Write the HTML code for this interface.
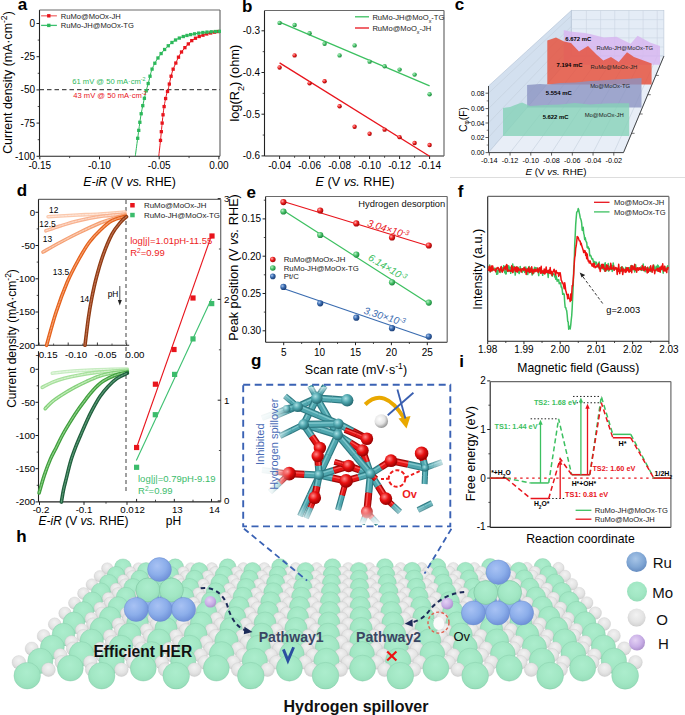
<!DOCTYPE html>
<html><head><meta charset="utf-8"><style>
html,body{margin:0;padding:0;background:#fff;}
svg{display:block;font-family:"Liberation Sans", sans-serif;}
</style></head><body>
<svg width="685" height="715" viewBox="0 0 685 715">
<defs>
<radialGradient id="gG" cx="35%" cy="35%" r="65%"><stop offset="0" stop-color="#b8f0c8"/><stop offset="0.5" stop-color="#4cc46c"/><stop offset="1" stop-color="#1f8a40"/></radialGradient>
<radialGradient id="gR" cx="35%" cy="35%" r="65%"><stop offset="0" stop-color="#ffb0b0"/><stop offset="0.5" stop-color="#ee2020"/><stop offset="1" stop-color="#a00808"/></radialGradient>
<radialGradient id="gB" cx="35%" cy="35%" r="65%"><stop offset="0" stop-color="#a8c4ee"/><stop offset="0.5" stop-color="#3a6cb0"/><stop offset="1" stop-color="#1c3f78"/></radialGradient>
<radialGradient id="sG" cx="50%" cy="42%" r="62%" fx="48%" fy="36%"><stop offset="0" stop-color="#acedcd"/><stop offset="0.6" stop-color="#a2e7c4"/><stop offset="0.88" stop-color="#98dfbb"/><stop offset="1" stop-color="#86d2ab"/></radialGradient>
<radialGradient id="sW" cx="50%" cy="40%" r="62%" fx="48%" fy="34%"><stop offset="0" stop-color="#f2f2f2"/><stop offset="0.6" stop-color="#e4e4e4"/><stop offset="0.88" stop-color="#d6d6d6"/><stop offset="1" stop-color="#c0c0c0"/></radialGradient>
<radialGradient id="sRu" cx="40%" cy="35%" r="70%"><stop offset="0" stop-color="#a8c2f4"/><stop offset="0.55" stop-color="#8caeea"/><stop offset="1" stop-color="#6b8dd6"/></radialGradient>
<radialGradient id="sH" cx="40%" cy="35%" r="70%"><stop offset="0" stop-color="#e4d2f4"/><stop offset="0.6" stop-color="#c8aee6"/><stop offset="1" stop-color="#a88cc8"/></radialGradient>
<radialGradient id="mR" cx="38%" cy="35%" r="65%"><stop offset="0" stop-color="#ff8a8a"/><stop offset="0.5" stop-color="#e81010"/><stop offset="1" stop-color="#980000"/></radialGradient>
<radialGradient id="mT" cx="38%" cy="35%" r="65%"><stop offset="0" stop-color="#a8e0e4"/><stop offset="0.5" stop-color="#4fa6ae"/><stop offset="1" stop-color="#256a72"/></radialGradient>
<radialGradient id="mW" cx="38%" cy="35%" r="65%"><stop offset="0" stop-color="#ffffff"/><stop offset="0.6" stop-color="#e4e4e4"/><stop offset="1" stop-color="#9a9a9a"/></radialGradient>
<linearGradient id="fadeL" x1="0" y1="0" x2="1" y2="0"><stop offset="0" stop-color="#fff" stop-opacity="1"/><stop offset="0.13" stop-color="#fff" stop-opacity="0.9"/><stop offset="0.22" stop-color="#fff" stop-opacity="0"/><stop offset="0.9" stop-color="#fff" stop-opacity="0"/><stop offset="1" stop-color="#fff" stop-opacity="0.9"/></linearGradient>
<linearGradient id="fadeB" x1="0" y1="0" x2="0" y2="1"><stop offset="0" stop-color="#fff" stop-opacity="0.6"/><stop offset="0.05" stop-color="#fff" stop-opacity="0"/><stop offset="0.86" stop-color="#fff" stop-opacity="0"/><stop offset="1" stop-color="#fff" stop-opacity="0.95"/></linearGradient>
<radialGradient id="sRuL" cx="45%" cy="35%" r="70%"><stop offset="0" stop-color="#a8c6e8"/><stop offset="0.6" stop-color="#80a6d4"/><stop offset="1" stop-color="#5f86bc"/></radialGradient>
</defs>
<text x="17.8" y="10.3" font-size="17" fill="#000" font-weight="bold" >a</text>
<line x1="39.5" y1="156.3" x2="220" y2="156.3" stroke="#222" stroke-width="1.1" />
<line x1="39.5" y1="10" x2="39.5" y2="156.3" stroke="#222" stroke-width="1.1" />
<line x1="39.5" y1="10" x2="220" y2="10" stroke="#6a6a6a" stroke-width="1.2" />
<line x1="220" y1="10" x2="220" y2="156.3" stroke="#6a6a6a" stroke-width="1.2" />
<line x1="36.5" y1="23.5" x2="39.5" y2="23.5" stroke="#222" stroke-width="1" />
<text x="35" y="27" font-size="10" fill="#000" text-anchor="end" >0</text>
<line x1="36.5" y1="56.7" x2="39.5" y2="56.7" stroke="#222" stroke-width="1" />
<text x="35" y="60.2" font-size="10" fill="#000" text-anchor="end" >-25</text>
<line x1="36.5" y1="89.9" x2="39.5" y2="89.9" stroke="#222" stroke-width="1" />
<text x="35" y="93.4" font-size="10" fill="#000" text-anchor="end" >-50</text>
<line x1="36.5" y1="123.1" x2="39.5" y2="123.1" stroke="#222" stroke-width="1" />
<text x="35" y="126.6" font-size="10" fill="#000" text-anchor="end" >-75</text>
<line x1="36.5" y1="156.3" x2="39.5" y2="156.3" stroke="#222" stroke-width="1" />
<text x="35" y="159.8" font-size="10" fill="#000" text-anchor="end" >-100</text>
<line x1="37.7" y1="40.1" x2="39.5" y2="40.1" stroke="#222" stroke-width="0.8" />
<line x1="37.7" y1="73.3" x2="39.5" y2="73.3" stroke="#222" stroke-width="0.8" />
<line x1="37.7" y1="106.5" x2="39.5" y2="106.5" stroke="#222" stroke-width="0.8" />
<line x1="37.7" y1="139.7" x2="39.5" y2="139.7" stroke="#222" stroke-width="0.8" />
<line x1="39.8" y1="156.3" x2="39.8" y2="159.3" stroke="#222" stroke-width="1" />
<text x="39.8" y="169.2" font-size="10" fill="#000" text-anchor="middle" >-0.15</text>
<line x1="99.5" y1="156.3" x2="99.5" y2="159.3" stroke="#222" stroke-width="1" />
<text x="99.5" y="169.2" font-size="10" fill="#000" text-anchor="middle" >-0.10</text>
<line x1="159.2" y1="156.3" x2="159.2" y2="159.3" stroke="#222" stroke-width="1" />
<text x="159.2" y="169.2" font-size="10" fill="#000" text-anchor="middle" >-0.05</text>
<line x1="218.9" y1="156.3" x2="218.9" y2="159.3" stroke="#222" stroke-width="1" />
<text x="218.9" y="169.2" font-size="10" fill="#000" text-anchor="middle" >0.00</text>
<line x1="69.65" y1="156.3" x2="69.65" y2="158.1" stroke="#222" stroke-width="0.8" />
<line x1="129.35" y1="156.3" x2="129.35" y2="158.1" stroke="#222" stroke-width="0.8" />
<line x1="189.05" y1="156.3" x2="189.05" y2="158.1" stroke="#222" stroke-width="0.8" />
<text x="129.6" y="186.3" font-size="12.35" fill="#000" text-anchor="middle" ><tspan font-style="italic">E-iR</tspan> (V <tspan font-style="italic">vs.</tspan> RHE)</text>
<text x="11.8" y="82.5" font-size="12.4" fill="#000" text-anchor="middle" transform="rotate(-90 11.8 82.5)">Current density (mA·cm<tspan baseline-shift="super" font-size="70%">-2</tspan>)</text>
<line x1="39.5" y1="89.7" x2="220" y2="89.7" stroke="#222" stroke-width="1" stroke-dasharray="4.5,3"/>
<path d="M158.8,156 C159.08,153.4 159.72,147.93 160.5,140.4 C161.28,132.87 162.52,118.37 163.5,110.8 C164.48,103.23 165.63,98.52 166.4,95 C167.17,91.48 167.47,92.2 168.1,89.7 C168.73,87.2 169.47,83.12 170.2,80 C170.93,76.88 171.67,73.58 172.5,71 C173.33,68.42 174.35,66.5 175.2,64.5 C176.05,62.5 176.77,60.75 177.6,59 C178.43,57.25 179.3,55.5 180.2,54 C181.1,52.5 181.85,51.47 183,50 C184.15,48.53 185.55,46.83 187.1,45.2 C188.65,43.57 190.55,41.53 192.3,40.2 C194.05,38.87 195.82,38.03 197.6,37.2 C199.38,36.37 201.25,35.8 203,35.2 C204.75,34.6 206.27,34.08 208.1,33.6 C209.93,33.12 212.02,32.68 214,32.3 C215.98,31.92 219,31.47 220,31.3" fill="none" stroke="#e8141c" stroke-width="1" />
<rect x="158.85" y="138.75" width="3.3" height="3.3" fill="#e8141c" stroke="none" stroke-width="1" />
<rect x="159.68" y="130.03" width="3.3" height="3.3" fill="#e8141c" stroke="none" stroke-width="1" />
<rect x="160.51" y="121.42" width="3.3" height="3.3" fill="#e8141c" stroke="none" stroke-width="1" />
<rect x="161.38" y="113.13" width="3.3" height="3.3" fill="#e8141c" stroke="none" stroke-width="1" />
<rect x="162.46" y="104.94" width="3.3" height="3.3" fill="#e8141c" stroke="none" stroke-width="1" />
<rect x="163.97" y="96.88" width="3.3" height="3.3" fill="#e8141c" stroke="none" stroke-width="1" />
<rect x="165.87" y="89.81" width="3.3" height="3.3" fill="#e8141c" stroke="none" stroke-width="1" />
<rect x="167.68" y="82.39" width="3.3" height="3.3" fill="#e8141c" stroke="none" stroke-width="1" />
<rect x="169.44" y="74.58" width="3.3" height="3.3" fill="#e8141c" stroke="none" stroke-width="1" />
<rect x="171.5" y="67.53" width="3.3" height="3.3" fill="#e8141c" stroke="none" stroke-width="1" />
<rect x="174.17" y="61.39" width="3.3" height="3.3" fill="#e8141c" stroke="none" stroke-width="1" />
<rect x="176.84" y="55.52" width="3.3" height="3.3" fill="#e8141c" stroke="none" stroke-width="1" />
<rect x="179.86" y="50.34" width="3.3" height="3.3" fill="#e8141c" stroke="none" stroke-width="1" />
<rect x="183.25" y="46.01" width="3.3" height="3.3" fill="#e8141c" stroke="none" stroke-width="1" />
<rect x="186.67" y="42.27" width="3.3" height="3.3" fill="#e8141c" stroke="none" stroke-width="1" />
<rect x="190.12" y="38.97" width="3.3" height="3.3" fill="#e8141c" stroke="none" stroke-width="1" />
<rect x="193.82" y="36.58" width="3.3" height="3.3" fill="#e8141c" stroke="none" stroke-width="1" />
<rect x="197.57" y="34.86" width="3.3" height="3.3" fill="#e8141c" stroke="none" stroke-width="1" />
<rect x="201.35" y="33.55" width="3.3" height="3.3" fill="#e8141c" stroke="none" stroke-width="1" />
<rect x="205.13" y="32.32" width="3.3" height="3.3" fill="#e8141c" stroke="none" stroke-width="1" />
<rect x="209.04" y="31.33" width="3.3" height="3.3" fill="#e8141c" stroke="none" stroke-width="1" />
<rect x="212.97" y="30.53" width="3.3" height="3.3" fill="#e8141c" stroke="none" stroke-width="1" />
<rect x="216.69" y="29.91" width="3.3" height="3.3" fill="#e8141c" stroke="none" stroke-width="1" />
<path d="M135.3,156 C135.7,153.05 136.75,145.17 137.7,138.3 C138.65,131.43 139.78,121.9 141,114.8 C142.22,107.7 143.68,101.35 145,95.7 C146.32,90.05 147.78,85.17 148.9,80.9 C150.02,76.63 150.53,73.37 151.7,70.1 C152.87,66.83 154.58,63.7 155.9,61.3 C157.22,58.9 158.35,57.45 159.6,55.7 C160.85,53.95 161.6,52.78 163.4,50.8 C165.2,48.82 168.2,45.7 170.4,43.8 C172.6,41.9 174.12,40.72 176.6,39.4 C179.08,38.08 181.8,36.92 185.3,35.9 C188.8,34.88 193.8,33.95 197.6,33.3 C201.4,32.65 204.37,32.33 208.1,32 C211.83,31.67 218.02,31.42 220,31.3" fill="none" stroke="#2cb85a" stroke-width="1" />
<rect x="136.05" y="136.65" width="3.3" height="3.3" fill="#2cb85a" stroke="none" stroke-width="1" />
<rect x="137.1" y="128.73" width="3.3" height="3.3" fill="#2cb85a" stroke="none" stroke-width="1" />
<rect x="138.2" y="120.62" width="3.3" height="3.3" fill="#2cb85a" stroke="none" stroke-width="1" />
<rect x="139.53" y="112.09" width="3.3" height="3.3" fill="#2cb85a" stroke="none" stroke-width="1" />
<rect x="141.11" y="104.02" width="3.3" height="3.3" fill="#2cb85a" stroke="none" stroke-width="1" />
<rect x="142.75" y="96.64" width="3.3" height="3.3" fill="#2cb85a" stroke="none" stroke-width="1" />
<rect x="144.56" y="89.17" width="3.3" height="3.3" fill="#2cb85a" stroke="none" stroke-width="1" />
<rect x="146.54" y="81.89" width="3.3" height="3.3" fill="#2cb85a" stroke="none" stroke-width="1" />
<rect x="148.38" y="74.55" width="3.3" height="3.3" fill="#2cb85a" stroke="none" stroke-width="1" />
<rect x="150.42" y="67.47" width="3.3" height="3.3" fill="#2cb85a" stroke="none" stroke-width="1" />
<rect x="153.2" y="61.58" width="3.3" height="3.3" fill="#2cb85a" stroke="none" stroke-width="1" />
<rect x="156.31" y="56.34" width="3.3" height="3.3" fill="#2cb85a" stroke="none" stroke-width="1" />
<rect x="159.47" y="51.91" width="3.3" height="3.3" fill="#2cb85a" stroke="none" stroke-width="1" />
<rect x="162.96" y="47.84" width="3.3" height="3.3" fill="#2cb85a" stroke="none" stroke-width="1" />
<rect x="166.61" y="44.13" width="3.3" height="3.3" fill="#2cb85a" stroke="none" stroke-width="1" />
<rect x="170.3" y="40.85" width="3.3" height="3.3" fill="#2cb85a" stroke="none" stroke-width="1" />
<rect x="173.89" y="38.34" width="3.3" height="3.3" fill="#2cb85a" stroke="none" stroke-width="1" />
<rect x="177.67" y="36.42" width="3.3" height="3.3" fill="#2cb85a" stroke="none" stroke-width="1" />
<rect x="181.64" y="34.88" width="3.3" height="3.3" fill="#2cb85a" stroke="none" stroke-width="1" />
<rect x="185.32" y="33.8" width="3.3" height="3.3" fill="#2cb85a" stroke="none" stroke-width="1" />
<rect x="189.04" y="32.95" width="3.3" height="3.3" fill="#2cb85a" stroke="none" stroke-width="1" />
<rect x="192.92" y="32.19" width="3.3" height="3.3" fill="#2cb85a" stroke="none" stroke-width="1" />
<rect x="197.07" y="31.46" width="3.3" height="3.3" fill="#2cb85a" stroke="none" stroke-width="1" />
<rect x="201.22" y="30.88" width="3.3" height="3.3" fill="#2cb85a" stroke="none" stroke-width="1" />
<rect x="205.35" y="30.45" width="3.3" height="3.3" fill="#2cb85a" stroke="none" stroke-width="1" />
<rect x="209.61" y="30.12" width="3.3" height="3.3" fill="#2cb85a" stroke="none" stroke-width="1" />
<rect x="213.73" y="29.88" width="3.3" height="3.3" fill="#2cb85a" stroke="none" stroke-width="1" />
<rect x="217.64" y="29.69" width="3.3" height="3.3" fill="#2cb85a" stroke="none" stroke-width="1" />
<line x1="41.1" y1="15.8" x2="56.9" y2="15.8" stroke="#f07070" stroke-width="1.3" />
<rect x="47.1" y="14.1" width="3.4" height="3.4" fill="#e8141c" stroke="none" stroke-width="1" />
<line x1="41.1" y1="25.4" x2="56.9" y2="25.4" stroke="#3cc070" stroke-width="1.3" />
<rect x="47.1" y="23.7" width="3.4" height="3.4" fill="#2cb85a" stroke="none" stroke-width="1" />
<text x="60.7" y="18.5" font-size="7.6" fill="#222" >RuMo@MoOx-JH</text>
<text x="60.7" y="28.1" font-size="7.6" fill="#222" >RuMo-JH@MoOx-TG</text>
<text x="145.5" y="84.2" font-size="7.6" fill="#2cb85a" text-anchor="end" >61 mV @ 50 mA·cm<tspan baseline-shift="super" font-size="70%">-2</tspan></text>
<text x="146.5" y="97.6" font-size="7.6" fill="#e8141c" text-anchor="end" >43 mV @ 50 mA·cm<tspan baseline-shift="super" font-size="70%">-2</tspan></text>
<text x="242.1" y="12" font-size="17" fill="#000" font-weight="bold" >b</text>
<line x1="264.5" y1="156" x2="444" y2="156" stroke="#222" stroke-width="1.1" />
<line x1="264.5" y1="10.5" x2="264.5" y2="156" stroke="#222" stroke-width="1.1" />
<line x1="264.5" y1="10.5" x2="444" y2="10.5" stroke="#6a6a6a" stroke-width="1.2" />
<line x1="444" y1="10.5" x2="444" y2="156" stroke="#6a6a6a" stroke-width="1.2" />
<line x1="261.5" y1="30.8" x2="264.5" y2="30.8" stroke="#222" stroke-width="1" />
<text x="260" y="34.3" font-size="10" fill="#000" text-anchor="end" >-0.3</text>
<line x1="261.5" y1="72.5" x2="264.5" y2="72.5" stroke="#222" stroke-width="1" />
<text x="260" y="76" font-size="10" fill="#000" text-anchor="end" >-0.4</text>
<line x1="261.5" y1="114.2" x2="264.5" y2="114.2" stroke="#222" stroke-width="1" />
<text x="260" y="117.7" font-size="10" fill="#000" text-anchor="end" >-0.5</text>
<line x1="261.5" y1="155.9" x2="264.5" y2="155.9" stroke="#222" stroke-width="1" />
<text x="260" y="159.4" font-size="10" fill="#000" text-anchor="end" >-0.6</text>
<line x1="262.7" y1="51.65" x2="264.5" y2="51.65" stroke="#222" stroke-width="0.8" />
<line x1="262.7" y1="93.35" x2="264.5" y2="93.35" stroke="#222" stroke-width="0.8" />
<line x1="262.7" y1="135.05" x2="264.5" y2="135.05" stroke="#222" stroke-width="0.8" />
<line x1="279.6" y1="156" x2="279.6" y2="159" stroke="#222" stroke-width="1" />
<text x="279.6" y="169.2" font-size="10" fill="#000" text-anchor="middle" >-0.04</text>
<line x1="309.6" y1="156" x2="309.6" y2="159" stroke="#222" stroke-width="1" />
<text x="309.6" y="169.2" font-size="10" fill="#000" text-anchor="middle" >-0.06</text>
<line x1="339.6" y1="156" x2="339.6" y2="159" stroke="#222" stroke-width="1" />
<text x="339.6" y="169.2" font-size="10" fill="#000" text-anchor="middle" >-0.08</text>
<line x1="369.6" y1="156" x2="369.6" y2="159" stroke="#222" stroke-width="1" />
<text x="369.6" y="169.2" font-size="10" fill="#000" text-anchor="middle" >-0.10</text>
<line x1="399.6" y1="156" x2="399.6" y2="159" stroke="#222" stroke-width="1" />
<text x="399.6" y="169.2" font-size="10" fill="#000" text-anchor="middle" >-0.12</text>
<line x1="429.6" y1="156" x2="429.6" y2="159" stroke="#222" stroke-width="1" />
<text x="429.6" y="169.2" font-size="10" fill="#000" text-anchor="middle" >-0.14</text>
<line x1="294.6" y1="156" x2="294.6" y2="157.8" stroke="#222" stroke-width="0.8" />
<line x1="324.6" y1="156" x2="324.6" y2="157.8" stroke="#222" stroke-width="0.8" />
<line x1="354.6" y1="156" x2="354.6" y2="157.8" stroke="#222" stroke-width="0.8" />
<line x1="384.6" y1="156" x2="384.6" y2="157.8" stroke="#222" stroke-width="0.8" />
<line x1="414.6" y1="156" x2="414.6" y2="157.8" stroke="#222" stroke-width="0.8" />
<text x="354.9" y="186.3" font-size="12.7" fill="#000" text-anchor="middle" ><tspan font-style="italic">E</tspan> (V <tspan font-style="italic">vs.</tspan> RHE)</text>
<text x="238.6" y="83.2" font-size="12.8" fill="#000" text-anchor="middle" transform="rotate(-90 238.6 83.2)">log(R<tspan baseline-shift="sub" font-size="70%">2</tspan>) (ohm)</text>
<line x1="279.6" y1="22.04" x2="429.6" y2="85.84" stroke="#3cc060" stroke-width="1.3" />
<line x1="279.6" y1="62.91" x2="429.6" y2="156.32" stroke="#e8141c" stroke-width="1.3" />
<circle cx="279.6" cy="22.88" r="2.2" fill="url(#gG)" />
<circle cx="279.6" cy="67.5" r="2.2" fill="url(#gR)" />
<circle cx="294.6" cy="24.96" r="2.2" fill="url(#gG)" />
<circle cx="294.6" cy="55.4" r="2.2" fill="url(#gR)" />
<circle cx="309.6" cy="33.3" r="2.2" fill="url(#gG)" />
<circle cx="309.6" cy="83.34" r="2.2" fill="url(#gR)" />
<circle cx="324.6" cy="43.73" r="2.2" fill="url(#gG)" />
<circle cx="324.6" cy="81.26" r="2.2" fill="url(#gR)" />
<circle cx="339.6" cy="55.4" r="2.2" fill="url(#gG)" />
<circle cx="339.6" cy="106.28" r="2.2" fill="url(#gR)" />
<circle cx="354.6" cy="45.4" r="2.2" fill="url(#gG)" />
<circle cx="354.6" cy="126.71" r="2.2" fill="url(#gR)" />
<circle cx="369.6" cy="61.66" r="2.2" fill="url(#gG)" />
<circle cx="369.6" cy="133.8" r="2.2" fill="url(#gR)" />
<circle cx="384.6" cy="66.25" r="2.2" fill="url(#gG)" />
<circle cx="384.6" cy="129.63" r="2.2" fill="url(#gR)" />
<circle cx="399.6" cy="69.58" r="2.2" fill="url(#gG)" />
<circle cx="399.6" cy="137.14" r="2.2" fill="url(#gR)" />
<circle cx="414.6" cy="74.59" r="2.2" fill="url(#gG)" />
<circle cx="414.6" cy="142.97" r="2.2" fill="url(#gR)" />
<circle cx="429.6" cy="94.18" r="2.2" fill="url(#gG)" />
<circle cx="429.6" cy="145.06" r="2.2" fill="url(#gR)" />
<line x1="355" y1="16.8" x2="369" y2="16.8" stroke="#3cc060" stroke-width="1.3" />
<line x1="355" y1="28" x2="369" y2="28" stroke="#e8141c" stroke-width="1.3" />
<text x="372.4" y="19.5" font-size="7.6" fill="#222" >RuMo-JH@MoO<tspan baseline-shift="sub" font-size="70%">x</tspan>-TG</text>
<text x="372.4" y="30.7" font-size="7.6" fill="#222" >RuMo@MoO<tspan baseline-shift="sub" font-size="70%">x</tspan>-JH</text>
<text x="16.3" y="542.2" font-size="17" fill="#000" font-weight="bold" >h</text>
<circle cx="107.22" cy="568.39" r="5.68" fill="url(#sW)" stroke="#bcbcbc" stroke-width="0.4" stroke-opacity="0.6"/>
<circle cx="138.6" cy="568.37" r="5.69" fill="url(#sW)" stroke="#bcbcbc" stroke-width="0.4" stroke-opacity="0.6"/>
<circle cx="159.53" cy="568.35" r="5.69" fill="url(#sW)" stroke="#bcbcbc" stroke-width="0.4" stroke-opacity="0.6"/>
<circle cx="190.94" cy="568.33" r="5.69" fill="url(#sW)" stroke="#bcbcbc" stroke-width="0.4" stroke-opacity="0.6"/>
<circle cx="211.88" cy="568.31" r="5.69" fill="url(#sW)" stroke="#bcbcbc" stroke-width="0.4" stroke-opacity="0.6"/>
<circle cx="243.31" cy="568.28" r="5.69" fill="url(#sW)" stroke="#bcbcbc" stroke-width="0.4" stroke-opacity="0.6"/>
<circle cx="264.28" cy="568.27" r="5.69" fill="url(#sW)" stroke="#bcbcbc" stroke-width="0.4" stroke-opacity="0.6"/>
<circle cx="295.73" cy="568.24" r="5.69" fill="url(#sW)" stroke="#bcbcbc" stroke-width="0.4" stroke-opacity="0.6"/>
<circle cx="316.71" cy="568.22" r="5.69" fill="url(#sW)" stroke="#bcbcbc" stroke-width="0.4" stroke-opacity="0.6"/>
<circle cx="348.19" cy="568.2" r="5.7" fill="url(#sW)" stroke="#bcbcbc" stroke-width="0.4" stroke-opacity="0.6"/>
<circle cx="369.19" cy="568.18" r="5.7" fill="url(#sW)" stroke="#bcbcbc" stroke-width="0.4" stroke-opacity="0.6"/>
<circle cx="400.7" cy="568.16" r="5.7" fill="url(#sW)" stroke="#bcbcbc" stroke-width="0.4" stroke-opacity="0.6"/>
<circle cx="421.71" cy="568.14" r="5.7" fill="url(#sW)" stroke="#bcbcbc" stroke-width="0.4" stroke-opacity="0.6"/>
<circle cx="453.24" cy="568.11" r="5.7" fill="url(#sW)" stroke="#bcbcbc" stroke-width="0.4" stroke-opacity="0.6"/>
<circle cx="474.27" cy="568.1" r="5.7" fill="url(#sW)" stroke="#bcbcbc" stroke-width="0.4" stroke-opacity="0.6"/>
<circle cx="505.82" cy="568.07" r="5.7" fill="url(#sW)" stroke="#bcbcbc" stroke-width="0.4" stroke-opacity="0.6"/>
<circle cx="526.87" cy="568.05" r="5.71" fill="url(#sW)" stroke="#bcbcbc" stroke-width="0.4" stroke-opacity="0.6"/>
<circle cx="558.45" cy="568.03" r="5.71" fill="url(#sW)" stroke="#bcbcbc" stroke-width="0.4" stroke-opacity="0.6"/>
<circle cx="122.91" cy="567.32" r="8.41" fill="url(#sG)" stroke="#7fc7a2" stroke-width="0.5" stroke-opacity="0.7"/>
<circle cx="175.23" cy="567.28" r="8.42" fill="url(#sG)" stroke="#7fc7a2" stroke-width="0.5" stroke-opacity="0.7"/>
<circle cx="227.6" cy="567.23" r="8.42" fill="url(#sG)" stroke="#7fc7a2" stroke-width="0.5" stroke-opacity="0.7"/>
<circle cx="280" cy="567.19" r="8.43" fill="url(#sG)" stroke="#7fc7a2" stroke-width="0.5" stroke-opacity="0.7"/>
<circle cx="332.45" cy="567.15" r="8.44" fill="url(#sG)" stroke="#7fc7a2" stroke-width="0.5" stroke-opacity="0.7"/>
<circle cx="384.94" cy="567.1" r="8.45" fill="url(#sG)" stroke="#7fc7a2" stroke-width="0.5" stroke-opacity="0.7"/>
<circle cx="437.47" cy="567.06" r="8.46" fill="url(#sG)" stroke="#7fc7a2" stroke-width="0.5" stroke-opacity="0.7"/>
<circle cx="490.04" cy="567.02" r="8.47" fill="url(#sG)" stroke="#7fc7a2" stroke-width="0.5" stroke-opacity="0.7"/>
<circle cx="542.66" cy="566.97" r="8.48" fill="url(#sG)" stroke="#7fc7a2" stroke-width="0.5" stroke-opacity="0.7"/>
<circle cx="130.11" cy="572.25" r="5.74" fill="url(#sW)" stroke="#bcbcbc" stroke-width="0.4" stroke-opacity="0.6"/>
<circle cx="161.98" cy="572.23" r="5.74" fill="url(#sW)" stroke="#bcbcbc" stroke-width="0.4" stroke-opacity="0.6"/>
<circle cx="183.24" cy="572.21" r="5.74" fill="url(#sW)" stroke="#bcbcbc" stroke-width="0.4" stroke-opacity="0.6"/>
<circle cx="215.13" cy="572.19" r="5.74" fill="url(#sW)" stroke="#bcbcbc" stroke-width="0.4" stroke-opacity="0.6"/>
<circle cx="236.4" cy="572.17" r="5.74" fill="url(#sW)" stroke="#bcbcbc" stroke-width="0.4" stroke-opacity="0.6"/>
<circle cx="268.32" cy="572.14" r="5.74" fill="url(#sW)" stroke="#bcbcbc" stroke-width="0.4" stroke-opacity="0.6"/>
<circle cx="289.61" cy="572.13" r="5.74" fill="url(#sW)" stroke="#bcbcbc" stroke-width="0.4" stroke-opacity="0.6"/>
<circle cx="321.55" cy="572.1" r="5.75" fill="url(#sW)" stroke="#bcbcbc" stroke-width="0.4" stroke-opacity="0.6"/>
<circle cx="342.86" cy="572.09" r="5.75" fill="url(#sW)" stroke="#bcbcbc" stroke-width="0.4" stroke-opacity="0.6"/>
<circle cx="374.83" cy="572.06" r="5.75" fill="url(#sW)" stroke="#bcbcbc" stroke-width="0.4" stroke-opacity="0.6"/>
<circle cx="396.15" cy="572.05" r="5.75" fill="url(#sW)" stroke="#bcbcbc" stroke-width="0.4" stroke-opacity="0.6"/>
<circle cx="428.15" cy="572.02" r="5.75" fill="url(#sW)" stroke="#bcbcbc" stroke-width="0.4" stroke-opacity="0.6"/>
<circle cx="449.48" cy="572" r="5.75" fill="url(#sW)" stroke="#bcbcbc" stroke-width="0.4" stroke-opacity="0.6"/>
<circle cx="481.51" cy="571.98" r="5.75" fill="url(#sW)" stroke="#bcbcbc" stroke-width="0.4" stroke-opacity="0.6"/>
<circle cx="502.86" cy="571.96" r="5.76" fill="url(#sW)" stroke="#bcbcbc" stroke-width="0.4" stroke-opacity="0.6"/>
<circle cx="534.91" cy="571.94" r="5.76" fill="url(#sW)" stroke="#bcbcbc" stroke-width="0.4" stroke-opacity="0.6"/>
<circle cx="146.05" cy="571.16" r="8.58" fill="url(#sG)" stroke="#7fc7a2" stroke-width="0.5" stroke-opacity="0.7"/>
<circle cx="199.18" cy="571.12" r="8.59" fill="url(#sG)" stroke="#7fc7a2" stroke-width="0.5" stroke-opacity="0.7"/>
<circle cx="252.36" cy="571.08" r="8.59" fill="url(#sG)" stroke="#7fc7a2" stroke-width="0.5" stroke-opacity="0.7"/>
<circle cx="305.58" cy="571.04" r="8.6" fill="url(#sG)" stroke="#7fc7a2" stroke-width="0.5" stroke-opacity="0.7"/>
<circle cx="358.84" cy="570.99" r="8.61" fill="url(#sG)" stroke="#7fc7a2" stroke-width="0.5" stroke-opacity="0.7"/>
<circle cx="412.15" cy="570.95" r="8.62" fill="url(#sG)" stroke="#7fc7a2" stroke-width="0.5" stroke-opacity="0.7"/>
<circle cx="465.49" cy="570.91" r="8.63" fill="url(#sG)" stroke="#7fc7a2" stroke-width="0.5" stroke-opacity="0.7"/>
<circle cx="518.88" cy="570.87" r="8.64" fill="url(#sG)" stroke="#7fc7a2" stroke-width="0.5" stroke-opacity="0.7"/>
<circle cx="99.81" cy="576.27" r="5.79" fill="url(#sW)" stroke="#bcbcbc" stroke-width="0.4" stroke-opacity="0.6"/>
<circle cx="132.15" cy="576.25" r="5.79" fill="url(#sW)" stroke="#bcbcbc" stroke-width="0.4" stroke-opacity="0.6"/>
<circle cx="153.72" cy="576.23" r="5.79" fill="url(#sW)" stroke="#bcbcbc" stroke-width="0.4" stroke-opacity="0.6"/>
<circle cx="186.09" cy="576.21" r="5.79" fill="url(#sW)" stroke="#bcbcbc" stroke-width="0.4" stroke-opacity="0.6"/>
<circle cx="207.68" cy="576.19" r="5.79" fill="url(#sW)" stroke="#bcbcbc" stroke-width="0.4" stroke-opacity="0.6"/>
<circle cx="240.08" cy="576.17" r="5.79" fill="url(#sW)" stroke="#bcbcbc" stroke-width="0.4" stroke-opacity="0.6"/>
<circle cx="261.68" cy="576.15" r="5.8" fill="url(#sW)" stroke="#bcbcbc" stroke-width="0.4" stroke-opacity="0.6"/>
<circle cx="294.1" cy="576.13" r="5.8" fill="url(#sW)" stroke="#bcbcbc" stroke-width="0.4" stroke-opacity="0.6"/>
<circle cx="315.73" cy="576.11" r="5.8" fill="url(#sW)" stroke="#bcbcbc" stroke-width="0.4" stroke-opacity="0.6"/>
<circle cx="348.17" cy="576.09" r="5.8" fill="url(#sW)" stroke="#bcbcbc" stroke-width="0.4" stroke-opacity="0.6"/>
<circle cx="369.82" cy="576.07" r="5.8" fill="url(#sW)" stroke="#bcbcbc" stroke-width="0.4" stroke-opacity="0.6"/>
<circle cx="402.29" cy="576.05" r="5.8" fill="url(#sW)" stroke="#bcbcbc" stroke-width="0.4" stroke-opacity="0.6"/>
<circle cx="423.95" cy="576.03" r="5.8" fill="url(#sW)" stroke="#bcbcbc" stroke-width="0.4" stroke-opacity="0.6"/>
<circle cx="456.45" cy="576.01" r="5.81" fill="url(#sW)" stroke="#bcbcbc" stroke-width="0.4" stroke-opacity="0.6"/>
<circle cx="478.13" cy="575.99" r="5.81" fill="url(#sW)" stroke="#bcbcbc" stroke-width="0.4" stroke-opacity="0.6"/>
<circle cx="510.65" cy="575.97" r="5.81" fill="url(#sW)" stroke="#bcbcbc" stroke-width="0.4" stroke-opacity="0.6"/>
<circle cx="532.35" cy="575.95" r="5.81" fill="url(#sW)" stroke="#bcbcbc" stroke-width="0.4" stroke-opacity="0.6"/>
<circle cx="564.9" cy="575.92" r="5.81" fill="url(#sW)" stroke="#bcbcbc" stroke-width="0.4" stroke-opacity="0.6"/>
<circle cx="115.98" cy="575.17" r="8.74" fill="url(#sG)" stroke="#7fc7a2" stroke-width="0.5" stroke-opacity="0.7"/>
<circle cx="169.91" cy="575.13" r="8.75" fill="url(#sG)" stroke="#7fc7a2" stroke-width="0.5" stroke-opacity="0.7"/>
<circle cx="223.88" cy="575.08" r="8.76" fill="url(#sG)" stroke="#7fc7a2" stroke-width="0.5" stroke-opacity="0.7"/>
<circle cx="277.89" cy="575.04" r="8.77" fill="url(#sG)" stroke="#7fc7a2" stroke-width="0.5" stroke-opacity="0.7"/>
<circle cx="331.95" cy="575" r="8.78" fill="url(#sG)" stroke="#7fc7a2" stroke-width="0.5" stroke-opacity="0.7"/>
<circle cx="386.05" cy="574.96" r="8.79" fill="url(#sG)" stroke="#7fc7a2" stroke-width="0.5" stroke-opacity="0.7"/>
<circle cx="440.2" cy="574.92" r="8.8" fill="url(#sG)" stroke="#7fc7a2" stroke-width="0.5" stroke-opacity="0.7"/>
<circle cx="494.39" cy="574.88" r="8.81" fill="url(#sG)" stroke="#7fc7a2" stroke-width="0.5" stroke-opacity="0.7"/>
<circle cx="548.62" cy="574.84" r="8.82" fill="url(#sG)" stroke="#7fc7a2" stroke-width="0.5" stroke-opacity="0.7"/>
<circle cx="123.3" cy="580.38" r="5.84" fill="url(#sW)" stroke="#bcbcbc" stroke-width="0.4" stroke-opacity="0.6"/>
<circle cx="156.16" cy="580.35" r="5.84" fill="url(#sW)" stroke="#bcbcbc" stroke-width="0.4" stroke-opacity="0.6"/>
<circle cx="178.08" cy="580.34" r="5.85" fill="url(#sW)" stroke="#bcbcbc" stroke-width="0.4" stroke-opacity="0.6"/>
<circle cx="210.96" cy="580.31" r="5.85" fill="url(#sW)" stroke="#bcbcbc" stroke-width="0.4" stroke-opacity="0.6"/>
<circle cx="232.9" cy="580.3" r="5.85" fill="url(#sW)" stroke="#bcbcbc" stroke-width="0.4" stroke-opacity="0.6"/>
<circle cx="265.81" cy="580.27" r="5.85" fill="url(#sW)" stroke="#bcbcbc" stroke-width="0.4" stroke-opacity="0.6"/>
<circle cx="287.76" cy="580.26" r="5.85" fill="url(#sW)" stroke="#bcbcbc" stroke-width="0.4" stroke-opacity="0.6"/>
<circle cx="320.7" cy="580.23" r="5.85" fill="url(#sW)" stroke="#bcbcbc" stroke-width="0.4" stroke-opacity="0.6"/>
<circle cx="342.67" cy="580.22" r="5.85" fill="url(#sW)" stroke="#bcbcbc" stroke-width="0.4" stroke-opacity="0.6"/>
<circle cx="375.64" cy="580.2" r="5.86" fill="url(#sW)" stroke="#bcbcbc" stroke-width="0.4" stroke-opacity="0.6"/>
<circle cx="397.63" cy="580.18" r="5.86" fill="url(#sW)" stroke="#bcbcbc" stroke-width="0.4" stroke-opacity="0.6"/>
<circle cx="430.62" cy="580.16" r="5.86" fill="url(#sW)" stroke="#bcbcbc" stroke-width="0.4" stroke-opacity="0.6"/>
<circle cx="452.63" cy="580.14" r="5.86" fill="url(#sW)" stroke="#bcbcbc" stroke-width="0.4" stroke-opacity="0.6"/>
<circle cx="485.65" cy="580.12" r="5.86" fill="url(#sW)" stroke="#bcbcbc" stroke-width="0.4" stroke-opacity="0.6"/>
<circle cx="507.67" cy="580.1" r="5.86" fill="url(#sW)" stroke="#bcbcbc" stroke-width="0.4" stroke-opacity="0.6"/>
<circle cx="540.72" cy="580.08" r="5.86" fill="url(#sW)" stroke="#bcbcbc" stroke-width="0.4" stroke-opacity="0.6"/>
<circle cx="139.73" cy="579.25" r="8.93" fill="url(#sG)" stroke="#7fc7a2" stroke-width="0.5" stroke-opacity="0.7"/>
<circle cx="194.52" cy="579.21" r="8.93" fill="url(#sG)" stroke="#7fc7a2" stroke-width="0.5" stroke-opacity="0.7"/>
<circle cx="249.35" cy="579.17" r="8.94" fill="url(#sG)" stroke="#7fc7a2" stroke-width="0.5" stroke-opacity="0.7"/>
<circle cx="304.23" cy="579.13" r="8.95" fill="url(#sG)" stroke="#7fc7a2" stroke-width="0.5" stroke-opacity="0.7"/>
<circle cx="359.15" cy="579.09" r="8.96" fill="url(#sG)" stroke="#7fc7a2" stroke-width="0.5" stroke-opacity="0.7"/>
<circle cx="414.12" cy="579.05" r="8.97" fill="url(#sG)" stroke="#7fc7a2" stroke-width="0.5" stroke-opacity="0.7"/>
<circle cx="469.14" cy="579.01" r="8.98" fill="url(#sG)" stroke="#7fc7a2" stroke-width="0.5" stroke-opacity="0.7"/>
<circle cx="524.2" cy="578.97" r="8.99" fill="url(#sG)" stroke="#7fc7a2" stroke-width="0.5" stroke-opacity="0.7"/>
<circle cx="91.93" cy="584.65" r="5.9" fill="url(#sW)" stroke="#bcbcbc" stroke-width="0.4" stroke-opacity="0.6"/>
<circle cx="125.3" cy="584.63" r="5.9" fill="url(#sW)" stroke="#bcbcbc" stroke-width="0.4" stroke-opacity="0.6"/>
<circle cx="147.55" cy="584.61" r="5.9" fill="url(#sW)" stroke="#bcbcbc" stroke-width="0.4" stroke-opacity="0.6"/>
<circle cx="180.94" cy="584.59" r="5.9" fill="url(#sW)" stroke="#bcbcbc" stroke-width="0.4" stroke-opacity="0.6"/>
<circle cx="203.21" cy="584.57" r="5.9" fill="url(#sW)" stroke="#bcbcbc" stroke-width="0.4" stroke-opacity="0.6"/>
<circle cx="236.63" cy="584.55" r="5.9" fill="url(#sW)" stroke="#bcbcbc" stroke-width="0.4" stroke-opacity="0.6"/>
<circle cx="258.92" cy="584.54" r="5.91" fill="url(#sW)" stroke="#bcbcbc" stroke-width="0.4" stroke-opacity="0.6"/>
<circle cx="292.37" cy="584.51" r="5.91" fill="url(#sW)" stroke="#bcbcbc" stroke-width="0.4" stroke-opacity="0.6"/>
<circle cx="314.68" cy="584.5" r="5.91" fill="url(#sW)" stroke="#bcbcbc" stroke-width="0.4" stroke-opacity="0.6"/>
<circle cx="348.15" cy="584.47" r="5.91" fill="url(#sW)" stroke="#bcbcbc" stroke-width="0.4" stroke-opacity="0.6"/>
<circle cx="370.48" cy="584.46" r="5.91" fill="url(#sW)" stroke="#bcbcbc" stroke-width="0.4" stroke-opacity="0.6"/>
<circle cx="403.99" cy="584.44" r="5.91" fill="url(#sW)" stroke="#bcbcbc" stroke-width="0.4" stroke-opacity="0.6"/>
<circle cx="426.33" cy="584.42" r="5.91" fill="url(#sW)" stroke="#bcbcbc" stroke-width="0.4" stroke-opacity="0.6"/>
<circle cx="459.86" cy="584.4" r="5.92" fill="url(#sW)" stroke="#bcbcbc" stroke-width="0.4" stroke-opacity="0.6"/>
<circle cx="482.23" cy="584.38" r="5.92" fill="url(#sW)" stroke="#bcbcbc" stroke-width="0.4" stroke-opacity="0.6"/>
<circle cx="515.79" cy="584.36" r="5.92" fill="url(#sW)" stroke="#bcbcbc" stroke-width="0.4" stroke-opacity="0.6"/>
<circle cx="538.17" cy="584.35" r="5.92" fill="url(#sW)" stroke="#bcbcbc" stroke-width="0.4" stroke-opacity="0.6"/>
<circle cx="571.76" cy="584.32" r="5.92" fill="url(#sW)" stroke="#bcbcbc" stroke-width="0.4" stroke-opacity="0.6"/>
<circle cx="108.61" cy="583.51" r="9.1" fill="url(#sG)" stroke="#7fc7a2" stroke-width="0.5" stroke-opacity="0.7"/>
<circle cx="164.24" cy="583.47" r="9.11" fill="url(#sG)" stroke="#7fc7a2" stroke-width="0.5" stroke-opacity="0.7"/>
<circle cx="219.92" cy="583.43" r="9.12" fill="url(#sG)" stroke="#7fc7a2" stroke-width="0.5" stroke-opacity="0.7"/>
<circle cx="275.64" cy="583.39" r="9.13" fill="url(#sG)" stroke="#7fc7a2" stroke-width="0.5" stroke-opacity="0.7"/>
<circle cx="331.41" cy="583.36" r="9.14" fill="url(#sG)" stroke="#7fc7a2" stroke-width="0.5" stroke-opacity="0.7"/>
<circle cx="387.23" cy="583.32" r="9.15" fill="url(#sG)" stroke="#7fc7a2" stroke-width="0.5" stroke-opacity="0.7"/>
<circle cx="443.1" cy="583.28" r="9.16" fill="url(#sG)" stroke="#7fc7a2" stroke-width="0.5" stroke-opacity="0.7"/>
<circle cx="499.01" cy="583.24" r="9.17" fill="url(#sG)" stroke="#7fc7a2" stroke-width="0.5" stroke-opacity="0.7"/>
<circle cx="554.97" cy="583.2" r="9.18" fill="url(#sG)" stroke="#7fc7a2" stroke-width="0.5" stroke-opacity="0.7"/>
<circle cx="116.05" cy="589.02" r="5.95" fill="url(#sW)" stroke="#bcbcbc" stroke-width="0.4" stroke-opacity="0.6"/>
<circle cx="149.97" cy="589" r="5.96" fill="url(#sW)" stroke="#bcbcbc" stroke-width="0.4" stroke-opacity="0.6"/>
<circle cx="172.59" cy="588.99" r="5.96" fill="url(#sW)" stroke="#bcbcbc" stroke-width="0.4" stroke-opacity="0.6"/>
<circle cx="206.53" cy="588.96" r="5.96" fill="url(#sW)" stroke="#bcbcbc" stroke-width="0.4" stroke-opacity="0.6"/>
<circle cx="229.17" cy="588.95" r="5.96" fill="url(#sW)" stroke="#bcbcbc" stroke-width="0.4" stroke-opacity="0.6"/>
<circle cx="263.14" cy="588.93" r="5.96" fill="url(#sW)" stroke="#bcbcbc" stroke-width="0.4" stroke-opacity="0.6"/>
<circle cx="285.8" cy="588.91" r="5.96" fill="url(#sW)" stroke="#bcbcbc" stroke-width="0.4" stroke-opacity="0.6"/>
<circle cx="319.8" cy="588.89" r="5.97" fill="url(#sW)" stroke="#bcbcbc" stroke-width="0.4" stroke-opacity="0.6"/>
<circle cx="342.47" cy="588.88" r="5.97" fill="url(#sW)" stroke="#bcbcbc" stroke-width="0.4" stroke-opacity="0.6"/>
<circle cx="376.5" cy="588.85" r="5.97" fill="url(#sW)" stroke="#bcbcbc" stroke-width="0.4" stroke-opacity="0.6"/>
<circle cx="399.2" cy="588.84" r="5.97" fill="url(#sW)" stroke="#bcbcbc" stroke-width="0.4" stroke-opacity="0.6"/>
<circle cx="433.26" cy="588.82" r="5.97" fill="url(#sW)" stroke="#bcbcbc" stroke-width="0.4" stroke-opacity="0.6"/>
<circle cx="455.97" cy="588.8" r="5.97" fill="url(#sW)" stroke="#bcbcbc" stroke-width="0.4" stroke-opacity="0.6"/>
<circle cx="490.06" cy="588.78" r="5.97" fill="url(#sW)" stroke="#bcbcbc" stroke-width="0.4" stroke-opacity="0.6"/>
<circle cx="512.8" cy="588.76" r="5.98" fill="url(#sW)" stroke="#bcbcbc" stroke-width="0.4" stroke-opacity="0.6"/>
<circle cx="546.91" cy="588.74" r="5.98" fill="url(#sW)" stroke="#bcbcbc" stroke-width="0.4" stroke-opacity="0.6"/>
<circle cx="133.01" cy="587.87" r="9.3" fill="url(#sG)" stroke="#7fc7a2" stroke-width="0.5" stroke-opacity="0.7"/>
<circle cx="189.55" cy="587.83" r="9.31" fill="url(#sG)" stroke="#7fc7a2" stroke-width="0.5" stroke-opacity="0.7"/>
<circle cx="246.15" cy="587.79" r="9.32" fill="url(#sG)" stroke="#7fc7a2" stroke-width="0.5" stroke-opacity="0.7"/>
<circle cx="302.79" cy="587.75" r="9.33" fill="url(#sG)" stroke="#7fc7a2" stroke-width="0.5" stroke-opacity="0.7"/>
<circle cx="359.49" cy="587.71" r="9.34" fill="url(#sG)" stroke="#7fc7a2" stroke-width="0.5" stroke-opacity="0.7"/>
<circle cx="416.23" cy="587.68" r="9.35" fill="url(#sG)" stroke="#7fc7a2" stroke-width="0.5" stroke-opacity="0.7"/>
<circle cx="473.02" cy="587.64" r="9.36" fill="url(#sG)" stroke="#7fc7a2" stroke-width="0.5" stroke-opacity="0.7"/>
<circle cx="529.85" cy="587.6" r="9.37" fill="url(#sG)" stroke="#7fc7a2" stroke-width="0.5" stroke-opacity="0.7"/>
<circle cx="83.54" cy="593.58" r="6.01" fill="url(#sW)" stroke="#bcbcbc" stroke-width="0.4" stroke-opacity="0.6"/>
<circle cx="117.99" cy="593.55" r="6.01" fill="url(#sW)" stroke="#bcbcbc" stroke-width="0.4" stroke-opacity="0.6"/>
<circle cx="140.97" cy="593.54" r="6.01" fill="url(#sW)" stroke="#bcbcbc" stroke-width="0.4" stroke-opacity="0.6"/>
<circle cx="175.45" cy="593.52" r="6.02" fill="url(#sW)" stroke="#bcbcbc" stroke-width="0.4" stroke-opacity="0.6"/>
<circle cx="198.45" cy="593.5" r="6.02" fill="url(#sW)" stroke="#bcbcbc" stroke-width="0.4" stroke-opacity="0.6"/>
<circle cx="232.96" cy="593.48" r="6.02" fill="url(#sW)" stroke="#bcbcbc" stroke-width="0.4" stroke-opacity="0.6"/>
<circle cx="255.98" cy="593.47" r="6.02" fill="url(#sW)" stroke="#bcbcbc" stroke-width="0.4" stroke-opacity="0.6"/>
<circle cx="290.52" cy="593.45" r="6.02" fill="url(#sW)" stroke="#bcbcbc" stroke-width="0.4" stroke-opacity="0.6"/>
<circle cx="313.56" cy="593.43" r="6.02" fill="url(#sW)" stroke="#bcbcbc" stroke-width="0.4" stroke-opacity="0.6"/>
<circle cx="348.13" cy="593.41" r="6.03" fill="url(#sW)" stroke="#bcbcbc" stroke-width="0.4" stroke-opacity="0.6"/>
<circle cx="371.19" cy="593.4" r="6.03" fill="url(#sW)" stroke="#bcbcbc" stroke-width="0.4" stroke-opacity="0.6"/>
<circle cx="405.79" cy="593.38" r="6.03" fill="url(#sW)" stroke="#bcbcbc" stroke-width="0.4" stroke-opacity="0.6"/>
<circle cx="428.87" cy="593.36" r="6.03" fill="url(#sW)" stroke="#bcbcbc" stroke-width="0.4" stroke-opacity="0.6"/>
<circle cx="463.5" cy="593.34" r="6.03" fill="url(#sW)" stroke="#bcbcbc" stroke-width="0.4" stroke-opacity="0.6"/>
<circle cx="486.6" cy="593.33" r="6.03" fill="url(#sW)" stroke="#bcbcbc" stroke-width="0.4" stroke-opacity="0.6"/>
<circle cx="521.26" cy="593.31" r="6.03" fill="url(#sW)" stroke="#bcbcbc" stroke-width="0.4" stroke-opacity="0.6"/>
<circle cx="544.38" cy="593.29" r="6.04" fill="url(#sW)" stroke="#bcbcbc" stroke-width="0.4" stroke-opacity="0.6"/>
<circle cx="579.07" cy="593.27" r="6.04" fill="url(#sW)" stroke="#bcbcbc" stroke-width="0.4" stroke-opacity="0.6"/>
<circle cx="100.77" cy="592.4" r="9.49" fill="url(#sG)" stroke="#7fc7a2" stroke-width="0.5" stroke-opacity="0.7"/>
<circle cx="158.21" cy="592.36" r="9.5" fill="url(#sG)" stroke="#7fc7a2" stroke-width="0.5" stroke-opacity="0.7"/>
<circle cx="215.71" cy="592.33" r="9.51" fill="url(#sG)" stroke="#7fc7a2" stroke-width="0.5" stroke-opacity="0.7"/>
<circle cx="273.25" cy="592.29" r="9.52" fill="url(#sG)" stroke="#7fc7a2" stroke-width="0.5" stroke-opacity="0.7"/>
<circle cx="330.84" cy="592.25" r="9.53" fill="url(#sG)" stroke="#7fc7a2" stroke-width="0.5" stroke-opacity="0.7"/>
<circle cx="388.49" cy="592.22" r="9.55" fill="url(#sG)" stroke="#7fc7a2" stroke-width="0.5" stroke-opacity="0.7"/>
<circle cx="446.18" cy="592.18" r="9.56" fill="url(#sG)" stroke="#7fc7a2" stroke-width="0.5" stroke-opacity="0.7"/>
<circle cx="503.93" cy="592.15" r="9.57" fill="url(#sG)" stroke="#7fc7a2" stroke-width="0.5" stroke-opacity="0.7"/>
<circle cx="561.72" cy="592.11" r="9.58" fill="url(#sG)" stroke="#7fc7a2" stroke-width="0.5" stroke-opacity="0.7"/>
<circle cx="108.32" cy="598.24" r="6.07" fill="url(#sW)" stroke="#bcbcbc" stroke-width="0.4" stroke-opacity="0.6"/>
<circle cx="143.36" cy="598.22" r="6.07" fill="url(#sW)" stroke="#bcbcbc" stroke-width="0.4" stroke-opacity="0.6"/>
<circle cx="166.73" cy="598.21" r="6.08" fill="url(#sW)" stroke="#bcbcbc" stroke-width="0.4" stroke-opacity="0.6"/>
<circle cx="201.8" cy="598.19" r="6.08" fill="url(#sW)" stroke="#bcbcbc" stroke-width="0.4" stroke-opacity="0.6"/>
<circle cx="225.19" cy="598.18" r="6.08" fill="url(#sW)" stroke="#bcbcbc" stroke-width="0.4" stroke-opacity="0.6"/>
<circle cx="260.29" cy="598.15" r="6.08" fill="url(#sW)" stroke="#bcbcbc" stroke-width="0.4" stroke-opacity="0.6"/>
<circle cx="283.7" cy="598.14" r="6.08" fill="url(#sW)" stroke="#bcbcbc" stroke-width="0.4" stroke-opacity="0.6"/>
<circle cx="318.83" cy="598.12" r="6.08" fill="url(#sW)" stroke="#bcbcbc" stroke-width="0.4" stroke-opacity="0.6"/>
<circle cx="342.26" cy="598.11" r="6.08" fill="url(#sW)" stroke="#bcbcbc" stroke-width="0.4" stroke-opacity="0.6"/>
<circle cx="377.42" cy="598.09" r="6.09" fill="url(#sW)" stroke="#bcbcbc" stroke-width="0.4" stroke-opacity="0.6"/>
<circle cx="400.88" cy="598.07" r="6.09" fill="url(#sW)" stroke="#bcbcbc" stroke-width="0.4" stroke-opacity="0.6"/>
<circle cx="436.07" cy="598.05" r="6.09" fill="url(#sW)" stroke="#bcbcbc" stroke-width="0.4" stroke-opacity="0.6"/>
<circle cx="459.54" cy="598.04" r="6.09" fill="url(#sW)" stroke="#bcbcbc" stroke-width="0.4" stroke-opacity="0.6"/>
<circle cx="494.77" cy="598.02" r="6.09" fill="url(#sW)" stroke="#bcbcbc" stroke-width="0.4" stroke-opacity="0.6"/>
<circle cx="518.26" cy="598" r="6.09" fill="url(#sW)" stroke="#bcbcbc" stroke-width="0.4" stroke-opacity="0.6"/>
<circle cx="553.52" cy="597.98" r="6.1" fill="url(#sW)" stroke="#bcbcbc" stroke-width="0.4" stroke-opacity="0.6"/>
<circle cx="125.84" cy="597.05" r="9.7" fill="url(#sG)" stroke="#7fc7a2" stroke-width="0.5" stroke-opacity="0.7"/>
<circle cx="184.26" cy="597.01" r="9.71" fill="url(#sG)" stroke="#7fc7a2" stroke-width="0.5" stroke-opacity="0.7"/>
<circle cx="242.74" cy="596.98" r="9.72" fill="url(#sG)" stroke="#7fc7a2" stroke-width="0.5" stroke-opacity="0.7"/>
<circle cx="301.26" cy="596.94" r="9.74" fill="url(#sG)" stroke="#7fc7a2" stroke-width="0.5" stroke-opacity="0.7"/>
<circle cx="359.84" cy="596.91" r="9.75" fill="url(#sG)" stroke="#7fc7a2" stroke-width="0.5" stroke-opacity="0.7"/>
<circle cx="418.47" cy="596.87" r="9.76" fill="url(#sG)" stroke="#7fc7a2" stroke-width="0.5" stroke-opacity="0.7"/>
<circle cx="477.15" cy="596.84" r="9.77" fill="url(#sG)" stroke="#7fc7a2" stroke-width="0.5" stroke-opacity="0.7"/>
<circle cx="535.89" cy="596.8" r="9.78" fill="url(#sG)" stroke="#7fc7a2" stroke-width="0.5" stroke-opacity="0.7"/>
<circle cx="74.58" cy="603.1" r="6.13" fill="url(#sW)" stroke="#bcbcbc" stroke-width="0.4" stroke-opacity="0.6"/>
<circle cx="110.2" cy="603.08" r="6.13" fill="url(#sW)" stroke="#bcbcbc" stroke-width="0.4" stroke-opacity="0.6"/>
<circle cx="133.95" cy="603.07" r="6.13" fill="url(#sW)" stroke="#bcbcbc" stroke-width="0.4" stroke-opacity="0.6"/>
<circle cx="169.6" cy="603.05" r="6.14" fill="url(#sW)" stroke="#bcbcbc" stroke-width="0.4" stroke-opacity="0.6"/>
<circle cx="193.37" cy="603.04" r="6.14" fill="url(#sW)" stroke="#bcbcbc" stroke-width="0.4" stroke-opacity="0.6"/>
<circle cx="229.05" cy="603.02" r="6.14" fill="url(#sW)" stroke="#bcbcbc" stroke-width="0.4" stroke-opacity="0.6"/>
<circle cx="252.84" cy="603.01" r="6.14" fill="url(#sW)" stroke="#bcbcbc" stroke-width="0.4" stroke-opacity="0.6"/>
<circle cx="288.55" cy="602.99" r="6.14" fill="url(#sW)" stroke="#bcbcbc" stroke-width="0.4" stroke-opacity="0.6"/>
<circle cx="312.37" cy="602.97" r="6.14" fill="url(#sW)" stroke="#bcbcbc" stroke-width="0.4" stroke-opacity="0.6"/>
<circle cx="348.11" cy="602.95" r="6.15" fill="url(#sW)" stroke="#bcbcbc" stroke-width="0.4" stroke-opacity="0.6"/>
<circle cx="371.95" cy="602.94" r="6.15" fill="url(#sW)" stroke="#bcbcbc" stroke-width="0.4" stroke-opacity="0.6"/>
<circle cx="407.72" cy="602.92" r="6.15" fill="url(#sW)" stroke="#bcbcbc" stroke-width="0.4" stroke-opacity="0.6"/>
<circle cx="431.58" cy="602.91" r="6.15" fill="url(#sW)" stroke="#bcbcbc" stroke-width="0.4" stroke-opacity="0.6"/>
<circle cx="467.39" cy="602.89" r="6.15" fill="url(#sW)" stroke="#bcbcbc" stroke-width="0.4" stroke-opacity="0.6"/>
<circle cx="491.27" cy="602.88" r="6.15" fill="url(#sW)" stroke="#bcbcbc" stroke-width="0.4" stroke-opacity="0.6"/>
<circle cx="527.11" cy="602.86" r="6.16" fill="url(#sW)" stroke="#bcbcbc" stroke-width="0.4" stroke-opacity="0.6"/>
<circle cx="551.01" cy="602.84" r="6.16" fill="url(#sW)" stroke="#bcbcbc" stroke-width="0.4" stroke-opacity="0.6"/>
<circle cx="586.88" cy="602.82" r="6.16" fill="url(#sW)" stroke="#bcbcbc" stroke-width="0.4" stroke-opacity="0.6"/>
<circle cx="92.39" cy="601.89" r="9.91" fill="url(#sG)" stroke="#7fc7a2" stroke-width="0.5" stroke-opacity="0.7"/>
<circle cx="151.77" cy="601.86" r="9.92" fill="url(#sG)" stroke="#7fc7a2" stroke-width="0.5" stroke-opacity="0.7"/>
<circle cx="211.21" cy="601.82" r="9.93" fill="url(#sG)" stroke="#7fc7a2" stroke-width="0.5" stroke-opacity="0.7"/>
<circle cx="270.69" cy="601.79" r="9.94" fill="url(#sG)" stroke="#7fc7a2" stroke-width="0.5" stroke-opacity="0.7"/>
<circle cx="330.24" cy="601.76" r="9.96" fill="url(#sG)" stroke="#7fc7a2" stroke-width="0.5" stroke-opacity="0.7"/>
<circle cx="389.83" cy="601.72" r="9.97" fill="url(#sG)" stroke="#7fc7a2" stroke-width="0.5" stroke-opacity="0.7"/>
<circle cx="449.48" cy="601.69" r="9.98" fill="url(#sG)" stroke="#7fc7a2" stroke-width="0.5" stroke-opacity="0.7"/>
<circle cx="509.18" cy="601.66" r="9.99" fill="url(#sG)" stroke="#7fc7a2" stroke-width="0.5" stroke-opacity="0.7"/>
<circle cx="568.94" cy="601.62" r="10" fill="url(#sG)" stroke="#7fc7a2" stroke-width="0.5" stroke-opacity="0.7"/>
<circle cx="100.06" cy="608.1" r="6.2" fill="url(#sW)" stroke="#bcbcbc" stroke-width="0.4" stroke-opacity="0.6"/>
<circle cx="136.3" cy="608.08" r="6.2" fill="url(#sW)" stroke="#bcbcbc" stroke-width="0.4" stroke-opacity="0.6"/>
<circle cx="160.47" cy="608.07" r="6.2" fill="url(#sW)" stroke="#bcbcbc" stroke-width="0.4" stroke-opacity="0.6"/>
<circle cx="196.74" cy="608.05" r="6.2" fill="url(#sW)" stroke="#bcbcbc" stroke-width="0.4" stroke-opacity="0.6"/>
<circle cx="220.94" cy="608.04" r="6.2" fill="url(#sW)" stroke="#bcbcbc" stroke-width="0.4" stroke-opacity="0.6"/>
<circle cx="257.24" cy="608.02" r="6.2" fill="url(#sW)" stroke="#bcbcbc" stroke-width="0.4" stroke-opacity="0.6"/>
<circle cx="281.46" cy="608.01" r="6.21" fill="url(#sW)" stroke="#bcbcbc" stroke-width="0.4" stroke-opacity="0.6"/>
<circle cx="317.8" cy="607.99" r="6.21" fill="url(#sW)" stroke="#bcbcbc" stroke-width="0.4" stroke-opacity="0.6"/>
<circle cx="342.04" cy="607.97" r="6.21" fill="url(#sW)" stroke="#bcbcbc" stroke-width="0.4" stroke-opacity="0.6"/>
<circle cx="378.41" cy="607.96" r="6.21" fill="url(#sW)" stroke="#bcbcbc" stroke-width="0.4" stroke-opacity="0.6"/>
<circle cx="402.67" cy="607.94" r="6.21" fill="url(#sW)" stroke="#bcbcbc" stroke-width="0.4" stroke-opacity="0.6"/>
<circle cx="439.08" cy="607.93" r="6.22" fill="url(#sW)" stroke="#bcbcbc" stroke-width="0.4" stroke-opacity="0.6"/>
<circle cx="463.36" cy="607.91" r="6.22" fill="url(#sW)" stroke="#bcbcbc" stroke-width="0.4" stroke-opacity="0.6"/>
<circle cx="499.8" cy="607.89" r="6.22" fill="url(#sW)" stroke="#bcbcbc" stroke-width="0.4" stroke-opacity="0.6"/>
<circle cx="524.1" cy="607.88" r="6.22" fill="url(#sW)" stroke="#bcbcbc" stroke-width="0.4" stroke-opacity="0.6"/>
<circle cx="560.57" cy="607.86" r="6.22" fill="url(#sW)" stroke="#bcbcbc" stroke-width="0.4" stroke-opacity="0.6"/>
<circle cx="118.18" cy="606.86" r="10.14" fill="url(#sG)" stroke="#7fc7a2" stroke-width="0.5" stroke-opacity="0.7"/>
<circle cx="178.6" cy="606.83" r="10.15" fill="url(#sG)" stroke="#7fc7a2" stroke-width="0.5" stroke-opacity="0.7"/>
<circle cx="239.09" cy="606.8" r="10.16" fill="url(#sG)" stroke="#7fc7a2" stroke-width="0.5" stroke-opacity="0.7"/>
<circle cx="299.63" cy="606.77" r="10.17" fill="url(#sG)" stroke="#7fc7a2" stroke-width="0.5" stroke-opacity="0.7"/>
<circle cx="360.22" cy="606.74" r="10.19" fill="url(#sG)" stroke="#7fc7a2" stroke-width="0.5" stroke-opacity="0.7"/>
<circle cx="420.87" cy="606.7" r="10.2" fill="url(#sG)" stroke="#7fc7a2" stroke-width="0.5" stroke-opacity="0.7"/>
<circle cx="481.58" cy="606.67" r="10.21" fill="url(#sG)" stroke="#7fc7a2" stroke-width="0.5" stroke-opacity="0.7"/>
<circle cx="542.34" cy="606.64" r="10.22" fill="url(#sG)" stroke="#7fc7a2" stroke-width="0.5" stroke-opacity="0.7"/>
<circle cx="65" cy="613.3" r="6.26" fill="url(#sW)" stroke="#bcbcbc" stroke-width="0.4" stroke-opacity="0.6"/>
<circle cx="101.85" cy="613.28" r="6.26" fill="url(#sW)" stroke="#bcbcbc" stroke-width="0.4" stroke-opacity="0.6"/>
<circle cx="126.44" cy="613.27" r="6.26" fill="url(#sW)" stroke="#bcbcbc" stroke-width="0.4" stroke-opacity="0.6"/>
<circle cx="163.33" cy="613.25" r="6.26" fill="url(#sW)" stroke="#bcbcbc" stroke-width="0.4" stroke-opacity="0.6"/>
<circle cx="187.93" cy="613.24" r="6.27" fill="url(#sW)" stroke="#bcbcbc" stroke-width="0.4" stroke-opacity="0.6"/>
<circle cx="224.86" cy="613.22" r="6.27" fill="url(#sW)" stroke="#bcbcbc" stroke-width="0.4" stroke-opacity="0.6"/>
<circle cx="249.48" cy="613.21" r="6.27" fill="url(#sW)" stroke="#bcbcbc" stroke-width="0.4" stroke-opacity="0.6"/>
<circle cx="286.44" cy="613.19" r="6.27" fill="url(#sW)" stroke="#bcbcbc" stroke-width="0.4" stroke-opacity="0.6"/>
<circle cx="311.09" cy="613.18" r="6.27" fill="url(#sW)" stroke="#bcbcbc" stroke-width="0.4" stroke-opacity="0.6"/>
<circle cx="348.09" cy="613.16" r="6.27" fill="url(#sW)" stroke="#bcbcbc" stroke-width="0.4" stroke-opacity="0.6"/>
<circle cx="372.76" cy="613.15" r="6.28" fill="url(#sW)" stroke="#bcbcbc" stroke-width="0.4" stroke-opacity="0.6"/>
<circle cx="409.79" cy="613.14" r="6.28" fill="url(#sW)" stroke="#bcbcbc" stroke-width="0.4" stroke-opacity="0.6"/>
<circle cx="434.48" cy="613.12" r="6.28" fill="url(#sW)" stroke="#bcbcbc" stroke-width="0.4" stroke-opacity="0.6"/>
<circle cx="471.54" cy="613.11" r="6.28" fill="url(#sW)" stroke="#bcbcbc" stroke-width="0.4" stroke-opacity="0.6"/>
<circle cx="496.26" cy="613.1" r="6.28" fill="url(#sW)" stroke="#bcbcbc" stroke-width="0.4" stroke-opacity="0.6"/>
<circle cx="533.36" cy="613.08" r="6.29" fill="url(#sW)" stroke="#bcbcbc" stroke-width="0.4" stroke-opacity="0.6"/>
<circle cx="558.1" cy="613.07" r="6.29" fill="url(#sW)" stroke="#bcbcbc" stroke-width="0.4" stroke-opacity="0.6"/>
<circle cx="595.23" cy="613.05" r="6.29" fill="url(#sW)" stroke="#bcbcbc" stroke-width="0.4" stroke-opacity="0.6"/>
<circle cx="83.42" cy="612.04" r="10.36" fill="url(#sG)" stroke="#7fc7a2" stroke-width="0.5" stroke-opacity="0.7"/>
<circle cx="144.88" cy="612.01" r="10.37" fill="url(#sG)" stroke="#7fc7a2" stroke-width="0.5" stroke-opacity="0.7"/>
<circle cx="206.39" cy="611.98" r="10.39" fill="url(#sG)" stroke="#7fc7a2" stroke-width="0.5" stroke-opacity="0.7"/>
<circle cx="267.96" cy="611.95" r="10.4" fill="url(#sG)" stroke="#7fc7a2" stroke-width="0.5" stroke-opacity="0.7"/>
<circle cx="329.59" cy="611.92" r="10.41" fill="url(#sG)" stroke="#7fc7a2" stroke-width="0.5" stroke-opacity="0.7"/>
<circle cx="391.27" cy="611.89" r="10.42" fill="url(#sG)" stroke="#7fc7a2" stroke-width="0.5" stroke-opacity="0.7"/>
<circle cx="453.01" cy="611.86" r="10.44" fill="url(#sG)" stroke="#7fc7a2" stroke-width="0.5" stroke-opacity="0.7"/>
<circle cx="514.81" cy="611.83" r="10.45" fill="url(#sG)" stroke="#7fc7a2" stroke-width="0.5" stroke-opacity="0.7"/>
<circle cx="576.66" cy="611.8" r="10.46" fill="url(#sG)" stroke="#7fc7a2" stroke-width="0.5" stroke-opacity="0.7"/>
<circle cx="91.21" cy="618.65" r="6.33" fill="url(#sW)" stroke="#bcbcbc" stroke-width="0.4" stroke-opacity="0.6"/>
<circle cx="128.74" cy="618.64" r="6.33" fill="url(#sW)" stroke="#bcbcbc" stroke-width="0.4" stroke-opacity="0.6"/>
<circle cx="153.77" cy="618.63" r="6.33" fill="url(#sW)" stroke="#bcbcbc" stroke-width="0.4" stroke-opacity="0.6"/>
<circle cx="191.33" cy="618.61" r="6.33" fill="url(#sW)" stroke="#bcbcbc" stroke-width="0.4" stroke-opacity="0.6"/>
<circle cx="216.38" cy="618.6" r="6.33" fill="url(#sW)" stroke="#bcbcbc" stroke-width="0.4" stroke-opacity="0.6"/>
<circle cx="253.98" cy="618.58" r="6.34" fill="url(#sW)" stroke="#bcbcbc" stroke-width="0.4" stroke-opacity="0.6"/>
<circle cx="279.06" cy="618.57" r="6.34" fill="url(#sW)" stroke="#bcbcbc" stroke-width="0.4" stroke-opacity="0.6"/>
<circle cx="316.69" cy="618.56" r="6.34" fill="url(#sW)" stroke="#bcbcbc" stroke-width="0.4" stroke-opacity="0.6"/>
<circle cx="341.8" cy="618.55" r="6.34" fill="url(#sW)" stroke="#bcbcbc" stroke-width="0.4" stroke-opacity="0.6"/>
<circle cx="379.47" cy="618.53" r="6.34" fill="url(#sW)" stroke="#bcbcbc" stroke-width="0.4" stroke-opacity="0.6"/>
<circle cx="404.59" cy="618.52" r="6.35" fill="url(#sW)" stroke="#bcbcbc" stroke-width="0.4" stroke-opacity="0.6"/>
<circle cx="442.3" cy="618.5" r="6.35" fill="url(#sW)" stroke="#bcbcbc" stroke-width="0.4" stroke-opacity="0.6"/>
<circle cx="467.44" cy="618.49" r="6.35" fill="url(#sW)" stroke="#bcbcbc" stroke-width="0.4" stroke-opacity="0.6"/>
<circle cx="505.19" cy="618.48" r="6.35" fill="url(#sW)" stroke="#bcbcbc" stroke-width="0.4" stroke-opacity="0.6"/>
<circle cx="530.36" cy="618.47" r="6.35" fill="url(#sW)" stroke="#bcbcbc" stroke-width="0.4" stroke-opacity="0.6"/>
<circle cx="568.14" cy="618.45" r="6.35" fill="url(#sW)" stroke="#bcbcbc" stroke-width="0.4" stroke-opacity="0.6"/>
<circle cx="109.97" cy="617.38" r="10.61" fill="url(#sG)" stroke="#7fc7a2" stroke-width="0.5" stroke-opacity="0.7"/>
<circle cx="172.55" cy="617.35" r="10.62" fill="url(#sG)" stroke="#7fc7a2" stroke-width="0.5" stroke-opacity="0.7"/>
<circle cx="235.18" cy="617.32" r="10.63" fill="url(#sG)" stroke="#7fc7a2" stroke-width="0.5" stroke-opacity="0.7"/>
<circle cx="297.87" cy="617.29" r="10.65" fill="url(#sG)" stroke="#7fc7a2" stroke-width="0.5" stroke-opacity="0.7"/>
<circle cx="360.63" cy="617.27" r="10.66" fill="url(#sG)" stroke="#7fc7a2" stroke-width="0.5" stroke-opacity="0.7"/>
<circle cx="423.44" cy="617.24" r="10.67" fill="url(#sG)" stroke="#7fc7a2" stroke-width="0.5" stroke-opacity="0.7"/>
<circle cx="486.31" cy="617.21" r="10.69" fill="url(#sG)" stroke="#7fc7a2" stroke-width="0.5" stroke-opacity="0.7"/>
<circle cx="549.24" cy="617.18" r="10.7" fill="url(#sG)" stroke="#7fc7a2" stroke-width="0.5" stroke-opacity="0.7"/>
<circle cx="54.72" cy="624.23" r="6.39" fill="url(#sW)" stroke="#bcbcbc" stroke-width="0.4" stroke-opacity="0.6"/>
<circle cx="92.91" cy="624.22" r="6.4" fill="url(#sW)" stroke="#bcbcbc" stroke-width="0.4" stroke-opacity="0.6"/>
<circle cx="118.38" cy="624.21" r="6.4" fill="url(#sW)" stroke="#bcbcbc" stroke-width="0.4" stroke-opacity="0.6"/>
<circle cx="156.6" cy="624.19" r="6.4" fill="url(#sW)" stroke="#bcbcbc" stroke-width="0.4" stroke-opacity="0.6"/>
<circle cx="182.1" cy="624.18" r="6.4" fill="url(#sW)" stroke="#bcbcbc" stroke-width="0.4" stroke-opacity="0.6"/>
<circle cx="220.36" cy="624.17" r="6.4" fill="url(#sW)" stroke="#bcbcbc" stroke-width="0.4" stroke-opacity="0.6"/>
<circle cx="245.88" cy="624.16" r="6.4" fill="url(#sW)" stroke="#bcbcbc" stroke-width="0.4" stroke-opacity="0.6"/>
<circle cx="284.18" cy="624.14" r="6.41" fill="url(#sW)" stroke="#bcbcbc" stroke-width="0.4" stroke-opacity="0.6"/>
<circle cx="309.72" cy="624.13" r="6.41" fill="url(#sW)" stroke="#bcbcbc" stroke-width="0.4" stroke-opacity="0.6"/>
<circle cx="348.06" cy="624.12" r="6.41" fill="url(#sW)" stroke="#bcbcbc" stroke-width="0.4" stroke-opacity="0.6"/>
<circle cx="373.63" cy="624.11" r="6.41" fill="url(#sW)" stroke="#bcbcbc" stroke-width="0.4" stroke-opacity="0.6"/>
<circle cx="412" cy="624.09" r="6.41" fill="url(#sW)" stroke="#bcbcbc" stroke-width="0.4" stroke-opacity="0.6"/>
<circle cx="437.59" cy="624.08" r="6.42" fill="url(#sW)" stroke="#bcbcbc" stroke-width="0.4" stroke-opacity="0.6"/>
<circle cx="476" cy="624.07" r="6.42" fill="url(#sW)" stroke="#bcbcbc" stroke-width="0.4" stroke-opacity="0.6"/>
<circle cx="501.62" cy="624.06" r="6.42" fill="url(#sW)" stroke="#bcbcbc" stroke-width="0.4" stroke-opacity="0.6"/>
<circle cx="540.07" cy="624.04" r="6.42" fill="url(#sW)" stroke="#bcbcbc" stroke-width="0.4" stroke-opacity="0.6"/>
<circle cx="565.71" cy="624.03" r="6.42" fill="url(#sW)" stroke="#bcbcbc" stroke-width="0.4" stroke-opacity="0.6"/>
<circle cx="604.19" cy="624.02" r="6.43" fill="url(#sW)" stroke="#bcbcbc" stroke-width="0.4" stroke-opacity="0.6"/>
<circle cx="73.81" cy="622.93" r="10.85" fill="url(#sG)" stroke="#7fc7a2" stroke-width="0.5" stroke-opacity="0.7"/>
<circle cx="137.49" cy="622.91" r="10.86" fill="url(#sG)" stroke="#7fc7a2" stroke-width="0.5" stroke-opacity="0.7"/>
<circle cx="201.23" cy="622.88" r="10.88" fill="url(#sG)" stroke="#7fc7a2" stroke-width="0.5" stroke-opacity="0.7"/>
<circle cx="265.03" cy="622.85" r="10.89" fill="url(#sG)" stroke="#7fc7a2" stroke-width="0.5" stroke-opacity="0.7"/>
<circle cx="328.89" cy="622.83" r="10.91" fill="url(#sG)" stroke="#7fc7a2" stroke-width="0.5" stroke-opacity="0.7"/>
<circle cx="392.81" cy="622.8" r="10.92" fill="url(#sG)" stroke="#7fc7a2" stroke-width="0.5" stroke-opacity="0.7"/>
<circle cx="456.8" cy="622.78" r="10.93" fill="url(#sG)" stroke="#7fc7a2" stroke-width="0.5" stroke-opacity="0.7"/>
<circle cx="520.84" cy="622.75" r="10.95" fill="url(#sG)" stroke="#7fc7a2" stroke-width="0.5" stroke-opacity="0.7"/>
<circle cx="584.95" cy="622.73" r="10.96" fill="url(#sG)" stroke="#7fc7a2" stroke-width="0.5" stroke-opacity="0.7"/>
<circle cx="81.7" cy="629.99" r="6.47" fill="url(#sW)" stroke="#bcbcbc" stroke-width="0.4" stroke-opacity="0.6"/>
<circle cx="120.61" cy="629.97" r="6.47" fill="url(#sW)" stroke="#bcbcbc" stroke-width="0.4" stroke-opacity="0.6"/>
<circle cx="146.57" cy="629.97" r="6.47" fill="url(#sW)" stroke="#bcbcbc" stroke-width="0.4" stroke-opacity="0.6"/>
<circle cx="185.51" cy="629.95" r="6.47" fill="url(#sW)" stroke="#bcbcbc" stroke-width="0.4" stroke-opacity="0.6"/>
<circle cx="211.49" cy="629.94" r="6.47" fill="url(#sW)" stroke="#bcbcbc" stroke-width="0.4" stroke-opacity="0.6"/>
<circle cx="250.48" cy="629.93" r="6.48" fill="url(#sW)" stroke="#bcbcbc" stroke-width="0.4" stroke-opacity="0.6"/>
<circle cx="276.48" cy="629.92" r="6.48" fill="url(#sW)" stroke="#bcbcbc" stroke-width="0.4" stroke-opacity="0.6"/>
<circle cx="315.51" cy="629.91" r="6.48" fill="url(#sW)" stroke="#bcbcbc" stroke-width="0.4" stroke-opacity="0.6"/>
<circle cx="341.54" cy="629.9" r="6.48" fill="url(#sW)" stroke="#bcbcbc" stroke-width="0.4" stroke-opacity="0.6"/>
<circle cx="380.6" cy="629.89" r="6.48" fill="url(#sW)" stroke="#bcbcbc" stroke-width="0.4" stroke-opacity="0.6"/>
<circle cx="406.65" cy="629.88" r="6.48" fill="url(#sW)" stroke="#bcbcbc" stroke-width="0.4" stroke-opacity="0.6"/>
<circle cx="445.75" cy="629.86" r="6.49" fill="url(#sW)" stroke="#bcbcbc" stroke-width="0.4" stroke-opacity="0.6"/>
<circle cx="471.83" cy="629.85" r="6.49" fill="url(#sW)" stroke="#bcbcbc" stroke-width="0.4" stroke-opacity="0.6"/>
<circle cx="510.97" cy="629.84" r="6.49" fill="url(#sW)" stroke="#bcbcbc" stroke-width="0.4" stroke-opacity="0.6"/>
<circle cx="537.08" cy="629.83" r="6.49" fill="url(#sW)" stroke="#bcbcbc" stroke-width="0.4" stroke-opacity="0.6"/>
<circle cx="576.26" cy="629.82" r="6.49" fill="url(#sW)" stroke="#bcbcbc" stroke-width="0.4" stroke-opacity="0.6"/>
<circle cx="101.16" cy="628.67" r="11.12" fill="url(#sG)" stroke="#7fc7a2" stroke-width="0.5" stroke-opacity="0.7"/>
<circle cx="166.04" cy="628.64" r="11.13" fill="url(#sG)" stroke="#7fc7a2" stroke-width="0.5" stroke-opacity="0.7"/>
<circle cx="230.98" cy="628.62" r="11.15" fill="url(#sG)" stroke="#7fc7a2" stroke-width="0.5" stroke-opacity="0.7"/>
<circle cx="295.99" cy="628.6" r="11.16" fill="url(#sG)" stroke="#7fc7a2" stroke-width="0.5" stroke-opacity="0.7"/>
<circle cx="361.06" cy="628.57" r="11.18" fill="url(#sG)" stroke="#7fc7a2" stroke-width="0.5" stroke-opacity="0.7"/>
<circle cx="426.2" cy="628.55" r="11.19" fill="url(#sG)" stroke="#7fc7a2" stroke-width="0.5" stroke-opacity="0.7"/>
<circle cx="491.4" cy="628.52" r="11.2" fill="url(#sG)" stroke="#7fc7a2" stroke-width="0.5" stroke-opacity="0.7"/>
<circle cx="556.67" cy="628.5" r="11.22" fill="url(#sG)" stroke="#7fc7a2" stroke-width="0.5" stroke-opacity="0.7"/>
<circle cx="43.67" cy="635.98" r="6.54" fill="url(#sW)" stroke="#bcbcbc" stroke-width="0.4" stroke-opacity="0.6"/>
<circle cx="83.29" cy="635.97" r="6.54" fill="url(#sW)" stroke="#bcbcbc" stroke-width="0.4" stroke-opacity="0.6"/>
<circle cx="109.72" cy="635.96" r="6.54" fill="url(#sW)" stroke="#bcbcbc" stroke-width="0.4" stroke-opacity="0.6"/>
<circle cx="149.38" cy="635.95" r="6.54" fill="url(#sW)" stroke="#bcbcbc" stroke-width="0.4" stroke-opacity="0.6"/>
<circle cx="175.83" cy="635.94" r="6.54" fill="url(#sW)" stroke="#bcbcbc" stroke-width="0.4" stroke-opacity="0.6"/>
<circle cx="215.53" cy="635.93" r="6.55" fill="url(#sW)" stroke="#bcbcbc" stroke-width="0.4" stroke-opacity="0.6"/>
<circle cx="242.01" cy="635.93" r="6.55" fill="url(#sW)" stroke="#bcbcbc" stroke-width="0.4" stroke-opacity="0.6"/>
<circle cx="281.75" cy="635.91" r="6.55" fill="url(#sW)" stroke="#bcbcbc" stroke-width="0.4" stroke-opacity="0.6"/>
<circle cx="308.25" cy="635.91" r="6.55" fill="url(#sW)" stroke="#bcbcbc" stroke-width="0.4" stroke-opacity="0.6"/>
<circle cx="348.03" cy="635.89" r="6.55" fill="url(#sW)" stroke="#bcbcbc" stroke-width="0.4" stroke-opacity="0.6"/>
<circle cx="374.56" cy="635.89" r="6.56" fill="url(#sW)" stroke="#bcbcbc" stroke-width="0.4" stroke-opacity="0.6"/>
<circle cx="414.38" cy="635.87" r="6.56" fill="url(#sW)" stroke="#bcbcbc" stroke-width="0.4" stroke-opacity="0.6"/>
<circle cx="440.94" cy="635.87" r="6.56" fill="url(#sW)" stroke="#bcbcbc" stroke-width="0.4" stroke-opacity="0.6"/>
<circle cx="480.8" cy="635.85" r="6.56" fill="url(#sW)" stroke="#bcbcbc" stroke-width="0.4" stroke-opacity="0.6"/>
<circle cx="507.38" cy="635.85" r="6.56" fill="url(#sW)" stroke="#bcbcbc" stroke-width="0.4" stroke-opacity="0.6"/>
<circle cx="547.28" cy="635.83" r="6.57" fill="url(#sW)" stroke="#bcbcbc" stroke-width="0.4" stroke-opacity="0.6"/>
<circle cx="573.89" cy="635.83" r="6.57" fill="url(#sW)" stroke="#bcbcbc" stroke-width="0.4" stroke-opacity="0.6"/>
<circle cx="613.83" cy="635.81" r="6.57" fill="url(#sW)" stroke="#bcbcbc" stroke-width="0.4" stroke-opacity="0.6"/>
<circle cx="63.48" cy="634.64" r="11.38" fill="url(#sG)" stroke="#7fc7a2" stroke-width="0.5" stroke-opacity="0.7"/>
<circle cx="129.54" cy="634.62" r="11.4" fill="url(#sG)" stroke="#7fc7a2" stroke-width="0.5" stroke-opacity="0.7"/>
<circle cx="195.68" cy="634.6" r="11.41" fill="url(#sG)" stroke="#7fc7a2" stroke-width="0.5" stroke-opacity="0.7"/>
<circle cx="261.87" cy="634.58" r="11.43" fill="url(#sG)" stroke="#7fc7a2" stroke-width="0.5" stroke-opacity="0.7"/>
<circle cx="328.14" cy="634.56" r="11.44" fill="url(#sG)" stroke="#7fc7a2" stroke-width="0.5" stroke-opacity="0.7"/>
<circle cx="394.47" cy="634.53" r="11.46" fill="url(#sG)" stroke="#7fc7a2" stroke-width="0.5" stroke-opacity="0.7"/>
<circle cx="460.87" cy="634.51" r="11.47" fill="url(#sG)" stroke="#7fc7a2" stroke-width="0.5" stroke-opacity="0.7"/>
<circle cx="527.33" cy="634.49" r="11.49" fill="url(#sG)" stroke="#7fc7a2" stroke-width="0.5" stroke-opacity="0.7"/>
<circle cx="593.86" cy="634.47" r="11.5" fill="url(#sG)" stroke="#7fc7a2" stroke-width="0.5" stroke-opacity="0.7"/>
<circle cx="71.47" cy="642.19" r="6.61" fill="url(#sW)" stroke="#bcbcbc" stroke-width="0.4" stroke-opacity="0.6"/>
<circle cx="111.87" cy="642.18" r="6.62" fill="url(#sW)" stroke="#bcbcbc" stroke-width="0.4" stroke-opacity="0.6"/>
<circle cx="138.82" cy="642.17" r="6.62" fill="url(#sW)" stroke="#bcbcbc" stroke-width="0.4" stroke-opacity="0.6"/>
<circle cx="179.25" cy="642.16" r="6.62" fill="url(#sW)" stroke="#bcbcbc" stroke-width="0.4" stroke-opacity="0.6"/>
<circle cx="206.23" cy="642.16" r="6.62" fill="url(#sW)" stroke="#bcbcbc" stroke-width="0.4" stroke-opacity="0.6"/>
<circle cx="246.71" cy="642.15" r="6.62" fill="url(#sW)" stroke="#bcbcbc" stroke-width="0.4" stroke-opacity="0.6"/>
<circle cx="273.71" cy="642.14" r="6.63" fill="url(#sW)" stroke="#bcbcbc" stroke-width="0.4" stroke-opacity="0.6"/>
<circle cx="314.23" cy="642.13" r="6.63" fill="url(#sW)" stroke="#bcbcbc" stroke-width="0.4" stroke-opacity="0.6"/>
<circle cx="341.26" cy="642.12" r="6.63" fill="url(#sW)" stroke="#bcbcbc" stroke-width="0.4" stroke-opacity="0.6"/>
<circle cx="381.82" cy="642.11" r="6.63" fill="url(#sW)" stroke="#bcbcbc" stroke-width="0.4" stroke-opacity="0.6"/>
<circle cx="408.87" cy="642.11" r="6.63" fill="url(#sW)" stroke="#bcbcbc" stroke-width="0.4" stroke-opacity="0.6"/>
<circle cx="449.48" cy="642.1" r="6.64" fill="url(#sW)" stroke="#bcbcbc" stroke-width="0.4" stroke-opacity="0.6"/>
<circle cx="476.56" cy="642.09" r="6.64" fill="url(#sW)" stroke="#bcbcbc" stroke-width="0.4" stroke-opacity="0.6"/>
<circle cx="517.21" cy="642.08" r="6.64" fill="url(#sW)" stroke="#bcbcbc" stroke-width="0.4" stroke-opacity="0.6"/>
<circle cx="544.32" cy="642.07" r="6.64" fill="url(#sW)" stroke="#bcbcbc" stroke-width="0.4" stroke-opacity="0.6"/>
<circle cx="585" cy="642.06" r="6.64" fill="url(#sW)" stroke="#bcbcbc" stroke-width="0.4" stroke-opacity="0.6"/>
<circle cx="91.67" cy="640.82" r="11.67" fill="url(#sG)" stroke="#7fc7a2" stroke-width="0.5" stroke-opacity="0.7"/>
<circle cx="159.03" cy="640.8" r="11.69" fill="url(#sG)" stroke="#7fc7a2" stroke-width="0.5" stroke-opacity="0.7"/>
<circle cx="226.46" cy="640.78" r="11.71" fill="url(#sG)" stroke="#7fc7a2" stroke-width="0.5" stroke-opacity="0.7"/>
<circle cx="293.97" cy="640.77" r="11.72" fill="url(#sG)" stroke="#7fc7a2" stroke-width="0.5" stroke-opacity="0.7"/>
<circle cx="361.53" cy="640.75" r="11.74" fill="url(#sG)" stroke="#7fc7a2" stroke-width="0.5" stroke-opacity="0.7"/>
<circle cx="429.17" cy="640.73" r="11.75" fill="url(#sG)" stroke="#7fc7a2" stroke-width="0.5" stroke-opacity="0.7"/>
<circle cx="496.88" cy="640.71" r="11.77" fill="url(#sG)" stroke="#7fc7a2" stroke-width="0.5" stroke-opacity="0.7"/>
<circle cx="564.66" cy="640.69" r="11.78" fill="url(#sG)" stroke="#7fc7a2" stroke-width="0.5" stroke-opacity="0.7"/>
<circle cx="31.76" cy="648.66" r="6.69" fill="url(#sW)" stroke="#bcbcbc" stroke-width="0.4" stroke-opacity="0.6"/>
<circle cx="72.92" cy="648.65" r="6.69" fill="url(#sW)" stroke="#bcbcbc" stroke-width="0.4" stroke-opacity="0.6"/>
<circle cx="100.38" cy="648.64" r="6.69" fill="url(#sW)" stroke="#bcbcbc" stroke-width="0.4" stroke-opacity="0.6"/>
<circle cx="141.58" cy="648.63" r="6.69" fill="url(#sW)" stroke="#bcbcbc" stroke-width="0.4" stroke-opacity="0.6"/>
<circle cx="169.07" cy="648.63" r="6.7" fill="url(#sW)" stroke="#bcbcbc" stroke-width="0.4" stroke-opacity="0.6"/>
<circle cx="210.32" cy="648.62" r="6.7" fill="url(#sW)" stroke="#bcbcbc" stroke-width="0.4" stroke-opacity="0.6"/>
<circle cx="237.83" cy="648.61" r="6.7" fill="url(#sW)" stroke="#bcbcbc" stroke-width="0.4" stroke-opacity="0.6"/>
<circle cx="279.12" cy="648.61" r="6.7" fill="url(#sW)" stroke="#bcbcbc" stroke-width="0.4" stroke-opacity="0.6"/>
<circle cx="306.66" cy="648.6" r="6.7" fill="url(#sW)" stroke="#bcbcbc" stroke-width="0.4" stroke-opacity="0.6"/>
<circle cx="348" cy="648.59" r="6.71" fill="url(#sW)" stroke="#bcbcbc" stroke-width="0.4" stroke-opacity="0.6"/>
<circle cx="375.57" cy="648.59" r="6.71" fill="url(#sW)" stroke="#bcbcbc" stroke-width="0.4" stroke-opacity="0.6"/>
<circle cx="416.95" cy="648.58" r="6.71" fill="url(#sW)" stroke="#bcbcbc" stroke-width="0.4" stroke-opacity="0.6"/>
<circle cx="444.55" cy="648.57" r="6.71" fill="url(#sW)" stroke="#bcbcbc" stroke-width="0.4" stroke-opacity="0.6"/>
<circle cx="485.97" cy="648.56" r="6.72" fill="url(#sW)" stroke="#bcbcbc" stroke-width="0.4" stroke-opacity="0.6"/>
<circle cx="513.6" cy="648.56" r="6.72" fill="url(#sW)" stroke="#bcbcbc" stroke-width="0.4" stroke-opacity="0.6"/>
<circle cx="555.06" cy="648.55" r="6.72" fill="url(#sW)" stroke="#bcbcbc" stroke-width="0.4" stroke-opacity="0.6"/>
<circle cx="582.72" cy="648.54" r="6.72" fill="url(#sW)" stroke="#bcbcbc" stroke-width="0.4" stroke-opacity="0.6"/>
<circle cx="624.23" cy="648.54" r="6.72" fill="url(#sW)" stroke="#bcbcbc" stroke-width="0.4" stroke-opacity="0.6"/>
<circle cx="52.33" cy="647.26" r="11.96" fill="url(#sG)" stroke="#7fc7a2" stroke-width="0.5" stroke-opacity="0.7"/>
<circle cx="120.98" cy="647.25" r="11.98" fill="url(#sG)" stroke="#7fc7a2" stroke-width="0.5" stroke-opacity="0.7"/>
<circle cx="189.69" cy="647.23" r="12" fill="url(#sG)" stroke="#7fc7a2" stroke-width="0.5" stroke-opacity="0.7"/>
<circle cx="258.47" cy="647.22" r="12.01" fill="url(#sG)" stroke="#7fc7a2" stroke-width="0.5" stroke-opacity="0.7"/>
<circle cx="327.33" cy="647.2" r="12.03" fill="url(#sG)" stroke="#7fc7a2" stroke-width="0.5" stroke-opacity="0.7"/>
<circle cx="396.26" cy="647.18" r="12.04" fill="url(#sG)" stroke="#7fc7a2" stroke-width="0.5" stroke-opacity="0.7"/>
<circle cx="465.26" cy="647.17" r="12.06" fill="url(#sG)" stroke="#7fc7a2" stroke-width="0.5" stroke-opacity="0.7"/>
<circle cx="534.33" cy="647.15" r="12.08" fill="url(#sG)" stroke="#7fc7a2" stroke-width="0.5" stroke-opacity="0.7"/>
<circle cx="603.47" cy="647.14" r="12.09" fill="url(#sG)" stroke="#7fc7a2" stroke-width="0.5" stroke-opacity="0.7"/>
<circle cx="60.43" cy="655.37" r="6.77" fill="url(#sW)" stroke="#bcbcbc" stroke-width="0.4" stroke-opacity="0.6"/>
<circle cx="102.43" cy="655.36" r="6.77" fill="url(#sW)" stroke="#bcbcbc" stroke-width="0.4" stroke-opacity="0.6"/>
<circle cx="130.45" cy="655.35" r="6.77" fill="url(#sW)" stroke="#bcbcbc" stroke-width="0.4" stroke-opacity="0.6"/>
<circle cx="172.5" cy="655.35" r="6.78" fill="url(#sW)" stroke="#bcbcbc" stroke-width="0.4" stroke-opacity="0.6"/>
<circle cx="200.54" cy="655.34" r="6.78" fill="url(#sW)" stroke="#bcbcbc" stroke-width="0.4" stroke-opacity="0.6"/>
<circle cx="242.63" cy="655.34" r="6.78" fill="url(#sW)" stroke="#bcbcbc" stroke-width="0.4" stroke-opacity="0.6"/>
<circle cx="270.71" cy="655.33" r="6.78" fill="url(#sW)" stroke="#bcbcbc" stroke-width="0.4" stroke-opacity="0.6"/>
<circle cx="312.85" cy="655.33" r="6.79" fill="url(#sW)" stroke="#bcbcbc" stroke-width="0.4" stroke-opacity="0.6"/>
<circle cx="340.96" cy="655.32" r="6.79" fill="url(#sW)" stroke="#bcbcbc" stroke-width="0.4" stroke-opacity="0.6"/>
<circle cx="383.14" cy="655.32" r="6.79" fill="url(#sW)" stroke="#bcbcbc" stroke-width="0.4" stroke-opacity="0.6"/>
<circle cx="411.27" cy="655.31" r="6.79" fill="url(#sW)" stroke="#bcbcbc" stroke-width="0.4" stroke-opacity="0.6"/>
<circle cx="453.5" cy="655.31" r="6.79" fill="url(#sW)" stroke="#bcbcbc" stroke-width="0.4" stroke-opacity="0.6"/>
<circle cx="481.67" cy="655.3" r="6.8" fill="url(#sW)" stroke="#bcbcbc" stroke-width="0.4" stroke-opacity="0.6"/>
<circle cx="523.94" cy="655.29" r="6.8" fill="url(#sW)" stroke="#bcbcbc" stroke-width="0.4" stroke-opacity="0.6"/>
<circle cx="552.13" cy="655.29" r="6.8" fill="url(#sW)" stroke="#bcbcbc" stroke-width="0.4" stroke-opacity="0.6"/>
<circle cx="594.45" cy="655.28" r="6.8" fill="url(#sW)" stroke="#bcbcbc" stroke-width="0.4" stroke-opacity="0.6"/>
<circle cx="81.42" cy="653.94" r="12.28" fill="url(#sG)" stroke="#7fc7a2" stroke-width="0.5" stroke-opacity="0.7"/>
<circle cx="151.47" cy="653.93" r="12.3" fill="url(#sG)" stroke="#7fc7a2" stroke-width="0.5" stroke-opacity="0.7"/>
<circle cx="221.59" cy="653.92" r="12.32" fill="url(#sG)" stroke="#7fc7a2" stroke-width="0.5" stroke-opacity="0.7"/>
<circle cx="291.78" cy="653.91" r="12.33" fill="url(#sG)" stroke="#7fc7a2" stroke-width="0.5" stroke-opacity="0.7"/>
<circle cx="362.04" cy="653.89" r="12.35" fill="url(#sG)" stroke="#7fc7a2" stroke-width="0.5" stroke-opacity="0.7"/>
<circle cx="432.38" cy="653.88" r="12.37" fill="url(#sG)" stroke="#7fc7a2" stroke-width="0.5" stroke-opacity="0.7"/>
<circle cx="502.8" cy="653.87" r="12.38" fill="url(#sG)" stroke="#7fc7a2" stroke-width="0.5" stroke-opacity="0.7"/>
<circle cx="573.29" cy="653.86" r="12.4" fill="url(#sG)" stroke="#7fc7a2" stroke-width="0.5" stroke-opacity="0.7"/>
<circle cx="18.87" cy="662.36" r="6.85" fill="url(#sW)" stroke="#bcbcbc" stroke-width="0.4" stroke-opacity="0.6"/>
<circle cx="61.71" cy="662.35" r="6.85" fill="url(#sW)" stroke="#bcbcbc" stroke-width="0.4" stroke-opacity="0.6"/>
<circle cx="90.28" cy="662.35" r="6.85" fill="url(#sW)" stroke="#bcbcbc" stroke-width="0.4" stroke-opacity="0.6"/>
<circle cx="133.16" cy="662.35" r="6.86" fill="url(#sW)" stroke="#bcbcbc" stroke-width="0.4" stroke-opacity="0.6"/>
<circle cx="161.76" cy="662.34" r="6.86" fill="url(#sW)" stroke="#bcbcbc" stroke-width="0.4" stroke-opacity="0.6"/>
<circle cx="204.68" cy="662.34" r="6.86" fill="url(#sW)" stroke="#bcbcbc" stroke-width="0.4" stroke-opacity="0.6"/>
<circle cx="233.31" cy="662.34" r="6.86" fill="url(#sW)" stroke="#bcbcbc" stroke-width="0.4" stroke-opacity="0.6"/>
<circle cx="276.29" cy="662.33" r="6.87" fill="url(#sW)" stroke="#bcbcbc" stroke-width="0.4" stroke-opacity="0.6"/>
<circle cx="304.95" cy="662.33" r="6.87" fill="url(#sW)" stroke="#bcbcbc" stroke-width="0.4" stroke-opacity="0.6"/>
<circle cx="347.97" cy="662.33" r="6.87" fill="url(#sW)" stroke="#bcbcbc" stroke-width="0.4" stroke-opacity="0.6"/>
<circle cx="376.66" cy="662.32" r="6.87" fill="url(#sW)" stroke="#bcbcbc" stroke-width="0.4" stroke-opacity="0.6"/>
<circle cx="419.73" cy="662.32" r="6.87" fill="url(#sW)" stroke="#bcbcbc" stroke-width="0.4" stroke-opacity="0.6"/>
<circle cx="448.45" cy="662.32" r="6.88" fill="url(#sW)" stroke="#bcbcbc" stroke-width="0.4" stroke-opacity="0.6"/>
<circle cx="491.56" cy="662.31" r="6.88" fill="url(#sW)" stroke="#bcbcbc" stroke-width="0.4" stroke-opacity="0.6"/>
<circle cx="520.32" cy="662.31" r="6.88" fill="url(#sW)" stroke="#bcbcbc" stroke-width="0.4" stroke-opacity="0.6"/>
<circle cx="563.48" cy="662.3" r="6.88" fill="url(#sW)" stroke="#bcbcbc" stroke-width="0.4" stroke-opacity="0.6"/>
<circle cx="592.26" cy="662.3" r="6.88" fill="url(#sW)" stroke="#bcbcbc" stroke-width="0.4" stroke-opacity="0.6"/>
<circle cx="635.47" cy="662.3" r="6.89" fill="url(#sW)" stroke="#bcbcbc" stroke-width="0.4" stroke-opacity="0.6"/>
<circle cx="40.29" cy="660.91" r="12.6" fill="url(#sG)" stroke="#7fc7a2" stroke-width="0.5" stroke-opacity="0.7"/>
<circle cx="111.71" cy="660.9" r="12.62" fill="url(#sG)" stroke="#7fc7a2" stroke-width="0.5" stroke-opacity="0.7"/>
<circle cx="183.22" cy="660.89" r="12.63" fill="url(#sG)" stroke="#7fc7a2" stroke-width="0.5" stroke-opacity="0.7"/>
<circle cx="254.8" cy="660.88" r="12.65" fill="url(#sG)" stroke="#7fc7a2" stroke-width="0.5" stroke-opacity="0.7"/>
<circle cx="326.45" cy="660.87" r="12.67" fill="url(#sG)" stroke="#7fc7a2" stroke-width="0.5" stroke-opacity="0.7"/>
<circle cx="398.19" cy="660.87" r="12.69" fill="url(#sG)" stroke="#7fc7a2" stroke-width="0.5" stroke-opacity="0.7"/>
<circle cx="470" cy="660.86" r="12.7" fill="url(#sG)" stroke="#7fc7a2" stroke-width="0.5" stroke-opacity="0.7"/>
<circle cx="541.89" cy="660.85" r="12.72" fill="url(#sG)" stroke="#7fc7a2" stroke-width="0.5" stroke-opacity="0.7"/>
<circle cx="613.86" cy="660.84" r="12.74" fill="url(#sG)" stroke="#7fc7a2" stroke-width="0.5" stroke-opacity="0.7"/>
<circle cx="48.46" cy="669.63" r="6.94" fill="url(#sW)" stroke="#bcbcbc" stroke-width="0.4" stroke-opacity="0.6"/>
<circle cx="92.21" cy="669.63" r="6.94" fill="url(#sW)" stroke="#bcbcbc" stroke-width="0.4" stroke-opacity="0.6"/>
<circle cx="121.38" cy="669.63" r="6.94" fill="url(#sW)" stroke="#bcbcbc" stroke-width="0.4" stroke-opacity="0.6"/>
<circle cx="165.17" cy="669.63" r="6.94" fill="url(#sW)" stroke="#bcbcbc" stroke-width="0.4" stroke-opacity="0.6"/>
<circle cx="194.38" cy="669.63" r="6.95" fill="url(#sW)" stroke="#bcbcbc" stroke-width="0.4" stroke-opacity="0.6"/>
<circle cx="238.22" cy="669.62" r="6.95" fill="url(#sW)" stroke="#bcbcbc" stroke-width="0.4" stroke-opacity="0.6"/>
<circle cx="267.47" cy="669.62" r="6.95" fill="url(#sW)" stroke="#bcbcbc" stroke-width="0.4" stroke-opacity="0.6"/>
<circle cx="311.35" cy="669.62" r="6.95" fill="url(#sW)" stroke="#bcbcbc" stroke-width="0.4" stroke-opacity="0.6"/>
<circle cx="340.63" cy="669.62" r="6.95" fill="url(#sW)" stroke="#bcbcbc" stroke-width="0.4" stroke-opacity="0.6"/>
<circle cx="384.56" cy="669.62" r="6.96" fill="url(#sW)" stroke="#bcbcbc" stroke-width="0.4" stroke-opacity="0.6"/>
<circle cx="413.87" cy="669.62" r="6.96" fill="url(#sW)" stroke="#bcbcbc" stroke-width="0.4" stroke-opacity="0.6"/>
<circle cx="457.86" cy="669.61" r="6.96" fill="url(#sW)" stroke="#bcbcbc" stroke-width="0.4" stroke-opacity="0.6"/>
<circle cx="487.2" cy="669.61" r="6.96" fill="url(#sW)" stroke="#bcbcbc" stroke-width="0.4" stroke-opacity="0.6"/>
<circle cx="531.23" cy="669.61" r="6.97" fill="url(#sW)" stroke="#bcbcbc" stroke-width="0.4" stroke-opacity="0.6"/>
<circle cx="560.6" cy="669.61" r="6.97" fill="url(#sW)" stroke="#bcbcbc" stroke-width="0.4" stroke-opacity="0.6"/>
<circle cx="604.68" cy="669.61" r="6.97" fill="url(#sW)" stroke="#bcbcbc" stroke-width="0.4" stroke-opacity="0.6"/>
<circle cx="70.33" cy="668.15" r="12.95" fill="url(#sG)" stroke="#7fc7a2" stroke-width="0.5" stroke-opacity="0.7"/>
<circle cx="143.28" cy="668.15" r="12.97" fill="url(#sG)" stroke="#7fc7a2" stroke-width="0.5" stroke-opacity="0.7"/>
<circle cx="216.3" cy="668.14" r="12.98" fill="url(#sG)" stroke="#7fc7a2" stroke-width="0.5" stroke-opacity="0.7"/>
<circle cx="289.41" cy="668.14" r="13" fill="url(#sG)" stroke="#7fc7a2" stroke-width="0.5" stroke-opacity="0.7"/>
<circle cx="362.59" cy="668.13" r="13.02" fill="url(#sG)" stroke="#7fc7a2" stroke-width="0.5" stroke-opacity="0.7"/>
<circle cx="435.86" cy="668.13" r="13.04" fill="url(#sG)" stroke="#7fc7a2" stroke-width="0.5" stroke-opacity="0.7"/>
<circle cx="509.21" cy="668.12" r="13.06" fill="url(#sG)" stroke="#7fc7a2" stroke-width="0.5" stroke-opacity="0.7"/>
<circle cx="582.64" cy="668.12" r="13.08" fill="url(#sG)" stroke="#7fc7a2" stroke-width="0.5" stroke-opacity="0.7"/>
<circle cx="27.22" cy="675.71" r="13.29" fill="url(#sG)" stroke="#7fc7a2" stroke-width="0.5" stroke-opacity="0.7"/>
<circle cx="101.66" cy="675.71" r="13.31" fill="url(#sG)" stroke="#7fc7a2" stroke-width="0.5" stroke-opacity="0.7"/>
<circle cx="176.19" cy="675.71" r="13.33" fill="url(#sG)" stroke="#7fc7a2" stroke-width="0.5" stroke-opacity="0.7"/>
<circle cx="250.81" cy="675.71" r="13.35" fill="url(#sG)" stroke="#7fc7a2" stroke-width="0.5" stroke-opacity="0.7"/>
<circle cx="325.51" cy="675.71" r="13.37" fill="url(#sG)" stroke="#7fc7a2" stroke-width="0.5" stroke-opacity="0.7"/>
<circle cx="400.29" cy="675.71" r="13.39" fill="url(#sG)" stroke="#7fc7a2" stroke-width="0.5" stroke-opacity="0.7"/>
<circle cx="475.15" cy="675.71" r="13.41" fill="url(#sG)" stroke="#7fc7a2" stroke-width="0.5" stroke-opacity="0.7"/>
<circle cx="550.1" cy="675.71" r="13.43" fill="url(#sG)" stroke="#7fc7a2" stroke-width="0.5" stroke-opacity="0.7"/>
<circle cx="625.14" cy="675.71" r="13.45" fill="url(#sG)" stroke="#7fc7a2" stroke-width="0.5" stroke-opacity="0.7"/>
<circle cx="171" cy="600" r="11" fill="url(#sRu)" stroke="#6a8ccf" stroke-width="0.6" stroke-opacity="0.8"/>
<circle cx="148" cy="600" r="11" fill="url(#sRu)" stroke="#6a8ccf" stroke-width="0.6" stroke-opacity="0.8"/>
<circle cx="147.9" cy="590" r="12" fill="url(#sG)" stroke="#7cc4a0" stroke-width="0.6"/>
<circle cx="171.4" cy="590" r="12" fill="url(#sG)" stroke="#7cc4a0" stroke-width="0.6"/>
<circle cx="136.2" cy="609.4" r="12" fill="url(#sRu)" stroke="#6a8ccf" stroke-width="0.6" stroke-opacity="0.8"/>
<circle cx="160.1" cy="609.4" r="12" fill="url(#sRu)" stroke="#6a8ccf" stroke-width="0.6" stroke-opacity="0.8"/>
<circle cx="183.6" cy="609.4" r="12" fill="url(#sRu)" stroke="#6a8ccf" stroke-width="0.6" stroke-opacity="0.8"/>
<circle cx="159.5" cy="569.5" r="11.9" fill="url(#sRu)" stroke="#6a8ccf" stroke-width="0.6" stroke-opacity="0.8"/>
<circle cx="509.6" cy="602.5" r="11" fill="url(#sRu)" stroke="#6a8ccf" stroke-width="0.6" stroke-opacity="0.8"/>
<circle cx="485.8" cy="602.5" r="11" fill="url(#sRu)" stroke="#6a8ccf" stroke-width="0.6" stroke-opacity="0.8"/>
<circle cx="485.8" cy="592.5" r="12" fill="url(#sG)" stroke="#7cc4a0" stroke-width="0.6"/>
<circle cx="509.6" cy="592.5" r="12" fill="url(#sG)" stroke="#7cc4a0" stroke-width="0.6"/>
<circle cx="473.4" cy="612.9" r="12" fill="url(#sRu)" stroke="#6a8ccf" stroke-width="0.6" stroke-opacity="0.8"/>
<circle cx="497.6" cy="612.9" r="12" fill="url(#sRu)" stroke="#6a8ccf" stroke-width="0.6" stroke-opacity="0.8"/>
<circle cx="521.6" cy="612.9" r="12" fill="url(#sRu)" stroke="#6a8ccf" stroke-width="0.6" stroke-opacity="0.8"/>
<circle cx="498.3" cy="572.2" r="12.2" fill="url(#sRu)" stroke="#6a8ccf" stroke-width="0.6" stroke-opacity="0.8"/>
<circle cx="210.4" cy="601.8" r="5.8" fill="url(#sH)" />
<circle cx="447.2" cy="603.4" r="6" fill="url(#sH)" />
<ellipse cx="438.8" cy="623.5" rx="5.5" ry="6.5" fill="#fafafa"/>
<circle cx="438.5" cy="622.6" r="10.5" fill="none" stroke="#e06050" stroke-width="1.4" stroke-dasharray="3,2.2"/>
<path d="M200.7,588.3 C214,586 224,595 227.5,606 C230.5,617 236,627 246,630.5" fill="none" stroke="#1c2a58" stroke-width="2" stroke-dasharray="4.5,3.5"/>
<polygon points="252.5,632 244.5,626.8 243.8,634.2" fill="#1c2a58" stroke="none" stroke-width="1" />
<path d="M464.2,592 C450,593 437,600 429,611 C424,618 418,621 411,622.6" fill="none" stroke="#1c2a58" stroke-width="2" stroke-dasharray="4.5,3.5"/>
<polygon points="404.8,623.8 412.5,619.2 412.8,626.8" fill="#1c2a58" stroke="none" stroke-width="1" />
<line x1="244" y1="528.7" x2="307.1" y2="580.6" stroke="#3a62b4" stroke-width="1.8" stroke-dasharray="6,4"/>
<line x1="451.4" y1="528.7" x2="424.5" y2="573.6" stroke="#3a62b4" stroke-width="1.8" stroke-dasharray="6,4"/>
<text x="93.4" y="656.5" font-size="15.6" fill="#111" font-weight="bold" >Efficient HER</text>
<text x="258.7" y="641.6" font-size="14.1" fill="#3a4663" font-weight="bold" >Pathway1</text>
<text x="356.1" y="641.6" font-size="14.1" fill="#3a4663" font-weight="bold" >Pathway2</text>
<polyline points="283.4,649.4 287.9,660.6 293.6,647.2" fill="none" stroke="#2a4ea0" stroke-width="2.9" stroke-linejoin="miter" stroke-linecap="butt"/>
<line x1="387.2" y1="651.6" x2="396.4" y2="660.6" stroke="#ee1111" stroke-width="2.1" />
<line x1="396.4" y1="651.6" x2="387.2" y2="660.6" stroke="#ee1111" stroke-width="2.1" />
<text x="453.5" y="641.2" font-size="13" fill="#111" >Ov</text>
<text x="356" y="711.8" font-size="16" fill="#111" text-anchor="middle" font-weight="bold" >Hydrogen spillover</text>
<circle cx="636.6" cy="561.9" r="10.2" fill="url(#sRuL)" />
<text x="652.7" y="567.7" font-size="15" fill="#111" >Ru</text>
<circle cx="637" cy="591.5" r="10" fill="url(#sG)" />
<text x="652.2" y="598" font-size="15" fill="#111" >Mo</text>
<circle cx="636.6" cy="617.6" r="9" fill="url(#sW)" />
<text x="662.2" y="625.4" font-size="15" fill="#111" text-anchor="middle" >O</text>
<circle cx="637" cy="642.6" r="8" fill="url(#sH)" />
<text x="663.5" y="649.1" font-size="15" fill="#111" text-anchor="middle" >H</text>
<text x="454.8" y="10.3" font-size="17" fill="#000" font-weight="bold" >c</text>
<line x1="450" y1="177.5" x2="685" y2="177.5" stroke="#d4d4d4" stroke-width="0.8" />
<rect x="571.3" y="10.5" width="92.6" height="45.6" fill="#e4ecf6" stroke="#b9c6d6" stroke-width="0.6" />
<polygon points="488.5,152.6 488.5,86 571.3,10.5 571.3,56.1" fill="#d3e0ef" stroke="#b0c0d4" stroke-width="0.6" />
<polygon points="488.5,152.6 623.5,152.6 663.9,56.1 571.3,56.1" fill="#e8eef7" stroke="#b0c0d4" stroke-width="0.5" />
<line x1="510.05" y1="152.6" x2="586.42" y2="56.1" stroke="#c3cedc" stroke-width="0.6" />
<line x1="586.42" y1="56.1" x2="586.42" y2="10.5" stroke="#cbd5e2" stroke-width="0.6" />
<line x1="530.8" y1="152.6" x2="600.59" y2="56.1" stroke="#c3cedc" stroke-width="0.6" />
<line x1="600.59" y1="56.1" x2="600.59" y2="10.5" stroke="#cbd5e2" stroke-width="0.6" />
<line x1="551.55" y1="152.6" x2="614.76" y2="56.1" stroke="#c3cedc" stroke-width="0.6" />
<line x1="614.76" y1="56.1" x2="614.76" y2="10.5" stroke="#cbd5e2" stroke-width="0.6" />
<line x1="572.3" y1="152.6" x2="628.92" y2="56.1" stroke="#c3cedc" stroke-width="0.6" />
<line x1="628.92" y1="56.1" x2="628.92" y2="10.5" stroke="#cbd5e2" stroke-width="0.6" />
<line x1="593.05" y1="152.6" x2="643.09" y2="56.1" stroke="#c3cedc" stroke-width="0.6" />
<line x1="643.09" y1="56.1" x2="643.09" y2="10.5" stroke="#cbd5e2" stroke-width="0.6" />
<line x1="613.8" y1="152.6" x2="657.26" y2="56.1" stroke="#c3cedc" stroke-width="0.6" />
<line x1="657.26" y1="56.1" x2="657.26" y2="10.5" stroke="#cbd5e2" stroke-width="0.6" />
<line x1="488.5" y1="137.5" x2="571.3" y2="46.24" stroke="#c3cedc" stroke-width="0.6" />
<line x1="488.5" y1="123" x2="571.3" y2="36.32" stroke="#c3cedc" stroke-width="0.6" />
<line x1="488.5" y1="108.6" x2="571.3" y2="26.46" stroke="#c3cedc" stroke-width="0.6" />
<line x1="488.5" y1="93.2" x2="571.3" y2="15.92" stroke="#c3cedc" stroke-width="0.6" />
<line x1="571.3" y1="46.98" x2="663.9" y2="46.98" stroke="#cbd5e2" stroke-width="0.6" />
<line x1="571.3" y1="37.86" x2="663.9" y2="37.86" stroke="#cbd5e2" stroke-width="0.6" />
<line x1="571.3" y1="28.74" x2="663.9" y2="28.74" stroke="#cbd5e2" stroke-width="0.6" />
<line x1="571.3" y1="19.62" x2="663.9" y2="19.62" stroke="#cbd5e2" stroke-width="0.6" />
<polygon points="563.8,64.8 563.8,30 569.8,31.4 584.8,32.9 590,34 604,37.5 616.5,36.8 630.6,43.8 637.6,35.7 650,42.4 660,45.9 660,64.8" fill="#d7b4f0" stroke="none" stroke-width="1" fill-opacity="0.8"/>
<polygon points="547.3,84.6 547.3,40.4 556,37.5 564,41.5 571,43 579,51.5 588,46 597,55 603.3,60.6 611,57.1 618.7,62 627,52.2 634,57 651.6,63.4 651.6,84.6" fill="#e5533f" stroke="none" stroke-width="1" fill-opacity="0.85"/>
<polygon points="527.1,107.4 527.1,85 540,84 548,84.6 560,83 575,82.5 590,81 600,80.5 615,79.5 630,78.8 641.5,78 641.5,107.4" fill="#8b94c2" stroke="none" stroke-width="1" fill-opacity="0.8"/>
<polygon points="503,135.9 503,108 510,107 515,105 522,102.5 530,106 545,105 560,104.5 575,103 590,104.5 605,103.5 620,103.3 629.2,103.3 629.2,135.9" fill="#86d2b8" stroke="none" stroke-width="1" fill-opacity="0.8"/>
<text x="578.3" y="41" font-size="5.9" fill="#000" text-anchor="middle" font-weight="bold" >6.672 mC</text>
<text x="624.8" y="50.2" font-size="5.9" fill="#222" text-anchor="middle" >RuMo-JH@MoOx-TG</text>
<text x="569.5" y="66.6" font-size="5.9" fill="#000" text-anchor="middle" font-weight="bold" >7.194 mC</text>
<text x="613.9" y="68.7" font-size="5.9" fill="#222" text-anchor="middle" >RuMo@MoOx-JH</text>
<text x="558.8" y="94.7" font-size="5.9" fill="#000" text-anchor="middle" font-weight="bold" >5.554 mC</text>
<text x="610.2" y="88" font-size="5.9" fill="#222" text-anchor="middle" >Mo@MoOx-TG</text>
<text x="555.6" y="118.7" font-size="5.9" fill="#000" text-anchor="middle" font-weight="bold" >5.622 mC</text>
<text x="604.2" y="116.6" font-size="5.9" fill="#222" text-anchor="middle" >Mo@MoOx-JH</text>
<line x1="488.5" y1="86" x2="488.5" y2="152.6" stroke="#333" stroke-width="0.9" />
<line x1="488.5" y1="152.6" x2="623.5" y2="152.6" stroke="#333" stroke-width="0.9" />
<line x1="623.5" y1="152.6" x2="663.9" y2="56.1" stroke="#333" stroke-width="0.9" />
<line x1="485.5" y1="152.6" x2="488.5" y2="152.6" stroke="#333" stroke-width="0.8" />
<text x="484.5" y="155.1" font-size="7" fill="#000" text-anchor="end" >0.00</text>
<line x1="485.5" y1="137.5" x2="488.5" y2="137.5" stroke="#333" stroke-width="0.8" />
<text x="484.5" y="140" font-size="7" fill="#000" text-anchor="end" >0.02</text>
<line x1="485.5" y1="123" x2="488.5" y2="123" stroke="#333" stroke-width="0.8" />
<text x="484.5" y="125.5" font-size="7" fill="#000" text-anchor="end" >0.04</text>
<line x1="485.5" y1="108.6" x2="488.5" y2="108.6" stroke="#333" stroke-width="0.8" />
<text x="484.5" y="111.1" font-size="7" fill="#000" text-anchor="end" >0.06</text>
<line x1="485.5" y1="93.2" x2="488.5" y2="93.2" stroke="#333" stroke-width="0.8" />
<text x="484.5" y="95.7" font-size="7" fill="#000" text-anchor="end" >0.08</text>
<line x1="486.7" y1="145.05" x2="488.5" y2="145.05" stroke="#333" stroke-width="0.6" />
<line x1="486.7" y1="130.25" x2="488.5" y2="130.25" stroke="#333" stroke-width="0.6" />
<line x1="486.7" y1="115.8" x2="488.5" y2="115.8" stroke="#333" stroke-width="0.6" />
<line x1="486.7" y1="100.9" x2="488.5" y2="100.9" stroke="#333" stroke-width="0.6" />
<line x1="489.3" y1="152.6" x2="489.3" y2="155.6" stroke="#333" stroke-width="0.8" />
<text x="489.3" y="162.8" font-size="7.3" fill="#000" text-anchor="middle" >-0.14</text>
<line x1="510.05" y1="152.6" x2="510.05" y2="155.6" stroke="#333" stroke-width="0.8" />
<text x="510.05" y="162.8" font-size="7.3" fill="#000" text-anchor="middle" >-0.12</text>
<line x1="530.8" y1="152.6" x2="530.8" y2="155.6" stroke="#333" stroke-width="0.8" />
<text x="530.8" y="162.8" font-size="7.3" fill="#000" text-anchor="middle" >-0.10</text>
<line x1="551.55" y1="152.6" x2="551.55" y2="155.6" stroke="#333" stroke-width="0.8" />
<text x="551.55" y="162.8" font-size="7.3" fill="#000" text-anchor="middle" >-0.08</text>
<line x1="572.3" y1="152.6" x2="572.3" y2="155.6" stroke="#333" stroke-width="0.8" />
<text x="572.3" y="162.8" font-size="7.3" fill="#000" text-anchor="middle" >-0.06</text>
<line x1="593.05" y1="152.6" x2="593.05" y2="155.6" stroke="#333" stroke-width="0.8" />
<text x="593.05" y="162.8" font-size="7.3" fill="#000" text-anchor="middle" >-0.04</text>
<line x1="613.8" y1="152.6" x2="613.8" y2="155.6" stroke="#333" stroke-width="0.8" />
<text x="613.8" y="162.8" font-size="7.3" fill="#000" text-anchor="middle" >-0.02</text>
<line x1="631.58" y1="133.3" x2="634.58" y2="133.3" stroke="#333" stroke-width="0.7" />
<line x1="639.66" y1="114" x2="642.66" y2="114" stroke="#333" stroke-width="0.7" />
<line x1="647.74" y1="94.7" x2="650.74" y2="94.7" stroke="#333" stroke-width="0.7" />
<line x1="655.82" y1="75.4" x2="658.82" y2="75.4" stroke="#333" stroke-width="0.7" />
<text x="525.5" y="174.5" font-size="9.8" fill="#000" ><tspan font-style="italic">E</tspan> (V <tspan font-style="italic">vs.</tspan> RHE)</text>
<text x="466.9" y="119.5" font-size="10.5" fill="#000" text-anchor="middle" transform="rotate(-90 466.9 119.5)">C<tspan font-size="6.5" dy="2.2">φ</tspan><tspan dy="-2.2">(F)</tspan></text>
<text x="16.7" y="196.4" font-size="17" fill="#000" font-weight="bold" >d</text>
<line x1="38.5" y1="199.3" x2="220.7" y2="199.3" stroke="#6a6a6a" stroke-width="1.2" />
<line x1="38.5" y1="199.3" x2="38.5" y2="345.3" stroke="#222" stroke-width="1.1" />
<line x1="38.5" y1="345.3" x2="129.2" y2="345.3" stroke="#222" stroke-width="1.1" />
<line x1="38.5" y1="351.2" x2="38.5" y2="501.9" stroke="#222" stroke-width="1.1" />
<line x1="38.5" y1="501.9" x2="220.7" y2="501.9" stroke="#222" stroke-width="1.1" />
<line x1="220.7" y1="199.3" x2="220.7" y2="501.9" stroke="#6a6a6a" stroke-width="1.2" />
<line x1="35.5" y1="212.3" x2="38.5" y2="212.3" stroke="#222" stroke-width="1" />
<text x="35.2" y="215.7" font-size="9.7" fill="#000" text-anchor="end" >0</text>
<line x1="35.5" y1="245.5" x2="38.5" y2="245.5" stroke="#222" stroke-width="1" />
<text x="35.2" y="248.9" font-size="9.7" fill="#000" text-anchor="end" >-50</text>
<line x1="35.5" y1="278.8" x2="38.5" y2="278.8" stroke="#222" stroke-width="1" />
<text x="35.2" y="282.2" font-size="9.7" fill="#000" text-anchor="end" >-100</text>
<line x1="35.5" y1="312" x2="38.5" y2="312" stroke="#222" stroke-width="1" />
<text x="35.2" y="315.4" font-size="9.7" fill="#000" text-anchor="end" >-150</text>
<line x1="35.5" y1="345.3" x2="38.5" y2="345.3" stroke="#222" stroke-width="1" />
<text x="35.2" y="348.7" font-size="9.7" fill="#000" text-anchor="end" >-200</text>
<line x1="36.7" y1="228.9" x2="38.5" y2="228.9" stroke="#222" stroke-width="0.8" />
<line x1="36.7" y1="262.1" x2="38.5" y2="262.1" stroke="#222" stroke-width="0.8" />
<line x1="36.7" y1="295.4" x2="38.5" y2="295.4" stroke="#222" stroke-width="0.8" />
<line x1="36.7" y1="328.6" x2="38.5" y2="328.6" stroke="#222" stroke-width="0.8" />
<line x1="39" y1="345.3" x2="39" y2="342.5" stroke="#222" stroke-width="0.9" />
<text x="46.5" y="358" font-size="9.7" fill="#000" text-anchor="middle" >-0.15</text>
<line x1="68.2" y1="345.3" x2="68.2" y2="342.5" stroke="#222" stroke-width="0.9" />
<text x="76" y="358" font-size="9.7" fill="#000" text-anchor="middle" >-0.10</text>
<line x1="97.4" y1="345.3" x2="97.4" y2="342.5" stroke="#222" stroke-width="0.9" />
<text x="105.5" y="358" font-size="9.7" fill="#000" text-anchor="middle" >-0.05</text>
<line x1="126.6" y1="345.3" x2="126.6" y2="342.5" stroke="#222" stroke-width="0.9" />
<text x="135" y="358" font-size="9.7" fill="#000" text-anchor="middle" >0.00</text>
<line x1="53.6" y1="345.3" x2="53.6" y2="343.5" stroke="#222" stroke-width="0.7" />
<line x1="82.8" y1="345.3" x2="82.8" y2="343.5" stroke="#222" stroke-width="0.7" />
<line x1="112" y1="345.3" x2="112" y2="343.5" stroke="#222" stroke-width="0.7" />
<line x1="35.5" y1="369.3" x2="38.5" y2="369.3" stroke="#222" stroke-width="1" />
<text x="35.2" y="372.7" font-size="9.7" fill="#000" text-anchor="end" >0</text>
<line x1="35.5" y1="402.3" x2="38.5" y2="402.3" stroke="#222" stroke-width="1" />
<text x="35.2" y="405.7" font-size="9.7" fill="#000" text-anchor="end" >-50</text>
<line x1="35.5" y1="435.5" x2="38.5" y2="435.5" stroke="#222" stroke-width="1" />
<text x="35.2" y="438.9" font-size="9.7" fill="#000" text-anchor="end" >-100</text>
<line x1="35.5" y1="468.7" x2="38.5" y2="468.7" stroke="#222" stroke-width="1" />
<text x="35.2" y="472.1" font-size="9.7" fill="#000" text-anchor="end" >-150</text>
<line x1="35.5" y1="501.9" x2="38.5" y2="501.9" stroke="#222" stroke-width="1" />
<text x="35.2" y="505.3" font-size="9.7" fill="#000" text-anchor="end" >-200</text>
<line x1="36.7" y1="385.8" x2="38.5" y2="385.8" stroke="#222" stroke-width="0.8" />
<line x1="36.7" y1="418.9" x2="38.5" y2="418.9" stroke="#222" stroke-width="0.8" />
<line x1="36.7" y1="452.1" x2="38.5" y2="452.1" stroke="#222" stroke-width="0.8" />
<line x1="36.7" y1="485.3" x2="38.5" y2="485.3" stroke="#222" stroke-width="0.8" />
<line x1="39.5" y1="501.9" x2="39.5" y2="504.9" stroke="#222" stroke-width="1" />
<line x1="84" y1="501.9" x2="84" y2="504.9" stroke="#222" stroke-width="1" />
<line x1="127" y1="501.9" x2="127" y2="504.9" stroke="#222" stroke-width="1" />
<text x="41" y="512.5" font-size="9.7" fill="#000" text-anchor="middle" >-0.2</text>
<text x="84" y="512.5" font-size="9.7" fill="#000" text-anchor="middle" >-0.1</text>
<text x="127" y="512.5" font-size="9.7" fill="#000" text-anchor="middle" >0.0</text>
<line x1="61.7" y1="501.9" x2="61.7" y2="503.7" stroke="#222" stroke-width="0.8" />
<line x1="106" y1="501.9" x2="106" y2="503.7" stroke="#222" stroke-width="0.8" />
<line x1="136.6" y1="501.9" x2="136.6" y2="498.9" stroke="#222" stroke-width="1" />
<text x="139.6" y="512.5" font-size="9.7" fill="#000" text-anchor="middle" >12</text>
<line x1="174.3" y1="501.9" x2="174.3" y2="498.9" stroke="#222" stroke-width="1" />
<text x="177.3" y="512.5" font-size="9.7" fill="#000" text-anchor="middle" >13</text>
<line x1="211.5" y1="501.9" x2="211.5" y2="498.9" stroke="#222" stroke-width="1" />
<text x="214.5" y="512.5" font-size="9.7" fill="#000" text-anchor="middle" >14</text>
<line x1="155.5" y1="501.9" x2="155.5" y2="499.7" stroke="#222" stroke-width="0.8" />
<line x1="193" y1="501.9" x2="193" y2="499.7" stroke="#222" stroke-width="0.8" />
<line x1="217.7" y1="500.9" x2="220.7" y2="500.9" stroke="#222" stroke-width="1" />
<text x="224" y="504.3" font-size="9.7" fill="#000" >0</text>
<line x1="217.7" y1="400.2" x2="220.7" y2="400.2" stroke="#222" stroke-width="1" />
<text x="224" y="403.6" font-size="9.7" fill="#000" >1</text>
<line x1="217.7" y1="299.4" x2="220.7" y2="299.4" stroke="#222" stroke-width="1" />
<text x="224" y="302.8" font-size="9.7" fill="#000" >2</text>
<line x1="217.7" y1="198.6" x2="220.7" y2="198.6" stroke="#222" stroke-width="1" />
<text x="224" y="202" font-size="9.7" fill="#000" >3</text>
<line x1="218.9" y1="450.5" x2="220.7" y2="450.5" stroke="#222" stroke-width="0.8" />
<line x1="218.9" y1="349.8" x2="220.7" y2="349.8" stroke="#222" stroke-width="0.8" />
<line x1="218.9" y1="249" x2="220.7" y2="249" stroke="#222" stroke-width="0.8" />
<text x="83.6" y="525.4" font-size="12" fill="#000" text-anchor="middle" ><tspan font-style="italic">E-iR</tspan> (V <tspan font-style="italic">vs.</tspan> RHE)</text>
<text x="173.4" y="525.4" font-size="12" fill="#000" text-anchor="middle" >pH</text>
<text x="15.6" y="338.5" font-size="12.05" fill="#000" text-anchor="middle" transform="rotate(-90 15.6 338.5)">Current density (mA·cm<tspan baseline-shift="super" font-size="70%">-2</tspan>)</text>
<line x1="126" y1="200" x2="126" y2="491" stroke="#777" stroke-width="1.4" stroke-dasharray="4,3"/>
<path d="M48.1,216.7 C50.08,216.58 55.02,216.28 60,216 C64.98,215.72 71.33,215.33 78,215 C84.67,214.67 92.17,214.5 100,214 C107.83,213.5 120.83,212.33 125,212" fill="none" stroke="#fbc9ad" stroke-width="3.6" stroke-linecap="round" stroke-linejoin="round"/>
<path d="M48.1,216.7 C50.08,216.58 55.02,216.28 60,216 C64.98,215.72 71.33,215.33 78,215 C84.67,214.67 92.17,214.5 100,214 C107.83,213.5 120.83,212.33 125,212" fill="none" stroke="#fde6da" stroke-width="1.2" stroke-linecap="round" stroke-linejoin="round" stroke-dasharray="2.2 1.2"/>
<path d="M45.9,230.8 C48.25,230 54.58,227.68 60,226 C65.42,224.32 71.73,222.28 78.4,220.7 C85.07,219.12 92.23,217.62 100,216.5 C107.77,215.38 120.83,214.42 125,214" fill="none" stroke="#f8b290" stroke-width="3.6" stroke-linecap="round" stroke-linejoin="round"/>
<path d="M45.9,230.8 C48.25,230 54.58,227.68 60,226 C65.42,224.32 71.73,222.28 78.4,220.7 C85.07,219.12 92.23,217.62 100,216.5 C107.77,215.38 120.83,214.42 125,214" fill="none" stroke="#fcd9c8" stroke-width="1.2" stroke-linecap="round" stroke-linejoin="round" stroke-dasharray="2.2 1.2"/>
<path d="M43,252 C45.83,250.42 54.1,245.67 60,242.5 C65.9,239.33 71.73,236.25 78.4,233 C85.07,229.75 93.9,225.5 100,223 C106.1,220.5 110.77,219.32 115,218 C119.23,216.68 123.67,215.58 125.4,215.1" fill="none" stroke="#f59f72" stroke-width="3.6" stroke-linecap="round" stroke-linejoin="round"/>
<path d="M43,252 C45.83,250.42 54.1,245.67 60,242.5 C65.9,239.33 71.73,236.25 78.4,233 C85.07,229.75 93.9,225.5 100,223 C106.1,220.5 110.77,219.32 115,218 C119.23,216.68 123.67,215.58 125.4,215.1" fill="none" stroke="#fbcdb5" stroke-width="1.2" stroke-linecap="round" stroke-linejoin="round" stroke-dasharray="2.2 1.2"/>
<path d="M46.6,345.3 C48.17,339.83 52.57,323 56,312.5 C59.43,302 63.47,291.05 67.2,282.3 C70.93,273.55 74.68,266.72 78.4,260 C82.12,253.28 85.78,247.05 89.5,242 C93.22,236.95 96.95,233.25 100.7,229.7 C104.45,226.15 107.88,222.93 112,220.7 C116.12,218.47 123.17,217.03 125.4,216.3" fill="none" stroke="#e4601a" stroke-width="3.6" stroke-linecap="round" stroke-linejoin="round"/>
<path d="M46.6,345.3 C48.17,339.83 52.57,323 56,312.5 C59.43,302 63.47,291.05 67.2,282.3 C70.93,273.55 74.68,266.72 78.4,260 C82.12,253.28 85.78,247.05 89.5,242 C93.22,236.95 96.95,233.25 100.7,229.7 C104.45,226.15 107.88,222.93 112,220.7 C116.12,218.47 123.17,217.03 125.4,216.3" fill="none" stroke="#f6a070" stroke-width="1.2" stroke-linecap="round" stroke-linejoin="round" stroke-dasharray="2.2 1.2"/>
<path d="M85,345.3 C85.57,340.75 87.27,325.88 88.4,318 C89.53,310.12 90.48,304.7 91.8,298 C93.12,291.3 94.43,284.9 96.3,277.8 C98.17,270.7 100.38,262.67 103,255.4 C105.62,248.13 109.02,239.78 112,234.2 C114.98,228.62 118.48,224.82 120.9,221.9 C123.32,218.98 125.57,217.57 126.5,216.7" fill="none" stroke="#8e3a12" stroke-width="3.6" stroke-linecap="round" stroke-linejoin="round"/>
<path d="M85,345.3 C85.57,340.75 87.27,325.88 88.4,318 C89.53,310.12 90.48,304.7 91.8,298 C93.12,291.3 94.43,284.9 96.3,277.8 C98.17,270.7 100.38,262.67 103,255.4 C105.62,248.13 109.02,239.78 112,234.2 C114.98,228.62 118.48,224.82 120.9,221.9 C123.32,218.98 125.57,217.57 126.5,216.7" fill="none" stroke="#c07050" stroke-width="1.2" stroke-linecap="round" stroke-linejoin="round" stroke-dasharray="2.2 1.2"/>
<text x="53.7" y="213.2" font-size="8.4" fill="#000" text-anchor="middle" >12</text>
<text x="47.5" y="226.7" font-size="8.4" fill="#000" text-anchor="middle" >12.5</text>
<text x="47.5" y="241.7" font-size="8.4" fill="#000" text-anchor="middle" >13</text>
<text x="60.9" y="275.2" font-size="8.4" fill="#000" text-anchor="middle" >13.5</text>
<text x="84.6" y="301.6" font-size="8.4" fill="#000" text-anchor="middle" >14</text>
<text x="113" y="296.5" font-size="8.4" fill="#000" text-anchor="middle" >pH</text>
<line x1="119.8" y1="286" x2="119.8" y2="301" stroke="#222" stroke-width="0.8" />
<polygon points="117.8,300 121.8,300 119.8,305.5" fill="#222" stroke="none" stroke-width="1" />
<path d="M52.3,373.2 C55.35,372.87 64.17,371.72 70.6,371.2 C77.03,370.68 84.15,370.42 90.9,370.1 C97.65,369.78 105.02,369.47 111.1,369.3 C117.18,369.13 124.68,369.13 127.4,369.1" fill="none" stroke="#c6ecc0" stroke-width="3.6" stroke-linecap="round" stroke-linejoin="round"/>
<path d="M52.3,373.2 C55.35,372.87 64.17,371.72 70.6,371.2 C77.03,370.68 84.15,370.42 90.9,370.1 C97.65,369.78 105.02,369.47 111.1,369.3 C117.18,369.13 124.68,369.13 127.4,369.1" fill="none" stroke="#e4f6e0" stroke-width="1.2" stroke-linecap="round" stroke-linejoin="round" stroke-dasharray="2.2 1.2"/>
<path d="M42.2,387.4 C43.88,386.55 48.58,383.82 52.3,382.3 C56.02,380.78 60.1,379.48 64.5,378.3 C68.9,377.12 73.63,376.15 78.7,375.2 C83.77,374.25 89.5,373.27 94.9,372.6 C100.3,371.93 105.68,371.62 111.1,371.2 C116.52,370.78 124.68,370.28 127.4,370.1" fill="none" stroke="#a6e09c" stroke-width="3.6" stroke-linecap="round" stroke-linejoin="round"/>
<path d="M42.2,387.4 C43.88,386.55 48.58,383.82 52.3,382.3 C56.02,380.78 60.1,379.48 64.5,378.3 C68.9,377.12 73.63,376.15 78.7,375.2 C83.77,374.25 89.5,373.27 94.9,372.6 C100.3,371.93 105.68,371.62 111.1,371.2 C116.52,370.78 124.68,370.28 127.4,370.1" fill="none" stroke="#d4f0cc" stroke-width="1.2" stroke-linecap="round" stroke-linejoin="round" stroke-dasharray="2.2 1.2"/>
<path d="M45.2,408.7 C46.38,407.52 49.42,403.97 52.3,401.6 C55.18,399.23 58.78,396.87 62.5,394.5 C66.22,392.13 70.55,389.6 74.6,387.4 C78.65,385.2 82.73,383.17 86.8,381.3 C90.87,379.43 94.95,377.55 99,376.2 C103.05,374.85 106.37,374.03 111.1,373.2 C115.83,372.37 124.68,371.53 127.4,371.2" fill="none" stroke="#84d07a" stroke-width="3.6" stroke-linecap="round" stroke-linejoin="round"/>
<path d="M45.2,408.7 C46.38,407.52 49.42,403.97 52.3,401.6 C55.18,399.23 58.78,396.87 62.5,394.5 C66.22,392.13 70.55,389.6 74.6,387.4 C78.65,385.2 82.73,383.17 86.8,381.3 C90.87,379.43 94.95,377.55 99,376.2 C103.05,374.85 106.37,374.03 111.1,373.2 C115.83,372.37 124.68,371.53 127.4,371.2" fill="none" stroke="#c4ecbc" stroke-width="1.2" stroke-linecap="round" stroke-linejoin="round" stroke-dasharray="2.2 1.2"/>
<path d="M39.1,492.9 C39.95,490.02 42.33,481.18 44.2,475.6 C46.07,470.02 48.27,464.13 50.3,459.4 C52.33,454.67 54.37,451.27 56.4,447.2 C58.43,443.13 60.3,439.05 62.5,435 C64.7,430.95 67.23,426.78 69.6,422.9 C71.97,419.02 74.17,415.42 76.7,411.7 C79.23,407.98 82.1,404.15 84.8,400.6 C87.5,397.05 89.87,393.62 92.9,390.4 C95.93,387.18 99.28,383.83 103,381.3 C106.72,378.77 111.13,376.72 115.2,375.2 C119.27,373.68 125.37,372.7 127.4,372.2" fill="none" stroke="#3f9e3c" stroke-width="3.6" stroke-linecap="round" stroke-linejoin="round"/>
<path d="M39.1,492.9 C39.95,490.02 42.33,481.18 44.2,475.6 C46.07,470.02 48.27,464.13 50.3,459.4 C52.33,454.67 54.37,451.27 56.4,447.2 C58.43,443.13 60.3,439.05 62.5,435 C64.7,430.95 67.23,426.78 69.6,422.9 C71.97,419.02 74.17,415.42 76.7,411.7 C79.23,407.98 82.1,404.15 84.8,400.6 C87.5,397.05 89.87,393.62 92.9,390.4 C95.93,387.18 99.28,383.83 103,381.3 C106.72,378.77 111.13,376.72 115.2,375.2 C119.27,373.68 125.37,372.7 127.4,372.2" fill="none" stroke="#8ed08a" stroke-width="1.2" stroke-linecap="round" stroke-linejoin="round" stroke-dasharray="2.2 1.2"/>
<path d="M61.4,502 C61.75,499.97 62.65,493.87 63.5,489.8 C64.35,485.73 65.32,482.33 66.5,477.6 C67.68,472.87 69.08,466.47 70.6,461.4 C72.12,456.33 73.92,451.6 75.6,447.2 C77.28,442.8 78.83,439.38 80.7,435 C82.57,430.62 84.77,425.28 86.8,420.9 C88.83,416.52 90.7,412.77 92.9,408.7 C95.1,404.63 97.47,400.22 100,396.5 C102.53,392.78 105.23,389.43 108.1,386.4 C110.97,383.37 113.98,380.5 117.2,378.3 C120.42,376.1 125.7,374.05 127.4,373.2" fill="none" stroke="#1f5e3c" stroke-width="3.6" stroke-linecap="round" stroke-linejoin="round"/>
<path d="M61.4,502 C61.75,499.97 62.65,493.87 63.5,489.8 C64.35,485.73 65.32,482.33 66.5,477.6 C67.68,472.87 69.08,466.47 70.6,461.4 C72.12,456.33 73.92,451.6 75.6,447.2 C77.28,442.8 78.83,439.38 80.7,435 C82.57,430.62 84.77,425.28 86.8,420.9 C88.83,416.52 90.7,412.77 92.9,408.7 C95.1,404.63 97.47,400.22 100,396.5 C102.53,392.78 105.23,389.43 108.1,386.4 C110.97,383.37 113.98,380.5 117.2,378.3 C120.42,376.1 125.7,374.05 127.4,373.2" fill="none" stroke="#5a9a76" stroke-width="1.2" stroke-linecap="round" stroke-linejoin="round" stroke-dasharray="2.2 1.2"/>
<line x1="136.6" y1="447.5" x2="212" y2="234" stroke="#e8141c" stroke-width="1.1" />
<line x1="136.3" y1="460.6" x2="211.5" y2="298.8" stroke="#3cc070" stroke-width="1.1" />
<rect x="134" y="444.9" width="5.2" height="5.2" fill="#e8141c" stroke="none" stroke-width="1" />
<rect x="152.8" y="381.6" width="5.2" height="5.2" fill="#e8141c" stroke="none" stroke-width="1" />
<rect x="171.4" y="346.9" width="5.2" height="5.2" fill="#e8141c" stroke="none" stroke-width="1" />
<rect x="190.4" y="295.4" width="5.2" height="5.2" fill="#e8141c" stroke="none" stroke-width="1" />
<rect x="209.4" y="233.4" width="5.2" height="5.2" fill="#e8141c" stroke="none" stroke-width="1" />
<rect x="134" y="464.7" width="5.2" height="5.2" fill="#3cbc6c" stroke="none" stroke-width="1" />
<rect x="152.7" y="412.1" width="5.2" height="5.2" fill="#3cbc6c" stroke="none" stroke-width="1" />
<rect x="172" y="371.8" width="5.2" height="5.2" fill="#3cbc6c" stroke="none" stroke-width="1" />
<rect x="190.4" y="336.3" width="5.2" height="5.2" fill="#3cbc6c" stroke="none" stroke-width="1" />
<rect x="209.1" y="301" width="5.2" height="5.2" fill="#3cbc6c" stroke="none" stroke-width="1" />
<rect x="130.2" y="203" width="4.5" height="4.5" fill="#e8141c" stroke="none" stroke-width="1" />
<text x="144" y="208.3" font-size="7.9" fill="#222" >RuMo@MoOx-JH</text>
<rect x="130.2" y="212.8" width="4.5" height="4.5" fill="#3cbc6c" stroke="none" stroke-width="1" />
<text x="144" y="218.1" font-size="7.9" fill="#222" >RuMo-JH@MoOx-TG</text>
<text x="130.2" y="244.2" font-size="9.5" fill="#ee1c24" >log|j|=1.01pH-11.55</text>
<text x="130.2" y="256" font-size="9.5" fill="#ee1c24" >R<tspan baseline-shift="super" font-size="70%">2</tspan>=0.99</text>
<text x="138" y="482.3" font-size="9.5" fill="#3cbc6c" >log|j|=0.79pH-9.19</text>
<text x="138" y="494.2" font-size="9.5" fill="#3cbc6c" >R<tspan baseline-shift="super" font-size="70%">2</tspan>=0.99</text>
<text x="246.5" y="198" font-size="17" fill="#000" font-weight="bold" >e</text>
<line x1="265.6" y1="342.2" x2="447.2" y2="342.2" stroke="#222" stroke-width="1.1" />
<line x1="265.6" y1="196.5" x2="265.6" y2="342.2" stroke="#222" stroke-width="1.1" />
<line x1="265.6" y1="196.5" x2="447.2" y2="196.5" stroke="#6a6a6a" stroke-width="1.2" />
<line x1="447.2" y1="196.5" x2="447.2" y2="342.2" stroke="#6a6a6a" stroke-width="1.2" />
<line x1="262.6" y1="218.9" x2="265.6" y2="218.9" stroke="#222" stroke-width="1" />
<text x="261.1" y="222.4" font-size="10" fill="#000" text-anchor="end" >0.15</text>
<line x1="262.6" y1="256.2" x2="265.6" y2="256.2" stroke="#222" stroke-width="1" />
<text x="261.1" y="259.7" font-size="10" fill="#000" text-anchor="end" >0.20</text>
<line x1="262.6" y1="293.5" x2="265.6" y2="293.5" stroke="#222" stroke-width="1" />
<text x="261.1" y="297" font-size="10" fill="#000" text-anchor="end" >0.25</text>
<line x1="262.6" y1="330.8" x2="265.6" y2="330.8" stroke="#222" stroke-width="1" />
<text x="261.1" y="334.3" font-size="10" fill="#000" text-anchor="end" >0.30</text>
<line x1="263.8" y1="200.2" x2="265.6" y2="200.2" stroke="#222" stroke-width="0.8" />
<line x1="263.8" y1="237.5" x2="265.6" y2="237.5" stroke="#222" stroke-width="0.8" />
<line x1="263.8" y1="274.8" x2="265.6" y2="274.8" stroke="#222" stroke-width="0.8" />
<line x1="263.8" y1="312.1" x2="265.6" y2="312.1" stroke="#222" stroke-width="0.8" />
<line x1="283.7" y1="342.2" x2="283.7" y2="345.2" stroke="#222" stroke-width="1" />
<text x="283.7" y="355.5" font-size="10" fill="#000" text-anchor="middle" >5</text>
<line x1="301.65" y1="342.2" x2="301.65" y2="344" stroke="#222" stroke-width="0.8" />
<line x1="319.6" y1="342.2" x2="319.6" y2="345.2" stroke="#222" stroke-width="1" />
<text x="319.6" y="355.5" font-size="10" fill="#000" text-anchor="middle" >10</text>
<line x1="337.55" y1="342.2" x2="337.55" y2="344" stroke="#222" stroke-width="0.8" />
<line x1="355.5" y1="342.2" x2="355.5" y2="345.2" stroke="#222" stroke-width="1" />
<text x="355.5" y="355.5" font-size="10" fill="#000" text-anchor="middle" >15</text>
<line x1="373.45" y1="342.2" x2="373.45" y2="344" stroke="#222" stroke-width="0.8" />
<line x1="391.4" y1="342.2" x2="391.4" y2="345.2" stroke="#222" stroke-width="1" />
<text x="391.4" y="355.5" font-size="10" fill="#000" text-anchor="middle" >20</text>
<line x1="409.35" y1="342.2" x2="409.35" y2="344" stroke="#222" stroke-width="0.8" />
<line x1="427.3" y1="342.2" x2="427.3" y2="345.2" stroke="#222" stroke-width="1" />
<text x="427.3" y="355.5" font-size="10" fill="#000" text-anchor="middle" >25</text>
<text x="356" y="374" font-size="12.5" fill="#000" text-anchor="middle" >Scan rate (mV·s<tspan baseline-shift="super" font-size="70%">-1</tspan>)</text>
<text x="238" y="267.5" font-size="12.7" fill="#000" text-anchor="middle" transform="rotate(-90 238 267.5)">Peak position (V <tspan font-style="italic">vs.</tspan> RHE)</text>
<text x="445.3" y="206.6" font-size="9.4" fill="#111" text-anchor="end" >Hydrogen desorption</text>
<line x1="283.4" y1="201.5" x2="428.8" y2="246" stroke="#e8141c" stroke-width="1.2" />
<line x1="283.4" y1="210.5" x2="428.8" y2="303.5" stroke="#3cc060" stroke-width="1.2" />
<line x1="283.4" y1="288.5" x2="428.8" y2="338.5" stroke="#3a6cb0" stroke-width="1.2" />
<circle cx="283.4" cy="202.1" r="3.1" fill="url(#gR)" />
<circle cx="320.2" cy="210.5" r="3.1" fill="url(#gR)" />
<circle cx="356.3" cy="223.4" r="3.1" fill="url(#gR)" />
<circle cx="392" cy="237.5" r="3.1" fill="url(#gR)" />
<circle cx="428.8" cy="245.5" r="3.1" fill="url(#gR)" />
<circle cx="283.4" cy="211.5" r="3.1" fill="url(#gG)" />
<circle cx="320.2" cy="235" r="3.1" fill="url(#gG)" />
<circle cx="356.3" cy="254.6" r="3.1" fill="url(#gG)" />
<circle cx="392" cy="282.3" r="3.1" fill="url(#gG)" />
<circle cx="428.8" cy="302.6" r="3.1" fill="url(#gG)" />
<circle cx="283.4" cy="286.9" r="3.1" fill="url(#gB)" />
<circle cx="320.2" cy="303.3" r="3.1" fill="url(#gB)" />
<circle cx="356.3" cy="317.7" r="3.1" fill="url(#gB)" />
<circle cx="392" cy="328.2" r="3.1" fill="url(#gB)" />
<circle cx="428.8" cy="336.6" r="3.1" fill="url(#gB)" />
<circle cx="272.8" cy="259.5" r="2.8" fill="url(#gR)" />
<text x="283.7" y="262.3" font-size="7.8" fill="#222" >RuMo@MoOx-JH</text>
<circle cx="272.8" cy="268" r="2.8" fill="url(#gG)" />
<text x="283.7" y="270.8" font-size="7.8" fill="#222" >RuMo-JH@MoOx-TG</text>
<circle cx="272.8" cy="276.4" r="2.8" fill="url(#gB)" />
<text x="283.7" y="279.2" font-size="7.8" fill="#222" >Pt/C</text>
<text x="388.2" y="232.5" font-size="10" fill="#e8141c" text-anchor="middle" font-style="italic" transform="rotate(17 388.2 229)">3.04×10<tspan baseline-shift="super" font-size="70%">-3</tspan></text>
<text x="387.5" y="271" font-size="10" fill="#3cc060" text-anchor="middle" font-style="italic" transform="rotate(31 387.5 267.6)">6.14×10<tspan baseline-shift="super" font-size="70%">-3</tspan></text>
<text x="384.7" y="320" font-size="10" fill="#3a6cb0" text-anchor="middle" font-style="italic" transform="rotate(17 384.7 316.6)">3.30×10<tspan baseline-shift="super" font-size="70%">-3</tspan></text>
<text x="457.7" y="196.9" font-size="17" fill="#000" font-weight="bold" >f</text>
<line x1="487.7" y1="341.2" x2="668.9" y2="341.2" stroke="#222" stroke-width="1.1" />
<line x1="487.7" y1="196.4" x2="487.7" y2="341.2" stroke="#222" stroke-width="1.1" />
<line x1="487.7" y1="196.4" x2="668.9" y2="196.4" stroke="#6a6a6a" stroke-width="1.2" />
<line x1="668.9" y1="196.4" x2="668.9" y2="341.2" stroke="#6a6a6a" stroke-width="1.2" />
<line x1="487.7" y1="341.2" x2="487.7" y2="344.2" stroke="#222" stroke-width="1" />
<text x="487.7" y="353" font-size="10" fill="#000" text-anchor="middle" >1.98</text>
<line x1="505.8" y1="341.2" x2="505.8" y2="343" stroke="#222" stroke-width="0.8" />
<line x1="523.94" y1="341.2" x2="523.94" y2="344.2" stroke="#222" stroke-width="1" />
<text x="523.94" y="353" font-size="10" fill="#000" text-anchor="middle" >1.99</text>
<line x1="542.04" y1="341.2" x2="542.04" y2="343" stroke="#222" stroke-width="0.8" />
<line x1="560.18" y1="341.2" x2="560.18" y2="344.2" stroke="#222" stroke-width="1" />
<text x="560.18" y="353" font-size="10" fill="#000" text-anchor="middle" >2.00</text>
<line x1="578.28" y1="341.2" x2="578.28" y2="343" stroke="#222" stroke-width="0.8" />
<line x1="596.42" y1="341.2" x2="596.42" y2="344.2" stroke="#222" stroke-width="1" />
<text x="596.42" y="353" font-size="10" fill="#000" text-anchor="middle" >2.01</text>
<line x1="614.52" y1="341.2" x2="614.52" y2="343" stroke="#222" stroke-width="0.8" />
<line x1="632.66" y1="341.2" x2="632.66" y2="344.2" stroke="#222" stroke-width="1" />
<text x="632.66" y="353" font-size="10" fill="#000" text-anchor="middle" >2.02</text>
<line x1="650.76" y1="341.2" x2="650.76" y2="343" stroke="#222" stroke-width="0.8" />
<line x1="668.9" y1="341.2" x2="668.9" y2="344.2" stroke="#222" stroke-width="1" />
<text x="668.9" y="353" font-size="10" fill="#000" text-anchor="middle" >2.03</text>
<text x="578.3" y="372" font-size="12.2" fill="#000" text-anchor="middle" >Magnetic field (Gauss)</text>
<text x="481.8" y="269.2" font-size="12.8" fill="#000" text-anchor="middle" transform="rotate(-90 481.8 269.2)">Intensity (a.u.)</text>
<polyline points="488.2,267.06 488.7,267.12 489.2,268.91 489.7,264.93 490.2,272.09 490.7,268.4 491.2,267.94 491.7,269.69 492.2,270.79 492.7,269.52 493.2,269.53 493.7,268.25 494.2,268.12 494.7,268.73 495.2,269.77 495.7,270.76 496.2,268.19 496.7,274.33 497.2,270.75 497.7,273.96 498.2,270.75 498.7,268.41 499.2,269.88 499.7,270.02 500.2,272.43 500.7,269.51 501.2,270.4 501.7,267.4 502.2,269.27 502.7,268.36 503.2,269.46 503.7,265.65 504.2,266.52 504.7,272.77 505.2,271.56 505.7,273.96 506.2,273.76 506.7,267.47 507.2,266.12 507.7,268.97 508.2,271.46 508.7,265.76 509.2,271.04 509.7,270.5 510.2,267.12 510.7,273.33 511.2,269.03 511.7,270.67 512.2,267.05 512.7,264.06 513.2,272 513.7,269.36 514.2,266.5 514.7,267.52 515.2,275.09 515.7,271.11 516.2,270.16 516.7,268.72 517.2,267.24 517.7,267.08 518.2,271.9 518.7,272.73 519.2,273.53 519.7,269.65 520.2,266.48 520.7,269.92 521.2,268.78 521.7,270.34 522.2,272.41 522.7,269.04 523.2,271.08 523.7,270.6 524.2,267.53 524.7,272.45 525.2,268.08 525.7,266.95 526.2,269.39 526.7,272.09 527.2,268.57 527.7,274.48 528.2,272.39 528.7,270.1 529.2,266.39 529.7,270.81 530.2,268.34 530.7,272.33 531.2,267.79 531.7,273.14 532.2,274.99 532.7,269.37 533.2,272.04 533.7,273.43 534.2,269.07 534.7,267.29 535.2,270.77 535.7,267.75 536.2,267.92 536.7,268 537.2,271.59 537.7,270.68 538.2,271.11 538.7,275.61 539.2,268.26 539.7,270.94 540.2,270.24 540.7,272.76 541.2,268.99 541.7,271.37 542.2,271.58 542.7,275.37 543.2,270.83 543.7,273.28 544.2,271 544.7,271.86 545.2,269.85 545.7,271.19 546.2,272.68 546.7,270.07 547.2,271.34 547.7,273.04 548.2,277.41 548.7,271.19 549.2,272.82 549.7,272.9 550.2,272.34 550.7,272.67 551.2,272.14 551.7,275.38 552.2,276.09 552.7,274.16 553.2,273.56 553.7,274.32 554.2,274.09 554.7,276.89 555.2,275.97 555.7,279.18 556.2,275.99 556.7,278.72 557.2,281.24 557.7,279.73 558.2,280.61 558.7,279.73 559.2,283.78 559.7,283.07 560.2,282.68 560.7,283.47 561.2,287.1 561.7,286.85 562.2,289.49 562.7,294.37 563.2,293.92 563.7,293.63 564.2,294.44 564.7,302.5 565.2,307.51 565.7,307.39 566.2,309.5 566.7,310.78 567.2,315.29 567.7,321.29 568.2,321.92 568.7,329.13 569.2,326.73 569.7,326.39 570.2,328.9 570.7,325.32 571.2,320.11 571.7,315.72 572.2,307.59 572.7,296.2 573.2,286.18 573.7,269.11 574.2,264.13 574.7,244.48 575.2,235.64 575.7,224.36 576.2,218.04 576.7,212.19 577.2,211.78 577.7,211.07 578.2,208.54 578.7,209.7 579.2,212.61 579.7,214.65 580.2,217.72 580.7,218.89 581.2,220.43 581.7,223.48 582.2,230.12 582.7,230.54 583.2,227.24 583.7,233.37 584.2,235.15 584.7,239.59 585.2,237.69 585.7,240.24 586.2,241.82 586.7,242.24 587.2,247.56 587.7,248.07 588.2,246.89 588.7,248.8 589.2,248.43 589.7,255.71 590.2,255.01 590.7,255.65 591.2,256.7 591.7,258.68 592.2,259.26 592.7,258.81 593.2,260.86 593.7,263.28 594.2,261.42 594.7,263.57 595.2,264.14 595.7,261.93 596.2,262.2 596.7,263.32 597.2,265.49 597.7,265.87 598.2,267.37 598.7,263.39 599.2,261.98 599.7,267.02 600.2,265.53 600.7,266.77 601.2,265.34 601.7,268.23 602.2,266.93 602.7,268.67 603.2,267.54 603.7,269.54 604.2,264.2 604.7,270.88 605.2,262.84 605.7,268.46 606.2,266.93 606.7,270.63 607.2,267.96 607.7,268.31 608.2,263.6 608.7,271.11 609.2,266.47 609.7,268.42 610.2,268.91 610.7,269.45 611.2,266.95 611.7,265.44 612.2,271.5 612.7,270.53 613.2,262.88 613.7,266.62 614.2,269.08 614.7,268.9 615.2,269.11 615.7,268.09 616.2,268 616.7,269 617.2,268.23 617.7,269.23 618.2,269.66 618.7,270.8 619.2,270.17 619.7,269.58 620.2,271.08 620.7,267.48 621.2,271.21 621.7,269.05 622.2,266.81 622.7,270.75 623.2,268.06 623.7,270.86 624.2,270.13 624.7,270 625.2,269.6 625.7,267.33 626.2,268.93 626.7,269.74 627.2,268.94 627.7,270.13 628.2,269.44 628.7,270.5 629.2,267.45 629.7,269.79 630.2,271.27 630.7,267.23 631.2,265.58 631.7,270.3 632.2,268.58 632.7,265.97 633.2,268.25 633.7,269.73 634.2,268.8 634.7,272 635.2,269.42 635.7,264.77 636.2,270.33 636.7,270.42 637.2,267.98 637.7,268.15 638.2,268.93 638.7,269.36 639.2,268.96 639.7,268.22 640.2,268.56 640.7,267.02 641.2,270.38 641.7,270.28 642.2,267.16 642.7,269.98 643.2,264 643.7,268.06 644.2,270.51 644.7,267.24 645.2,271.68 645.7,269.67 646.2,268.07 646.7,270.01 647.2,267.43 647.7,268.44 648.2,268.26 648.7,270.36 649.2,270.78 649.7,266.94 650.2,271.09 650.7,267.17 651.2,271.74 651.7,271.01 652.2,269.69 652.7,267.5 653.2,266.64 653.7,264.96 654.2,266.56 654.7,268.99 655.2,269 655.7,269.62 656.2,266.14 656.7,269.66 657.2,271 657.7,265.08 658.2,265.75 658.7,268.39 659.2,268.17 659.7,267.03 660.2,270.79 660.7,270.18 661.2,268.84 661.7,267.56 662.2,269.05 662.7,268.47 663.2,273.29 663.7,268.09 664.2,269.03 664.7,266.51 665.2,270.39 665.7,268.33 666.2,269.11 666.7,269.32 667.2,266.8 667.7,265.75 668.2,268.51" fill="none" stroke="#3cc060" stroke-width="1.5" stroke-linejoin="round"/>
<polyline points="488.2,268.84 488.7,270.36 489.2,266.22 489.7,268.93 490.2,271.41 490.7,269.85 491.2,266.06 491.7,271.05 492.2,266.01 492.7,265.91 493.2,269.96 493.7,269.27 494.2,269.97 494.7,270.14 495.2,270.47 495.7,271.74 496.2,268.21 496.7,269.16 497.2,268.48 497.7,267.48 498.2,267.77 498.7,269.86 499.2,269.47 499.7,271.96 500.2,269.17 500.7,267.76 501.2,266.48 501.7,271.02 502.2,272.24 502.7,270.1 503.2,270.61 503.7,268.18 504.2,267.48 504.7,268.34 505.2,266.51 505.7,269.87 506.2,265.64 506.7,264.42 507.2,265.64 507.7,271.34 508.2,270.24 508.7,270.27 509.2,270.44 509.7,270.5 510.2,271.31 510.7,270.47 511.2,271.09 511.7,265.84 512.2,266.84 512.7,272.62 513.2,270.08 513.7,270.73 514.2,267.22 514.7,268.63 515.2,267.71 515.7,271.33 516.2,266.73 516.7,269.01 517.2,272.25 517.7,267.44 518.2,267.92 518.7,270.73 519.2,270.17 519.7,269.77 520.2,268.91 520.7,270.05 521.2,272.08 521.7,270.64 522.2,268.67 522.7,268.79 523.2,268.87 523.7,270.31 524.2,267.32 524.7,270.04 525.2,268.71 525.7,270.87 526.2,274.39 526.7,270.29 527.2,269.15 527.7,269.48 528.2,271.61 528.7,267.31 529.2,271.33 529.7,272.6 530.2,268.99 530.7,270.91 531.2,271.84 531.7,266.83 532.2,270.06 532.7,273.75 533.2,271.32 533.7,270.04 534.2,271.85 534.7,269.21 535.2,271.63 535.7,269.31 536.2,270.3 536.7,271.14 537.2,271.12 537.7,268.02 538.2,272.46 538.7,271.45 539.2,270.01 539.7,267.78 540.2,268.3 540.7,273.19 541.2,266.23 541.7,272.96 542.2,271 542.7,271.06 543.2,272.55 543.7,273.29 544.2,268.92 544.7,273.88 545.2,273.32 545.7,270.04 546.2,266.96 546.7,272.32 547.2,270.75 547.7,272.5 548.2,270.81 548.7,273.08 549.2,269.79 549.7,272.97 550.2,267.45 550.7,273.57 551.2,271.21 551.7,271.67 552.2,275.42 552.7,272.13 553.2,271.82 553.7,269.91 554.2,269.36 554.7,271.66 555.2,273.1 555.7,274.95 556.2,270.55 556.7,272.7 557.2,272.53 557.7,273.17 558.2,272.78 558.7,276.29 559.2,274.8 559.7,272.78 560.2,272.81 560.7,276.16 561.2,280.17 561.7,280.92 562.2,282.96 562.7,282.6 563.2,284.14 563.7,286.12 564.2,288.64 564.7,282.69 565.2,285.81 565.7,290.59 566.2,292 566.7,294.39 567.2,294.92 567.7,298.82 568.2,294.2 568.7,298.26 569.2,298.29 569.7,298.79 570.2,301.51 570.7,294.03 571.2,300.37 571.7,294.62 572.2,285.5 572.7,285.9 573.2,280.15 573.7,274.27 574.2,264.25 574.7,257.42 575.2,255.34 575.7,248.26 576.2,245.77 576.7,241.68 577.2,236.39 577.7,237.94 578.2,237.36 578.7,239.12 579.2,240.62 579.7,241.06 580.2,241.04 580.7,244.66 581.2,243.26 581.7,245.84 582.2,247.11 582.7,248.65 583.2,250.24 583.7,252.52 584.2,252.28 584.7,250.4 585.2,251.34 585.7,255.5 586.2,252.8 586.7,258.81 587.2,253.93 587.7,258.34 588.2,261.06 588.7,260.31 589.2,262.98 589.7,262.39 590.2,260.9 590.7,263.35 591.2,263.75 591.7,264.98 592.2,266.21 592.7,263.86 593.2,263.6 593.7,266.92 594.2,263.26 594.7,266.28 595.2,267.75 595.7,266.51 596.2,267.1 596.7,267 597.2,264.98 597.7,265.98 598.2,266.5 598.7,263.51 599.2,268.71 599.7,267.58 600.2,271.4 600.7,268.88 601.2,267.57 601.7,264.4 602.2,264.31 602.7,268.03 603.2,264.57 603.7,266.13 604.2,268.35 604.7,268.82 605.2,271.35 605.7,270.72 606.2,266.35 606.7,264.86 607.2,269.49 607.7,265.41 608.2,268.19 608.7,268 609.2,270.03 609.7,269.37 610.2,268.35 610.7,263.33 611.2,265.76 611.7,269.15 612.2,268.28 612.7,268.18 613.2,268.74 613.7,265.97 614.2,270.3 614.7,269.45 615.2,268.14 615.7,267.43 616.2,267.94 616.7,269.13 617.2,274.43 617.7,268.31 618.2,271.17 618.7,264.26 619.2,270.17 619.7,273.61 620.2,270.52 620.7,270.88 621.2,270.02 621.7,266.89 622.2,269.53 622.7,274.54 623.2,271.35 623.7,269.11 624.2,270.22 624.7,270.48 625.2,272.38 625.7,269.12 626.2,271.89 626.7,267.7 627.2,267.73 627.7,270.53 628.2,267.77 628.7,271.85 629.2,272.14 629.7,271.37 630.2,269.14 630.7,270.69 631.2,265.67 631.7,272.68 632.2,266.17 632.7,265.94 633.2,269.03 633.7,268.54 634.2,269.21 634.7,264.32 635.2,270.09 635.7,268.71 636.2,268.21 636.7,272.28 637.2,268.25 637.7,267.79 638.2,269.77 638.7,270.21 639.2,267.79 639.7,269.22 640.2,268.16 640.7,269.53 641.2,268.73 641.7,269.93 642.2,265.46 642.7,267.45 643.2,267.14 643.7,270.45 644.2,270.69 644.7,269.82 645.2,266.42 645.7,269.16 646.2,269.02 646.7,270.7 647.2,272.91 647.7,267.36 648.2,272.27 648.7,269.85 649.2,269.2 649.7,269.21 650.2,271.01 650.7,265.77 651.2,270.12 651.7,269.96 652.2,272.19 652.7,268.1 653.2,265.13 653.7,269.9 654.2,269.73 654.7,273.66 655.2,270.29 655.7,270.33 656.2,269.82 656.7,269.74 657.2,268.17 657.7,270.8 658.2,268.55 658.7,271.34 659.2,270.93 659.7,267.75 660.2,272.25 660.7,267.96 661.2,266.29 661.7,269.29 662.2,267.02 662.7,263.76 663.2,268.17 663.7,271.02 664.2,270.2 664.7,266.15 665.2,270.94 665.7,268.94 666.2,269.86 666.7,272.55 667.2,267.99 667.7,269.3 668.2,266.81" fill="none" stroke="#ee1111" stroke-width="1.5" stroke-linejoin="round"/>
<line x1="594" y1="202.3" x2="609.5" y2="202.3" stroke="#e8141c" stroke-width="1.3" />
<text x="614" y="205" font-size="7.6" fill="#222" >Mo@MoOx-JH</text>
<line x1="594" y1="211.9" x2="609.5" y2="211.9" stroke="#3cc060" stroke-width="1.3" />
<text x="614" y="214.6" font-size="7.6" fill="#222" >Mo@MoOx-TG</text>
<line x1="602.7" y1="303.5" x2="582" y2="275.5" stroke="#222" stroke-width="0.9" stroke-dasharray="3,2"/>
<polygon points="579.7,272.6 585.2,274.9 581.6,277.6" fill="#222" stroke="none" stroke-width="1" />
<text x="623.2" y="313" font-size="9.3" fill="#000" text-anchor="middle" >g=2.003</text>
<text x="459.3" y="367.1" font-size="17" fill="#000" font-weight="bold" >i</text>
<line x1="490.2" y1="527.4" x2="670.9" y2="527.4" stroke="#222" stroke-width="1.1" />
<line x1="490.2" y1="381.6" x2="490.2" y2="527.4" stroke="#222" stroke-width="1.1" />
<line x1="490.2" y1="381.6" x2="670.9" y2="381.6" stroke="#6a6a6a" stroke-width="1.2" />
<line x1="670.9" y1="381.6" x2="670.9" y2="527.4" stroke="#6a6a6a" stroke-width="1.2" />
<line x1="487.2" y1="380.9" x2="490.2" y2="380.9" stroke="#222" stroke-width="1" />
<text x="485.7" y="384.4" font-size="10" fill="#000" text-anchor="end" >2</text>
<line x1="487.2" y1="429.5" x2="490.2" y2="429.5" stroke="#222" stroke-width="1" />
<text x="485.7" y="433" font-size="10" fill="#000" text-anchor="end" >1</text>
<line x1="487.2" y1="478.1" x2="490.2" y2="478.1" stroke="#222" stroke-width="1" />
<text x="485.7" y="481.6" font-size="10" fill="#000" text-anchor="end" >0</text>
<line x1="487.2" y1="526.7" x2="490.2" y2="526.7" stroke="#222" stroke-width="1" />
<text x="485.7" y="530.2" font-size="10" fill="#000" text-anchor="end" >-1</text>
<line x1="488.4" y1="405.2" x2="490.2" y2="405.2" stroke="#222" stroke-width="0.8" />
<line x1="488.4" y1="453.8" x2="490.2" y2="453.8" stroke="#222" stroke-width="0.8" />
<line x1="488.4" y1="502.4" x2="490.2" y2="502.4" stroke="#222" stroke-width="0.8" />
<text x="580.5" y="543.2" font-size="12.2" fill="#000" text-anchor="middle" >Reaction coordinate</text>
<text x="474.6" y="453.6" font-size="12.6" fill="#000" text-anchor="middle" transform="rotate(-90 474.6 453.6)">Free energy (eV)</text>
<line x1="490.2" y1="478.1" x2="670.9" y2="478.1" stroke="#e8141c" stroke-width="1.2" stroke-dasharray="2.4,3.6"/>
<line x1="530.6" y1="418.81" x2="558.6" y2="418.81" stroke="#222" stroke-width="1" stroke-dasharray="1.5,2"/>
<line x1="573" y1="396.45" x2="601.3" y2="396.45" stroke="#222" stroke-width="1" stroke-dasharray="1.5,2"/>
<line x1="573" y1="402.77" x2="601.3" y2="402.77" stroke="#222" stroke-width="1" stroke-dasharray="1.5,2"/>
<line x1="548.7" y1="498.51" x2="566" y2="498.51" stroke="#222" stroke-width="1" stroke-dasharray="1.5,2"/>
<line x1="490.2" y1="478.1" x2="506" y2="478.1" stroke="#3cc060" stroke-width="1.5" />
<line x1="530.6" y1="482.96" x2="548.7" y2="482.96" stroke="#3cc060" stroke-width="1.5" />
<line x1="571.7" y1="474.7" x2="589.8" y2="474.7" stroke="#3cc060" stroke-width="1.5" />
<line x1="612.8" y1="434.36" x2="630.8" y2="434.36" stroke="#3cc060" stroke-width="1.5" />
<line x1="653.8" y1="478.1" x2="670.9" y2="478.1" stroke="#3cc060" stroke-width="1.5" />
<polyline points="506,478.1 530.6,482.96" fill="none" stroke="#3cc060" stroke-width="1.5" stroke-dasharray="5,3"/>
<polyline points="548.7,482.96 558.6,418.81 571.7,474.7" fill="none" stroke="#3cc060" stroke-width="1.5" stroke-dasharray="5,3"/>
<polyline points="589.8,474.7 601.3,396.45 612.8,434.36" fill="none" stroke="#3cc060" stroke-width="1.5" stroke-dasharray="5,3"/>
<polyline points="630.8,434.36 653.8,478.1" fill="none" stroke="#3cc060" stroke-width="1.5" stroke-dasharray="5,3"/>
<line x1="490.2" y1="478.1" x2="506" y2="478.1" stroke="#e8141c" stroke-width="1.5" />
<line x1="530.6" y1="498.51" x2="548.7" y2="498.51" stroke="#e8141c" stroke-width="1.5" />
<line x1="571.7" y1="474.7" x2="589.8" y2="474.7" stroke="#e8141c" stroke-width="1.5" />
<line x1="612.8" y1="437.76" x2="630.8" y2="437.76" stroke="#e8141c" stroke-width="1.5" />
<line x1="653.8" y1="478.1" x2="670.9" y2="478.1" stroke="#e8141c" stroke-width="1.5" />
<polyline points="506,478.1 530.6,498.51" fill="none" stroke="#e8141c" stroke-width="1.5" stroke-dasharray="5,3"/>
<polyline points="548.7,498.51 560.2,458.66 571.7,474.7" fill="none" stroke="#e8141c" stroke-width="1.5" stroke-dasharray="5,3"/>
<polyline points="589.8,474.7 601.3,402.77 612.8,437.76" fill="none" stroke="#e8141c" stroke-width="1.5" stroke-dasharray="5,3"/>
<polyline points="630.8,437.76 653.8,478.1" fill="none" stroke="#e8141c" stroke-width="1.5" stroke-dasharray="5,3"/>
<line x1="540.5" y1="482.96" x2="540.5" y2="423.81" stroke="#3cc060" stroke-width="1.3" />
<polygon points="538.3,424.81 542.7,424.81 540.5,419.81" fill="#3cc060" stroke="none" stroke-width="1" />
<line x1="560.2" y1="498.51" x2="560.2" y2="463.66" stroke="#e8141c" stroke-width="1.3" />
<polygon points="558,464.66 562.4,464.66 560.2,459.66" fill="#e8141c" stroke="none" stroke-width="1" />
<line x1="580.9" y1="474.7" x2="580.9" y2="401.45" stroke="#3cc060" stroke-width="1.3" />
<polygon points="578.7,402.45 583.1,402.45 580.9,397.45" fill="#3cc060" stroke="none" stroke-width="1" />
<line x1="587.5" y1="474.7" x2="587.5" y2="407.77" stroke="#e8141c" stroke-width="1.3" />
<polygon points="585.3,408.77 589.7,408.77 587.5,403.77" fill="#e8141c" stroke="none" stroke-width="1" />
<text x="494.5" y="428.5" font-size="7.3" fill="#3cc060" font-weight="bold" >TS1: 1.44 eV</text>
<text x="533.9" y="404.5" font-size="7.3" fill="#3cc060" font-weight="bold" >TS2: 1.68 eV</text>
<text x="592.4" y="471.2" font-size="7.3" fill="#e8141c" font-weight="bold" >TS2: 1.60 eV</text>
<text x="565.1" y="496.8" font-size="7.3" fill="#e8141c" font-weight="bold" >TS1: 0.81 eV</text>
<text x="491.2" y="475.2" font-size="6.8" fill="#000" font-weight="bold" >*+H<tspan baseline-shift="sub" font-size="70%">2</tspan>O</text>
<text x="533.9" y="506" font-size="6.8" fill="#000" font-weight="bold" >H<tspan baseline-shift="sub" font-size="70%">2</tspan>O*</text>
<text x="571.7" y="486" font-size="6.8" fill="#000" font-weight="bold" >H*+OH*</text>
<text x="618.6" y="446.3" font-size="7.2" fill="#000" font-weight="bold" >H*</text>
<text x="654.6" y="475.8" font-size="7" fill="#000" font-weight="bold" >1/2H<tspan baseline-shift="sub" font-size="70%">2</tspan></text>
<line x1="575.6" y1="510.3" x2="591.4" y2="510.3" stroke="#3cc060" stroke-width="1.3" />
<text x="594.7" y="513.1" font-size="7.6" fill="#222" >RuMo-JH@MoOx-TG</text>
<line x1="575.6" y1="519.2" x2="591.4" y2="519.2" stroke="#e8141c" stroke-width="1.3" />
<text x="594.7" y="522" font-size="7.6" fill="#222" >RuMo@MoOx-JH</text>
<text x="251" y="366" font-size="17" fill="#000" font-weight="bold" >g</text>
<line x1="297.7" y1="406.7" x2="286.85" y2="411.35" stroke="#2d7880" stroke-width="6" />
<line x1="297.7" y1="406.7" x2="286.85" y2="411.35" stroke="#4fa6ae" stroke-width="4" />
<line x1="297.35" y1="405.87" x2="286.5" y2="410.52" stroke="#8fd0d4" stroke-width="1.1" stroke-opacity="0.75"/>
<line x1="286.85" y1="411.35" x2="276" y2="416" stroke="#2d7880" stroke-width="6" />
<line x1="286.85" y1="411.35" x2="276" y2="416" stroke="#4fa6ae" stroke-width="4" />
<line x1="286.5" y1="410.52" x2="275.65" y2="415.17" stroke="#8fd0d4" stroke-width="1.1" stroke-opacity="0.75"/>
<line x1="303.6" y1="424.4" x2="291.8" y2="430.2" stroke="#2d7880" stroke-width="6" />
<line x1="303.6" y1="424.4" x2="291.8" y2="430.2" stroke="#4fa6ae" stroke-width="4" />
<line x1="303.2" y1="423.59" x2="291.4" y2="429.39" stroke="#8fd0d4" stroke-width="1.1" stroke-opacity="0.75"/>
<line x1="291.8" y1="430.2" x2="280" y2="436" stroke="#2d7880" stroke-width="6" />
<line x1="291.8" y1="430.2" x2="280" y2="436" stroke="#4fa6ae" stroke-width="4" />
<line x1="291.4" y1="429.39" x2="279.6" y2="435.19" stroke="#8fd0d4" stroke-width="1.1" stroke-opacity="0.75"/>
<line x1="286.6" y1="408.9" x2="274.3" y2="413.45" stroke="#2d7880" stroke-width="6" />
<line x1="286.6" y1="408.9" x2="274.3" y2="413.45" stroke="#4fa6ae" stroke-width="4" />
<line x1="286.29" y1="408.06" x2="273.99" y2="412.61" stroke="#8fd0d4" stroke-width="1.1" stroke-opacity="0.75"/>
<line x1="274.3" y1="413.45" x2="262" y2="418" stroke="#2d7880" stroke-width="6" />
<line x1="274.3" y1="413.45" x2="262" y2="418" stroke="#4fa6ae" stroke-width="4" />
<line x1="273.99" y1="412.61" x2="261.69" y2="417.16" stroke="#8fd0d4" stroke-width="1.1" stroke-opacity="0.75"/>
<line x1="316.8" y1="398.1" x2="313.4" y2="392.05" stroke="#2d7880" stroke-width="6" />
<line x1="316.8" y1="398.1" x2="313.4" y2="392.05" stroke="#4fa6ae" stroke-width="4" />
<line x1="317.58" y1="397.66" x2="314.18" y2="391.61" stroke="#8fd0d4" stroke-width="1.1" stroke-opacity="0.75"/>
<line x1="313.4" y1="392.05" x2="310" y2="386" stroke="#2d7880" stroke-width="6" />
<line x1="313.4" y1="392.05" x2="310" y2="386" stroke="#4fa6ae" stroke-width="4" />
<line x1="314.18" y1="391.61" x2="310.78" y2="385.56" stroke="#8fd0d4" stroke-width="1.1" stroke-opacity="0.75"/>
<line x1="316.8" y1="398.1" x2="320.9" y2="392.05" stroke="#2d7880" stroke-width="6" />
<line x1="316.8" y1="398.1" x2="320.9" y2="392.05" stroke="#4fa6ae" stroke-width="4" />
<line x1="316.05" y1="397.6" x2="320.15" y2="391.55" stroke="#8fd0d4" stroke-width="1.1" stroke-opacity="0.75"/>
<line x1="320.9" y1="392.05" x2="325" y2="386" stroke="#2d7880" stroke-width="6" />
<line x1="320.9" y1="392.05" x2="325" y2="386" stroke="#4fa6ae" stroke-width="4" />
<line x1="320.15" y1="391.55" x2="324.25" y2="385.5" stroke="#8fd0d4" stroke-width="1.1" stroke-opacity="0.75"/>
<line x1="297.7" y1="406.7" x2="291.35" y2="401.35" stroke="#2d7880" stroke-width="6" />
<line x1="297.7" y1="406.7" x2="291.35" y2="401.35" stroke="#4fa6ae" stroke-width="4" />
<line x1="298.28" y1="406.01" x2="291.93" y2="400.66" stroke="#8fd0d4" stroke-width="1.1" stroke-opacity="0.75"/>
<line x1="291.35" y1="401.35" x2="285" y2="396" stroke="#2d7880" stroke-width="6" />
<line x1="291.35" y1="401.35" x2="285" y2="396" stroke="#4fa6ae" stroke-width="4" />
<line x1="291.93" y1="400.66" x2="285.58" y2="395.31" stroke="#8fd0d4" stroke-width="1.1" stroke-opacity="0.75"/>
<line x1="289.2" y1="473.6" x2="275.6" y2="471.8" stroke="#9c0808" stroke-width="6" />
<line x1="289.2" y1="473.6" x2="275.6" y2="471.8" stroke="#e41616" stroke-width="4" />
<line x1="289.32" y1="472.71" x2="275.72" y2="470.91" stroke="#ff6a6a" stroke-width="1.1" stroke-opacity="0.75"/>
<line x1="275.6" y1="471.8" x2="262" y2="470" stroke="#2d7880" stroke-width="6" />
<line x1="275.6" y1="471.8" x2="262" y2="470" stroke="#4fa6ae" stroke-width="4" />
<line x1="275.72" y1="470.91" x2="262.12" y2="469.11" stroke="#8fd0d4" stroke-width="1.1" stroke-opacity="0.75"/>
<line x1="319.1" y1="475" x2="309.55" y2="495.5" stroke="#2d7880" stroke-width="6" />
<line x1="319.1" y1="475" x2="309.55" y2="495.5" stroke="#4fa6ae" stroke-width="4" />
<line x1="318.28" y1="474.62" x2="308.73" y2="495.12" stroke="#8fd0d4" stroke-width="1.1" stroke-opacity="0.75"/>
<line x1="309.55" y1="495.5" x2="300" y2="516" stroke="#2d7880" stroke-width="6" />
<line x1="309.55" y1="495.5" x2="300" y2="516" stroke="#4fa6ae" stroke-width="4" />
<line x1="308.73" y1="495.12" x2="299.18" y2="515.62" stroke="#8fd0d4" stroke-width="1.1" stroke-opacity="0.75"/>
<line x1="314.7" y1="497.7" x2="310.35" y2="507.85" stroke="#9c0808" stroke-width="6" />
<line x1="314.7" y1="497.7" x2="310.35" y2="507.85" stroke="#e41616" stroke-width="4" />
<line x1="313.87" y1="497.35" x2="309.52" y2="507.5" stroke="#ff6a6a" stroke-width="1.1" stroke-opacity="0.75"/>
<line x1="310.35" y1="507.85" x2="306" y2="518" stroke="#2d7880" stroke-width="6" />
<line x1="310.35" y1="507.85" x2="306" y2="518" stroke="#4fa6ae" stroke-width="4" />
<line x1="309.52" y1="507.5" x2="305.17" y2="517.65" stroke="#8fd0d4" stroke-width="1.1" stroke-opacity="0.75"/>
<line x1="385.9" y1="498.6" x2="392.95" y2="505.3" stroke="#9c0808" stroke-width="6" />
<line x1="385.9" y1="498.6" x2="392.95" y2="505.3" stroke="#e41616" stroke-width="4" />
<line x1="386.52" y1="497.95" x2="393.57" y2="504.65" stroke="#ff6a6a" stroke-width="1.1" stroke-opacity="0.75"/>
<line x1="392.95" y1="505.3" x2="400" y2="512" stroke="#2d7880" stroke-width="6" />
<line x1="392.95" y1="505.3" x2="400" y2="512" stroke="#4fa6ae" stroke-width="4" />
<line x1="393.57" y1="504.65" x2="400.62" y2="511.35" stroke="#8fd0d4" stroke-width="1.1" stroke-opacity="0.75"/>
<line x1="425.3" y1="468" x2="433.65" y2="465" stroke="#2d7880" stroke-width="6" />
<line x1="425.3" y1="468" x2="433.65" y2="465" stroke="#4fa6ae" stroke-width="4" />
<line x1="425" y1="467.15" x2="433.35" y2="464.15" stroke="#8fd0d4" stroke-width="1.1" stroke-opacity="0.75"/>
<line x1="433.65" y1="465" x2="442" y2="462" stroke="#2d7880" stroke-width="6" />
<line x1="433.65" y1="465" x2="442" y2="462" stroke="#4fa6ae" stroke-width="4" />
<line x1="433.35" y1="464.15" x2="441.7" y2="461.15" stroke="#8fd0d4" stroke-width="1.1" stroke-opacity="0.75"/>
<line x1="425.3" y1="468" x2="424.95" y2="476" stroke="#2d7880" stroke-width="6" />
<line x1="425.3" y1="468" x2="424.95" y2="476" stroke="#4fa6ae" stroke-width="4" />
<line x1="424.4" y1="467.96" x2="424.05" y2="475.96" stroke="#8fd0d4" stroke-width="1.1" stroke-opacity="0.75"/>
<line x1="424.95" y1="476" x2="424.6" y2="484" stroke="#2d7880" stroke-width="6" />
<line x1="424.95" y1="476" x2="424.6" y2="484" stroke="#4fa6ae" stroke-width="4" />
<line x1="424.05" y1="475.96" x2="423.7" y2="483.96" stroke="#8fd0d4" stroke-width="1.1" stroke-opacity="0.75"/>
<line x1="366.9" y1="511.8" x2="364.45" y2="517.9" stroke="#9c0808" stroke-width="6" />
<line x1="366.9" y1="511.8" x2="364.45" y2="517.9" stroke="#e41616" stroke-width="4" />
<line x1="366.06" y1="511.46" x2="363.61" y2="517.56" stroke="#ff6a6a" stroke-width="1.1" stroke-opacity="0.75"/>
<line x1="364.45" y1="517.9" x2="362" y2="524" stroke="#2d7880" stroke-width="6" />
<line x1="364.45" y1="517.9" x2="362" y2="524" stroke="#4fa6ae" stroke-width="4" />
<line x1="363.61" y1="517.56" x2="361.16" y2="523.66" stroke="#8fd0d4" stroke-width="1.1" stroke-opacity="0.75"/>
<line x1="366.9" y1="511.8" x2="372.45" y2="517.9" stroke="#9c0808" stroke-width="6" />
<line x1="366.9" y1="511.8" x2="372.45" y2="517.9" stroke="#e41616" stroke-width="4" />
<line x1="367.57" y1="511.19" x2="373.12" y2="517.29" stroke="#ff6a6a" stroke-width="1.1" stroke-opacity="0.75"/>
<line x1="372.45" y1="517.9" x2="378" y2="524" stroke="#2d7880" stroke-width="6" />
<line x1="372.45" y1="517.9" x2="378" y2="524" stroke="#4fa6ae" stroke-width="4" />
<line x1="373.12" y1="517.29" x2="378.67" y2="523.39" stroke="#8fd0d4" stroke-width="1.1" stroke-opacity="0.75"/>
<line x1="418" y1="510" x2="425" y2="506.5" stroke="#2d7880" stroke-width="6" />
<line x1="418" y1="510" x2="425" y2="506.5" stroke="#4fa6ae" stroke-width="4" />
<line x1="417.6" y1="509.2" x2="424.6" y2="505.7" stroke="#8fd0d4" stroke-width="1.1" stroke-opacity="0.75"/>
<line x1="425" y1="506.5" x2="432" y2="503" stroke="#2d7880" stroke-width="6" />
<line x1="425" y1="506.5" x2="432" y2="503" stroke="#4fa6ae" stroke-width="4" />
<line x1="424.6" y1="505.7" x2="431.6" y2="502.2" stroke="#8fd0d4" stroke-width="1.1" stroke-opacity="0.75"/>
<line x1="370.5" y1="473.8" x2="369.45" y2="486.9" stroke="#2d7880" stroke-width="6" />
<line x1="370.5" y1="473.8" x2="369.45" y2="486.9" stroke="#4fa6ae" stroke-width="4" />
<line x1="369.6" y1="473.73" x2="368.55" y2="486.83" stroke="#8fd0d4" stroke-width="1.1" stroke-opacity="0.75"/>
<line x1="369.45" y1="486.9" x2="368.4" y2="500" stroke="#2d7880" stroke-width="6" />
<line x1="369.45" y1="486.9" x2="368.4" y2="500" stroke="#4fa6ae" stroke-width="4" />
<line x1="368.55" y1="486.83" x2="367.5" y2="499.93" stroke="#8fd0d4" stroke-width="1.1" stroke-opacity="0.75"/>
<line x1="346.1" y1="480.9" x2="342.05" y2="495.45" stroke="#9c0808" stroke-width="6" />
<line x1="346.1" y1="480.9" x2="342.05" y2="495.45" stroke="#e41616" stroke-width="4" />
<line x1="345.23" y1="480.66" x2="341.18" y2="495.21" stroke="#ff6a6a" stroke-width="1.1" stroke-opacity="0.75"/>
<line x1="342.05" y1="495.45" x2="338" y2="510" stroke="#2d7880" stroke-width="6" />
<line x1="342.05" y1="495.45" x2="338" y2="510" stroke="#4fa6ae" stroke-width="4" />
<line x1="341.18" y1="495.21" x2="337.13" y2="509.76" stroke="#8fd0d4" stroke-width="1.1" stroke-opacity="0.75"/>
<line x1="289.2" y1="473.6" x2="279.6" y2="482.8" stroke="#9c0808" stroke-width="6" />
<line x1="289.2" y1="473.6" x2="279.6" y2="482.8" stroke="#e41616" stroke-width="4" />
<line x1="288.58" y1="472.95" x2="278.98" y2="482.15" stroke="#ff6a6a" stroke-width="1.1" stroke-opacity="0.75"/>
<line x1="279.6" y1="482.8" x2="270" y2="492" stroke="#2d7880" stroke-width="6" />
<line x1="279.6" y1="482.8" x2="270" y2="492" stroke="#4fa6ae" stroke-width="4" />
<line x1="278.98" y1="482.15" x2="269.38" y2="491.35" stroke="#8fd0d4" stroke-width="1.1" stroke-opacity="0.75"/>
<line x1="286.6" y1="408.9" x2="292.15" y2="407.8" stroke="#2d7880" stroke-width="7.2" />
<line x1="286.6" y1="408.9" x2="292.15" y2="407.8" stroke="#4fa6ae" stroke-width="4.96" />
<line x1="286.38" y1="407.81" x2="291.93" y2="406.71" stroke="#8fd0d4" stroke-width="1.36" stroke-opacity="0.75"/>
<line x1="292.15" y1="407.8" x2="297.7" y2="406.7" stroke="#2d7880" stroke-width="7.2" />
<line x1="292.15" y1="407.8" x2="297.7" y2="406.7" stroke="#4fa6ae" stroke-width="4.96" />
<line x1="291.93" y1="406.71" x2="297.48" y2="405.61" stroke="#8fd0d4" stroke-width="1.36" stroke-opacity="0.75"/>
<line x1="297.7" y1="406.7" x2="307.25" y2="402.4" stroke="#2d7880" stroke-width="7.2" />
<line x1="297.7" y1="406.7" x2="307.25" y2="402.4" stroke="#4fa6ae" stroke-width="4.96" />
<line x1="297.24" y1="405.68" x2="306.79" y2="401.38" stroke="#8fd0d4" stroke-width="1.36" stroke-opacity="0.75"/>
<line x1="307.25" y1="402.4" x2="316.8" y2="398.1" stroke="#2d7880" stroke-width="7.2" />
<line x1="307.25" y1="402.4" x2="316.8" y2="398.1" stroke="#4fa6ae" stroke-width="4.96" />
<line x1="306.79" y1="401.38" x2="316.34" y2="397.08" stroke="#8fd0d4" stroke-width="1.36" stroke-opacity="0.75"/>
<line x1="316.8" y1="398.1" x2="332" y2="399.2" stroke="#2d7880" stroke-width="7.2" />
<line x1="316.8" y1="398.1" x2="332" y2="399.2" stroke="#4fa6ae" stroke-width="4.96" />
<line x1="316.88" y1="396.99" x2="332.08" y2="398.09" stroke="#8fd0d4" stroke-width="1.36" stroke-opacity="0.75"/>
<line x1="332" y1="399.2" x2="347.2" y2="400.3" stroke="#2d7880" stroke-width="7.2" />
<line x1="332" y1="399.2" x2="347.2" y2="400.3" stroke="#4fa6ae" stroke-width="4.96" />
<line x1="332.08" y1="398.09" x2="347.28" y2="399.19" stroke="#8fd0d4" stroke-width="1.36" stroke-opacity="0.75"/>
<line x1="316.8" y1="398.1" x2="327.3" y2="416.55" stroke="#2d7880" stroke-width="7.2" />
<line x1="316.8" y1="398.1" x2="327.3" y2="416.55" stroke="#4fa6ae" stroke-width="4.96" />
<line x1="317.77" y1="397.55" x2="328.27" y2="416" stroke="#8fd0d4" stroke-width="1.36" stroke-opacity="0.75"/>
<line x1="327.3" y1="416.55" x2="337.8" y2="435" stroke="#2d7880" stroke-width="7.2" />
<line x1="327.3" y1="416.55" x2="337.8" y2="435" stroke="#4fa6ae" stroke-width="4.96" />
<line x1="328.27" y1="416" x2="338.77" y2="434.45" stroke="#8fd0d4" stroke-width="1.36" stroke-opacity="0.75"/>
<line x1="316.8" y1="398.1" x2="310.2" y2="411.25" stroke="#2d7880" stroke-width="7.2" />
<line x1="316.8" y1="398.1" x2="310.2" y2="411.25" stroke="#4fa6ae" stroke-width="4.96" />
<line x1="315.8" y1="397.6" x2="309.2" y2="410.75" stroke="#8fd0d4" stroke-width="1.36" stroke-opacity="0.75"/>
<line x1="310.2" y1="411.25" x2="303.6" y2="424.4" stroke="#2d7880" stroke-width="7.2" />
<line x1="310.2" y1="411.25" x2="303.6" y2="424.4" stroke="#4fa6ae" stroke-width="4.96" />
<line x1="309.2" y1="410.75" x2="302.6" y2="423.9" stroke="#8fd0d4" stroke-width="1.36" stroke-opacity="0.75"/>
<line x1="297.7" y1="406.7" x2="318.05" y2="415.25" stroke="#2d7880" stroke-width="7.2" />
<line x1="297.7" y1="406.7" x2="318.05" y2="415.25" stroke="#4fa6ae" stroke-width="4.96" />
<line x1="298.13" y1="405.67" x2="318.48" y2="414.22" stroke="#8fd0d4" stroke-width="1.36" stroke-opacity="0.75"/>
<line x1="318.05" y1="415.25" x2="338.4" y2="423.8" stroke="#2d7880" stroke-width="7.2" />
<line x1="318.05" y1="415.25" x2="338.4" y2="423.8" stroke="#4fa6ae" stroke-width="4.96" />
<line x1="318.48" y1="414.22" x2="338.83" y2="422.77" stroke="#8fd0d4" stroke-width="1.36" stroke-opacity="0.75"/>
<line x1="303.6" y1="424.4" x2="320.7" y2="429.7" stroke="#2d7880" stroke-width="7.2" />
<line x1="303.6" y1="424.4" x2="320.7" y2="429.7" stroke="#4fa6ae" stroke-width="4.96" />
<line x1="303.93" y1="423.33" x2="321.03" y2="428.63" stroke="#8fd0d4" stroke-width="1.36" stroke-opacity="0.75"/>
<line x1="320.7" y1="429.7" x2="337.8" y2="435" stroke="#2d7880" stroke-width="7.2" />
<line x1="320.7" y1="429.7" x2="337.8" y2="435" stroke="#4fa6ae" stroke-width="4.96" />
<line x1="321.03" y1="428.63" x2="338.13" y2="433.93" stroke="#8fd0d4" stroke-width="1.36" stroke-opacity="0.75"/>
<line x1="338.4" y1="423.8" x2="338.1" y2="429.4" stroke="#2d7880" stroke-width="7.2" />
<line x1="338.4" y1="423.8" x2="338.1" y2="429.4" stroke="#4fa6ae" stroke-width="4.96" />
<line x1="337.29" y1="423.74" x2="336.99" y2="429.34" stroke="#8fd0d4" stroke-width="1.36" stroke-opacity="0.75"/>
<line x1="338.1" y1="429.4" x2="337.8" y2="435" stroke="#2d7880" stroke-width="7.2" />
<line x1="338.1" y1="429.4" x2="337.8" y2="435" stroke="#4fa6ae" stroke-width="4.96" />
<line x1="336.99" y1="429.34" x2="336.69" y2="434.94" stroke="#8fd0d4" stroke-width="1.36" stroke-opacity="0.75"/>
<line x1="303.6" y1="424.4" x2="321" y2="424.1" stroke="#2d7880" stroke-width="7.2" />
<line x1="303.6" y1="424.4" x2="321" y2="424.1" stroke="#4fa6ae" stroke-width="4.96" />
<line x1="303.58" y1="423.28" x2="320.98" y2="422.98" stroke="#8fd0d4" stroke-width="1.36" stroke-opacity="0.75"/>
<line x1="321" y1="424.1" x2="338.4" y2="423.8" stroke="#2d7880" stroke-width="7.2" />
<line x1="321" y1="424.1" x2="338.4" y2="423.8" stroke="#4fa6ae" stroke-width="4.96" />
<line x1="320.98" y1="422.98" x2="338.38" y2="422.68" stroke="#8fd0d4" stroke-width="1.36" stroke-opacity="0.75"/>
<line x1="338.4" y1="423.8" x2="352.65" y2="431.3" stroke="#2d7880" stroke-width="7.2" />
<line x1="338.4" y1="423.8" x2="352.65" y2="431.3" stroke="#4fa6ae" stroke-width="4.96" />
<line x1="338.92" y1="422.81" x2="353.17" y2="430.31" stroke="#8fd0d4" stroke-width="1.36" stroke-opacity="0.75"/>
<line x1="352.65" y1="431.3" x2="366.9" y2="438.8" stroke="#9c0808" stroke-width="7.2" />
<line x1="352.65" y1="431.3" x2="366.9" y2="438.8" stroke="#e41616" stroke-width="4.96" />
<line x1="353.17" y1="430.31" x2="367.42" y2="437.81" stroke="#ff6a6a" stroke-width="1.36" stroke-opacity="0.75"/>
<line x1="337.8" y1="435" x2="350.15" y2="442.7" stroke="#2d7880" stroke-width="7.2" />
<line x1="337.8" y1="435" x2="350.15" y2="442.7" stroke="#4fa6ae" stroke-width="4.96" />
<line x1="338.39" y1="434.05" x2="350.74" y2="441.75" stroke="#8fd0d4" stroke-width="1.36" stroke-opacity="0.75"/>
<line x1="350.15" y1="442.7" x2="362.5" y2="450.4" stroke="#9c0808" stroke-width="7.2" />
<line x1="350.15" y1="442.7" x2="362.5" y2="450.4" stroke="#e41616" stroke-width="4.96" />
<line x1="350.74" y1="441.75" x2="363.09" y2="449.45" stroke="#ff6a6a" stroke-width="1.36" stroke-opacity="0.75"/>
<line x1="303.6" y1="424.4" x2="311.75" y2="436.2" stroke="#2d7880" stroke-width="7.2" />
<line x1="303.6" y1="424.4" x2="311.75" y2="436.2" stroke="#4fa6ae" stroke-width="4.96" />
<line x1="304.52" y1="423.77" x2="312.67" y2="435.57" stroke="#8fd0d4" stroke-width="1.36" stroke-opacity="0.75"/>
<line x1="311.75" y1="436.2" x2="319.9" y2="448" stroke="#9c0808" stroke-width="7.2" />
<line x1="311.75" y1="436.2" x2="319.9" y2="448" stroke="#e41616" stroke-width="4.96" />
<line x1="312.67" y1="435.57" x2="320.82" y2="447.37" stroke="#ff6a6a" stroke-width="1.36" stroke-opacity="0.75"/>
<line x1="337.8" y1="435" x2="328.45" y2="455" stroke="#2d7880" stroke-width="7.2" />
<line x1="337.8" y1="435" x2="328.45" y2="455" stroke="#4fa6ae" stroke-width="4.96" />
<line x1="336.79" y1="434.53" x2="327.44" y2="454.53" stroke="#8fd0d4" stroke-width="1.36" stroke-opacity="0.75"/>
<line x1="328.45" y1="455" x2="319.1" y2="475" stroke="#2d7880" stroke-width="7.2" />
<line x1="328.45" y1="455" x2="319.1" y2="475" stroke="#4fa6ae" stroke-width="4.96" />
<line x1="327.44" y1="454.53" x2="318.09" y2="474.53" stroke="#8fd0d4" stroke-width="1.36" stroke-opacity="0.75"/>
<line x1="319.1" y1="475" x2="318.4" y2="465.55" stroke="#2d7880" stroke-width="7.2" />
<line x1="319.1" y1="475" x2="318.4" y2="465.55" stroke="#4fa6ae" stroke-width="4.96" />
<line x1="320.21" y1="474.92" x2="319.51" y2="465.47" stroke="#8fd0d4" stroke-width="1.36" stroke-opacity="0.75"/>
<line x1="318.4" y1="465.55" x2="317.7" y2="456.1" stroke="#9c0808" stroke-width="7.2" />
<line x1="318.4" y1="465.55" x2="317.7" y2="456.1" stroke="#e41616" stroke-width="4.96" />
<line x1="319.51" y1="465.47" x2="318.81" y2="456.02" stroke="#ff6a6a" stroke-width="1.36" stroke-opacity="0.75"/>
<line x1="319.1" y1="475" x2="304.15" y2="474.3" stroke="#2d7880" stroke-width="7.2" />
<line x1="319.1" y1="475" x2="304.15" y2="474.3" stroke="#4fa6ae" stroke-width="4.96" />
<line x1="319.15" y1="473.89" x2="304.2" y2="473.19" stroke="#8fd0d4" stroke-width="1.36" stroke-opacity="0.75"/>
<line x1="304.15" y1="474.3" x2="289.2" y2="473.6" stroke="#9c0808" stroke-width="7.2" />
<line x1="304.15" y1="474.3" x2="289.2" y2="473.6" stroke="#e41616" stroke-width="4.96" />
<line x1="304.2" y1="473.19" x2="289.25" y2="472.49" stroke="#ff6a6a" stroke-width="1.36" stroke-opacity="0.75"/>
<line x1="319.1" y1="475" x2="332.6" y2="477.95" stroke="#2d7880" stroke-width="7.2" />
<line x1="319.1" y1="475" x2="332.6" y2="477.95" stroke="#4fa6ae" stroke-width="4.96" />
<line x1="319.34" y1="473.91" x2="332.84" y2="476.86" stroke="#8fd0d4" stroke-width="1.36" stroke-opacity="0.75"/>
<line x1="332.6" y1="477.95" x2="346.1" y2="480.9" stroke="#9c0808" stroke-width="7.2" />
<line x1="332.6" y1="477.95" x2="346.1" y2="480.9" stroke="#e41616" stroke-width="4.96" />
<line x1="332.84" y1="476.86" x2="346.34" y2="479.81" stroke="#ff6a6a" stroke-width="1.36" stroke-opacity="0.75"/>
<line x1="319.1" y1="475" x2="316.9" y2="486.35" stroke="#2d7880" stroke-width="7.2" />
<line x1="319.1" y1="475" x2="316.9" y2="486.35" stroke="#4fa6ae" stroke-width="4.96" />
<line x1="318" y1="474.79" x2="315.8" y2="486.14" stroke="#8fd0d4" stroke-width="1.36" stroke-opacity="0.75"/>
<line x1="316.9" y1="486.35" x2="314.7" y2="497.7" stroke="#9c0808" stroke-width="7.2" />
<line x1="316.9" y1="486.35" x2="314.7" y2="497.7" stroke="#e41616" stroke-width="4.96" />
<line x1="315.8" y1="486.14" x2="313.6" y2="497.49" stroke="#ff6a6a" stroke-width="1.36" stroke-opacity="0.75"/>
<line x1="370.5" y1="473.8" x2="366.5" y2="462.1" stroke="#2d7880" stroke-width="7.2" />
<line x1="370.5" y1="473.8" x2="366.5" y2="462.1" stroke="#4fa6ae" stroke-width="4.96" />
<line x1="371.56" y1="473.44" x2="367.56" y2="461.74" stroke="#8fd0d4" stroke-width="1.36" stroke-opacity="0.75"/>
<line x1="366.5" y1="462.1" x2="362.5" y2="450.4" stroke="#9c0808" stroke-width="7.2" />
<line x1="366.5" y1="462.1" x2="362.5" y2="450.4" stroke="#e41616" stroke-width="4.96" />
<line x1="367.56" y1="461.74" x2="363.56" y2="450.04" stroke="#ff6a6a" stroke-width="1.36" stroke-opacity="0.75"/>
<line x1="370.5" y1="473.8" x2="359.55" y2="469.9" stroke="#2d7880" stroke-width="7.2" />
<line x1="370.5" y1="473.8" x2="359.55" y2="469.9" stroke="#4fa6ae" stroke-width="4.96" />
<line x1="370.87" y1="472.75" x2="359.92" y2="468.85" stroke="#8fd0d4" stroke-width="1.36" stroke-opacity="0.75"/>
<line x1="359.55" y1="469.9" x2="348.6" y2="466" stroke="#9c0808" stroke-width="7.2" />
<line x1="359.55" y1="469.9" x2="348.6" y2="466" stroke="#e41616" stroke-width="4.96" />
<line x1="359.92" y1="468.85" x2="348.97" y2="464.95" stroke="#ff6a6a" stroke-width="1.36" stroke-opacity="0.75"/>
<line x1="370.5" y1="473.8" x2="380.75" y2="467.25" stroke="#2d7880" stroke-width="7.2" />
<line x1="370.5" y1="473.8" x2="380.75" y2="467.25" stroke="#4fa6ae" stroke-width="4.96" />
<line x1="369.9" y1="472.86" x2="380.15" y2="466.31" stroke="#8fd0d4" stroke-width="1.36" stroke-opacity="0.75"/>
<line x1="380.75" y1="467.25" x2="391" y2="460.7" stroke="#9c0808" stroke-width="7.2" />
<line x1="380.75" y1="467.25" x2="391" y2="460.7" stroke="#e41616" stroke-width="4.96" />
<line x1="380.15" y1="466.31" x2="390.4" y2="459.76" stroke="#ff6a6a" stroke-width="1.36" stroke-opacity="0.75"/>
<line x1="370.5" y1="473.8" x2="378.2" y2="486.2" stroke="#2d7880" stroke-width="7.2" />
<line x1="370.5" y1="473.8" x2="378.2" y2="486.2" stroke="#4fa6ae" stroke-width="4.96" />
<line x1="371.45" y1="473.21" x2="379.15" y2="485.61" stroke="#8fd0d4" stroke-width="1.36" stroke-opacity="0.75"/>
<line x1="378.2" y1="486.2" x2="385.9" y2="498.6" stroke="#9c0808" stroke-width="7.2" />
<line x1="378.2" y1="486.2" x2="385.9" y2="498.6" stroke="#e41616" stroke-width="4.96" />
<line x1="379.15" y1="485.61" x2="386.85" y2="498.01" stroke="#ff6a6a" stroke-width="1.36" stroke-opacity="0.75"/>
<line x1="370.5" y1="473.8" x2="358.3" y2="477.35" stroke="#2d7880" stroke-width="7.2" />
<line x1="370.5" y1="473.8" x2="358.3" y2="477.35" stroke="#4fa6ae" stroke-width="4.96" />
<line x1="370.19" y1="472.73" x2="357.99" y2="476.28" stroke="#8fd0d4" stroke-width="1.36" stroke-opacity="0.75"/>
<line x1="358.3" y1="477.35" x2="346.1" y2="480.9" stroke="#9c0808" stroke-width="7.2" />
<line x1="358.3" y1="477.35" x2="346.1" y2="480.9" stroke="#e41616" stroke-width="4.96" />
<line x1="357.99" y1="476.28" x2="345.79" y2="479.83" stroke="#ff6a6a" stroke-width="1.36" stroke-opacity="0.75"/>
<line x1="370.5" y1="473.8" x2="368.7" y2="492.8" stroke="#2d7880" stroke-width="7.2" />
<line x1="370.5" y1="473.8" x2="368.7" y2="492.8" stroke="#4fa6ae" stroke-width="4.96" />
<line x1="369.39" y1="473.69" x2="367.59" y2="492.69" stroke="#8fd0d4" stroke-width="1.36" stroke-opacity="0.75"/>
<line x1="368.7" y1="492.8" x2="366.9" y2="511.8" stroke="#9c0808" stroke-width="7.2" />
<line x1="368.7" y1="492.8" x2="366.9" y2="511.8" stroke="#e41616" stroke-width="4.96" />
<line x1="367.59" y1="492.69" x2="365.79" y2="511.69" stroke="#ff6a6a" stroke-width="1.36" stroke-opacity="0.75"/>
<line x1="391" y1="460.7" x2="408.15" y2="464.35" stroke="#9c0808" stroke-width="7.2" />
<line x1="391" y1="460.7" x2="408.15" y2="464.35" stroke="#e41616" stroke-width="4.96" />
<line x1="391.23" y1="459.61" x2="408.38" y2="463.26" stroke="#ff6a6a" stroke-width="1.36" stroke-opacity="0.75"/>
<line x1="408.15" y1="464.35" x2="425.3" y2="468" stroke="#2d7880" stroke-width="7.2" />
<line x1="408.15" y1="464.35" x2="425.3" y2="468" stroke="#4fa6ae" stroke-width="4.96" />
<line x1="408.38" y1="463.26" x2="425.53" y2="466.91" stroke="#8fd0d4" stroke-width="1.36" stroke-opacity="0.75"/>
<line x1="421.6" y1="453.4" x2="423.45" y2="460.7" stroke="#9c0808" stroke-width="7.2" />
<line x1="421.6" y1="453.4" x2="423.45" y2="460.7" stroke="#e41616" stroke-width="4.96" />
<line x1="422.68" y1="453.13" x2="424.53" y2="460.43" stroke="#ff6a6a" stroke-width="1.36" stroke-opacity="0.75"/>
<line x1="423.45" y1="460.7" x2="425.3" y2="468" stroke="#2d7880" stroke-width="7.2" />
<line x1="423.45" y1="460.7" x2="425.3" y2="468" stroke="#4fa6ae" stroke-width="4.96" />
<line x1="424.53" y1="460.43" x2="426.38" y2="467.73" stroke="#8fd0d4" stroke-width="1.36" stroke-opacity="0.75"/>
<line x1="337.8" y1="435" x2="354.15" y2="454.4" stroke="#2d7880" stroke-width="7.2" />
<line x1="337.8" y1="435" x2="354.15" y2="454.4" stroke="#4fa6ae" stroke-width="4.96" />
<line x1="338.65" y1="434.28" x2="355" y2="453.68" stroke="#8fd0d4" stroke-width="1.36" stroke-opacity="0.75"/>
<line x1="354.15" y1="454.4" x2="370.5" y2="473.8" stroke="#2d7880" stroke-width="7.2" />
<line x1="354.15" y1="454.4" x2="370.5" y2="473.8" stroke="#4fa6ae" stroke-width="4.96" />
<line x1="355" y1="453.68" x2="371.35" y2="473.08" stroke="#8fd0d4" stroke-width="1.36" stroke-opacity="0.75"/>
<line x1="319.9" y1="448" x2="318.8" y2="452.05" stroke="#9c0808" stroke-width="7.2" />
<line x1="319.9" y1="448" x2="318.8" y2="452.05" stroke="#e41616" stroke-width="4.96" />
<line x1="318.82" y1="447.71" x2="317.72" y2="451.76" stroke="#ff6a6a" stroke-width="1.36" stroke-opacity="0.75"/>
<line x1="318.8" y1="452.05" x2="317.7" y2="456.1" stroke="#9c0808" stroke-width="7.2" />
<line x1="318.8" y1="452.05" x2="317.7" y2="456.1" stroke="#e41616" stroke-width="4.96" />
<line x1="317.72" y1="451.76" x2="316.62" y2="455.81" stroke="#ff6a6a" stroke-width="1.36" stroke-opacity="0.75"/>
<line x1="319.1" y1="475" x2="333.85" y2="470.5" stroke="#2d7880" stroke-width="7.2" />
<line x1="319.1" y1="475" x2="333.85" y2="470.5" stroke="#4fa6ae" stroke-width="4.96" />
<line x1="318.77" y1="473.93" x2="333.52" y2="469.43" stroke="#8fd0d4" stroke-width="1.36" stroke-opacity="0.75"/>
<line x1="333.85" y1="470.5" x2="348.6" y2="466" stroke="#9c0808" stroke-width="7.2" />
<line x1="333.85" y1="470.5" x2="348.6" y2="466" stroke="#e41616" stroke-width="4.96" />
<line x1="333.52" y1="469.43" x2="348.27" y2="464.93" stroke="#ff6a6a" stroke-width="1.36" stroke-opacity="0.75"/>
<line x1="334.5" y1="461.9" x2="341.55" y2="463.95" stroke="#9c0808" stroke-width="6" />
<line x1="334.5" y1="461.9" x2="341.55" y2="463.95" stroke="#e41616" stroke-width="4" />
<line x1="334.75" y1="461.04" x2="341.8" y2="463.09" stroke="#ff6a6a" stroke-width="1.1" stroke-opacity="0.75"/>
<line x1="341.55" y1="463.95" x2="348.6" y2="466" stroke="#9c0808" stroke-width="6" />
<line x1="341.55" y1="463.95" x2="348.6" y2="466" stroke="#e41616" stroke-width="4" />
<line x1="341.8" y1="463.09" x2="348.85" y2="465.14" stroke="#ff6a6a" stroke-width="1.1" stroke-opacity="0.75"/>
<line x1="345" y1="430" x2="355.95" y2="434.4" stroke="#9c0808" stroke-width="6" />
<line x1="345" y1="430" x2="355.95" y2="434.4" stroke="#e41616" stroke-width="4" />
<line x1="345.34" y1="429.16" x2="356.29" y2="433.56" stroke="#ff6a6a" stroke-width="1.1" stroke-opacity="0.75"/>
<line x1="355.95" y1="434.4" x2="366.9" y2="438.8" stroke="#9c0808" stroke-width="6" />
<line x1="355.95" y1="434.4" x2="366.9" y2="438.8" stroke="#e41616" stroke-width="4" />
<line x1="356.29" y1="433.56" x2="367.24" y2="437.96" stroke="#ff6a6a" stroke-width="1.1" stroke-opacity="0.75"/>
<line x1="376" y1="479" x2="373.25" y2="476.4" stroke="#9c0808" stroke-width="6" />
<line x1="376" y1="479" x2="373.25" y2="476.4" stroke="#e41616" stroke-width="4" />
<line x1="376.62" y1="478.35" x2="373.87" y2="475.75" stroke="#ff6a6a" stroke-width="1.1" stroke-opacity="0.75"/>
<line x1="373.25" y1="476.4" x2="370.5" y2="473.8" stroke="#9c0808" stroke-width="6" />
<line x1="373.25" y1="476.4" x2="370.5" y2="473.8" stroke="#e41616" stroke-width="4" />
<line x1="373.87" y1="475.75" x2="371.12" y2="473.15" stroke="#ff6a6a" stroke-width="1.1" stroke-opacity="0.75"/>
<circle cx="316.8" cy="398.1" r="5.8" fill="url(#mT)" />
<circle cx="297.7" cy="406.7" r="5.3" fill="url(#mT)" />
<circle cx="347.2" cy="400.3" r="6.2" fill="url(#mT)" />
<circle cx="303.6" cy="424.4" r="5.3" fill="url(#mT)" />
<circle cx="338.4" cy="423.8" r="5.2" fill="url(#mT)" />
<circle cx="337.8" cy="435" r="5.2" fill="url(#mT)" />
<circle cx="319.1" cy="475" r="5" fill="url(#mT)" />
<circle cx="370.5" cy="473.8" r="5" fill="url(#mT)" />
<circle cx="425.3" cy="468" r="3.6" fill="url(#mT)" />
<circle cx="286.6" cy="408.9" r="3.8" fill="url(#mT)" />
<circle cx="366.9" cy="438.8" r="6.3" fill="url(#mR)" />
<circle cx="362.5" cy="450.4" r="6.2" fill="url(#mR)" />
<circle cx="319.9" cy="448" r="6.2" fill="url(#mR)" />
<circle cx="317.7" cy="456.1" r="6.2" fill="url(#mR)" />
<circle cx="289.2" cy="473.6" r="6.8" fill="url(#mR)" />
<circle cx="346.1" cy="480.9" r="6.8" fill="url(#mR)" />
<circle cx="314.7" cy="497.7" r="6.4" fill="url(#mR)" />
<circle cx="348.6" cy="466" r="6.2" fill="url(#mR)" />
<circle cx="391" cy="460.7" r="6.4" fill="url(#mR)" />
<circle cx="421.6" cy="453.4" r="6.8" fill="url(#mR)" />
<circle cx="385.9" cy="498.6" r="6.3" fill="url(#mR)" />
<circle cx="366.9" cy="511.8" r="6" fill="url(#mR)" />
<rect x="246" y="387" width="202" height="137" fill="url(#fadeL)"/>
<rect x="246" y="387" width="202" height="137" fill="url(#fadeB)"/>
<circle cx="381.3" cy="421.1" r="6.8" fill="url(#mW)" />
<path d="M365.2,404.5 Q384,386 404,418" fill="none" stroke="#e9a800" stroke-width="4" stroke-linecap="butt"/>
<polygon points="398.5,418.5 410.5,416 406.5,428.5" fill="#e9a800" stroke="none" stroke-width="1" />
<line x1="387.7" y1="415.3" x2="413.4" y2="392.8" stroke="#3a5fb0" stroke-width="1.8" />
<line x1="397.4" y1="389.6" x2="405.4" y2="418.5" stroke="#3a5fb0" stroke-width="1.8" />
<circle cx="397" cy="478.5" r="8.3" fill="none" stroke="#ee1c1c" stroke-width="2" stroke-dasharray="4,2.2"/>
<line x1="381" y1="479" x2="388.5" y2="478.8" stroke="#ee1c1c" stroke-width="2" stroke-dasharray="3,2"/>
<line x1="405.5" y1="477.5" x2="420" y2="471" stroke="#ee1c1c" stroke-width="2" stroke-dasharray="3.5,2.5"/>
<text x="409.6" y="498.3" font-size="11" fill="#ee1c1c" text-anchor="middle" font-weight="bold" >Ov</text>
<text x="264.1" y="444.2" font-size="11" fill="#4a6cb6" text-anchor="middle" transform="rotate(-90 264.1 444.2)">Inhibited</text>
<text x="278.3" y="444.2" font-size="11" fill="#4a6cb6" text-anchor="middle" transform="rotate(-90 278.3 444.2)">Hydrogen spillover</text>
<rect x="243.2" y="384.8" width="207.1" height="141.6" fill="none" stroke="#3a62b4" stroke-width="1.9" stroke-dasharray="7,4.5"/>
</svg></body></html>
